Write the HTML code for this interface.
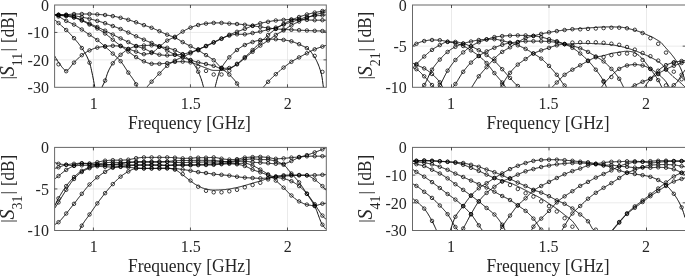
<!DOCTYPE html>
<html><head><meta charset="utf-8"><title>S-parameters</title>
<style>html,body{margin:0;padding:0;background:#fff;}body{width:685px;height:276px;overflow:hidden;}</style>
</head><body>
<svg width="685" height="276" viewBox="0 0 685 276" style="display:block">
<defs>
<clipPath id="c1"><rect x="54.6" y="5.0" width="271.7" height="82.3"/></clipPath>
<clipPath id="c2"><rect x="412.5" y="5.0" width="273.0" height="82.3"/></clipPath>
<clipPath id="c3"><rect x="54.6" y="147.4" width="271.7" height="83.1"/></clipPath>
<clipPath id="c4"><rect x="412.5" y="147.4" width="273.0" height="83.1"/></clipPath>
</defs>
<rect width="685" height="276" fill="#fff"/>
<line x1="93.41" y1="5.0" x2="93.41" y2="87.3" stroke="#dcdcdc" stroke-width="0.6"/>
<line x1="190.45" y1="5.0" x2="190.45" y2="87.3" stroke="#dcdcdc" stroke-width="0.6"/>
<line x1="287.49" y1="5.0" x2="287.49" y2="87.3" stroke="#dcdcdc" stroke-width="0.6"/>
<line x1="54.6" y1="32.43" x2="326.3" y2="32.43" stroke="#dcdcdc" stroke-width="0.6"/>
<line x1="54.6" y1="59.87" x2="326.3" y2="59.87" stroke="#dcdcdc" stroke-width="0.6"/>
<g clip-path="url(#c1)" fill="none" stroke="#000">
<path d="M54.6,14.7 L55.1,14.7 L55.6,14.7 L56.1,14.7 L56.6,14.7 L57.1,14.7 L57.6,14.7 L58.1,14.7 L58.6,14.7 L59.1,14.7 L59.6,14.7 L60.1,14.7 L60.6,14.7 L61.1,14.7 L61.6,14.7 L62.1,14.7 L62.6,14.7 L63.1,14.7 L63.6,14.7 L64.1,14.7 L64.6,14.7 L65.1,14.7 L65.6,14.7 L66.1,14.7 L66.6,14.7 L67.1,14.7 L67.6,14.6 L68.1,14.6 L68.6,14.5 L69.1,14.5 L69.6,14.4 L70.1,14.4 L70.6,14.3 L71.1,14.2 L71.6,14.2 L72.1,14.1 L72.6,14.1 L73.1,14.0 L73.6,14.0 L74.1,14.0 L74.6,14.0 L75.1,14.0 L75.6,14.0 L76.1,14.0 L76.6,14.0 L77.1,14.0 L77.6,14.0 L78.1,14.0 L78.6,14.0 L79.1,14.0 L79.6,14.0 L80.1,14.0 L80.6,14.0 L81.1,14.0 L81.6,14.0 L82.1,14.0 L82.6,14.0 L83.1,14.0 L83.6,14.0 L84.1,14.0 L84.6,14.0 L85.1,14.0 L85.6,14.0 L86.1,14.0 L86.6,14.0 L87.1,14.0 L87.6,14.0 L88.1,14.0 L88.6,14.0 L89.1,14.0 L89.6,14.0 L90.1,14.0 L90.6,14.0 L91.1,14.0 L91.6,14.0 L92.1,14.1 L92.6,14.1 L93.1,14.1 L93.6,14.2 L94.1,14.2 L94.6,14.2 L95.1,14.3 L95.6,14.3 L96.1,14.3 L96.6,14.4 L97.1,14.4 L97.6,14.4 L98.1,14.5 L98.6,14.5 L99.1,14.5 L99.6,14.6 L100.1,14.6 L100.6,14.6 L101.1,14.7 L101.6,14.7 L102.1,14.7 L102.6,14.8 L103.1,14.8 L103.6,14.9 L104.1,14.9 L104.6,15.0 L105.1,15.0 L105.6,15.1 L106.1,15.1 L106.6,15.2 L107.1,15.2 L107.6,15.3 L108.1,15.3 L108.6,15.4 L109.1,15.5 L109.6,15.6 L110.1,15.6 L110.6,15.7 L111.1,15.8 L111.6,15.9 L112.1,15.9 L112.6,16.0 L113.1,16.1 L113.6,16.2 L114.1,16.3 L114.6,16.4 L115.1,16.5 L115.6,16.6 L116.1,16.7 L116.6,16.8 L117.1,17.0 L117.6,17.1 L118.1,17.2 L118.6,17.3 L119.1,17.4 L119.6,17.6 L120.1,17.7 L120.6,17.8 L121.1,17.9 L121.6,18.0 L122.1,18.2 L122.6,18.3 L123.1,18.4 L123.6,18.5 L124.1,18.7 L124.6,18.8 L125.1,18.9 L125.6,19.0 L126.1,19.2 L126.6,19.3 L127.1,19.5 L127.6,19.6 L128.1,19.7 L128.6,19.9 L129.1,20.0 L129.6,20.2 L130.1,20.3 L130.6,20.5 L131.1,20.6 L131.6,20.8 L132.1,21.0 L132.6,21.1 L133.1,21.3 L133.6,21.5 L134.1,21.6 L134.6,21.8 L135.1,22.0 L135.6,22.1 L136.1,22.3 L136.6,22.5 L137.1,22.6 L137.6,22.8 L138.1,23.0 L138.6,23.2 L139.1,23.4 L139.6,23.5 L140.1,23.7 L140.6,23.9 L141.1,24.1 L141.6,24.3 L142.1,24.5 L142.6,24.6 L143.1,24.8 L143.6,25.0 L144.1,25.2 L144.6,25.4 L145.1,25.5 L145.6,25.7 L146.1,25.9 L146.6,26.0 L147.1,26.2 L147.6,26.4 L148.1,26.5 L148.6,26.7 L149.1,26.9 L149.6,27.1 L150.1,27.2 L150.6,27.4 L151.1,27.6 L151.6,27.8 L152.1,28.0 L152.6,28.2 L153.1,28.4 L153.6,28.6 L154.1,28.8 L154.6,29.0 L155.1,29.3 L155.6,29.5 L156.1,29.7 L156.6,29.9 L157.1,30.2 L157.6,30.4 L158.1,30.6 L158.6,30.8 L159.1,31.1 L159.6,31.3 L160.1,31.5 L160.6,31.7 L161.1,32.0 L161.6,32.2 L162.1,32.4 L162.6,32.7 L163.1,32.9 L163.6,33.1 L164.1,33.4 L164.6,33.6 L165.1,33.8 L165.6,34.0 L166.1,34.3 L166.6,34.5 L167.1,34.7 L167.6,34.9 L168.1,35.1 L168.6,35.3 L169.1,35.4 L169.6,35.6 L170.1,35.8 L170.6,36.0 L171.1,36.1 L171.6,36.3 L172.1,36.5 L172.6,36.7 L173.1,36.8 L173.6,37.0 L174.1,37.2 L174.6,37.5 L175.1,37.7 L175.6,37.9 L176.1,38.2 L176.6,38.4 L177.1,38.7 L177.6,39.0 L178.1,39.3 L178.6,39.6 L179.1,39.9 L179.6,40.2 L180.1,40.6 L180.6,40.9 L181.1,41.2 L181.6,41.5 L182.1,41.8 L182.6,42.1 L183.1,42.3 L183.6,42.6 L184.1,42.9 L184.6,43.1 L185.1,43.4 L185.6,43.7 L186.1,43.9 L186.6,44.2 L187.1,44.5 L187.6,44.7 L188.1,45.0 L188.6,45.2 L189.1,45.5 L189.6,45.8 L190.1,46.0 L190.6,46.3 L191.1,46.5 L191.6,46.8 L192.1,47.1 L192.6,47.3 L193.1,47.6 L193.6,47.8 L194.1,48.1 L194.6,48.3 L195.1,48.6 L195.6,48.9 L196.1,49.1 L196.6,49.4 L197.1,49.7 L197.6,50.0 L198.1,50.2 L198.6,50.5 L199.1,50.8 L199.6,51.1 L200.1,51.4 L200.6,51.7 L201.1,52.0 L201.6,52.3 L202.1,52.6 L202.6,53.0 L203.1,53.3 L203.6,53.6 L204.1,53.9 L204.6,54.2 L205.1,54.5 L205.6,54.9 L206.1,55.2 L206.6,55.5 L207.1,55.8 L207.6,56.1 L208.1,56.4 L208.6,56.7 L209.1,57.0 L209.6,57.3 L210.1,57.6 L210.6,58.0 L211.1,58.3 L211.6,58.6 L212.1,59.0 L212.6,59.3 L213.1,59.7 L213.6,60.1 L214.1,60.5 L214.6,60.9 L215.1,61.4 L215.6,61.9 L216.1,62.4 L216.6,63.0 L217.1,63.5 L217.6,64.1 L218.1,64.6 L218.6,65.2 L219.1,65.7 L219.6,66.3 L220.1,66.8 L220.6,67.3 L221.1,67.8 L221.6,68.3 L222.1,68.7 L222.6,69.2 L223.1,69.6 L223.6,70.0 L224.1,70.4 L224.6,70.8 L225.1,71.1 L225.6,71.5 L226.1,71.9 L226.6,72.3 L227.1,72.7 L227.6,73.1 L228.1,73.5 L228.6,74.0 L229.1,74.4 L229.6,74.9 L230.1,75.4 L230.6,75.9 L231.1,76.4 L231.6,76.9 L232.1,77.4 L232.6,78.0 L233.1,78.5 L233.6,79.1 L234.1,79.6 L234.6,80.2 L235.1,80.9 L235.6,81.5 L236.1,82.2 L236.6,82.9 L237.1,83.6 L237.6,84.4 L238.1,85.4 L238.6,86.4 L239.1,87.3 L239.6,88.2 L240.1,89.1 L240.6,90.0 L241.1,91.0 L241.6,91.9 L242.1,92.8" stroke-width="0.95"/>
<circle cx="58.5" cy="14.7" r="1.75" stroke-width="0.75"/>
<circle cx="66.2" cy="14.7" r="1.75" stroke-width="0.75"/>
<circle cx="74.0" cy="14.0" r="1.75" stroke-width="0.75"/>
<circle cx="81.8" cy="14.0" r="1.75" stroke-width="0.75"/>
<circle cx="89.5" cy="14.0" r="1.75" stroke-width="0.75"/>
<circle cx="97.3" cy="14.4" r="1.75" stroke-width="0.75"/>
<circle cx="105.1" cy="15.0" r="1.75" stroke-width="0.75"/>
<circle cx="112.8" cy="16.1" r="1.75" stroke-width="0.75"/>
<circle cx="120.6" cy="17.8" r="1.75" stroke-width="0.75"/>
<circle cx="128.3" cy="19.8" r="1.75" stroke-width="0.75"/>
<circle cx="136.1" cy="22.3" r="1.75" stroke-width="0.75"/>
<circle cx="143.9" cy="25.1" r="1.75" stroke-width="0.75"/>
<circle cx="151.6" cy="27.8" r="1.75" stroke-width="0.75"/>
<circle cx="159.4" cy="31.2" r="1.75" stroke-width="0.75"/>
<circle cx="167.2" cy="34.7" r="1.75" stroke-width="0.75"/>
<circle cx="174.9" cy="37.6" r="1.75" stroke-width="0.75"/>
<circle cx="182.7" cy="42.1" r="1.75" stroke-width="0.75"/>
<circle cx="190.5" cy="46.2" r="1.75" stroke-width="0.75"/>
<circle cx="198.2" cy="50.3" r="1.75" stroke-width="0.75"/>
<circle cx="206.0" cy="55.1" r="1.75" stroke-width="0.75"/>
<circle cx="213.7" cy="60.2" r="1.75" stroke-width="0.75"/>
<circle cx="221.5" cy="68.2" r="1.75" stroke-width="0.75"/>
<circle cx="229.3" cy="74.6" r="1.75" stroke-width="0.75"/>
<circle cx="237.0" cy="83.5" r="1.75" stroke-width="0.75"/>
<path d="M258.0,93.2 L258.5,92.6 L259.0,92.1 L259.5,91.5 L260.0,90.9 L260.5,90.4 L261.0,89.8 L261.5,89.2 L262.0,88.7 L262.5,88.1 L263.0,87.5 L263.5,87.0 L264.0,86.4 L264.5,85.8 L265.0,85.3 L265.5,84.7 L266.0,84.1 L266.5,83.5 L267.0,83.0 L267.5,82.4 L268.0,81.9 L268.5,81.4 L269.0,80.9 L269.5,80.3 L270.0,79.8 L270.5,79.3 L271.0,78.8 L271.5,78.3 L272.0,77.8 L272.5,77.3 L273.0,76.8 L273.5,76.4 L274.0,75.9 L274.5,75.4 L275.0,74.9 L275.5,74.5 L276.0,74.0 L276.5,73.6 L277.0,73.1 L277.5,72.7 L278.0,72.3 L278.5,71.8 L279.0,71.4 L279.5,71.0 L280.0,70.6 L280.5,70.2 L281.0,69.7 L281.5,69.3 L282.0,68.9 L282.5,68.5 L283.0,68.1 L283.5,67.7 L284.0,67.3 L284.5,66.9 L285.0,66.5 L285.5,66.1 L286.0,65.7 L286.5,65.3 L287.0,65.0 L287.5,64.6 L288.0,64.2 L288.5,63.8 L289.0,63.5 L289.5,63.1 L290.0,62.7 L290.5,62.4 L291.0,62.1 L291.5,61.7 L292.0,61.4 L292.5,61.1 L293.0,60.8 L293.5,60.5 L294.0,60.2 L294.5,59.9 L295.0,59.7 L295.5,59.4 L296.0,59.1 L296.5,58.8 L297.0,58.6 L297.5,58.3 L298.0,58.0 L298.5,57.7 L299.0,57.5 L299.5,57.2 L300.0,56.9 L300.5,56.6 L301.0,56.4 L301.5,56.1 L302.0,55.8 L302.5,55.6 L303.0,55.3 L303.5,55.0 L304.0,54.8 L304.5,54.5 L305.0,54.2 L305.5,54.0 L306.0,53.7 L306.5,53.5 L307.0,53.2 L307.5,52.9 L308.0,52.7 L308.5,52.4 L309.0,52.1 L309.5,51.8 L310.0,51.6 L310.5,51.3 L311.0,51.0 L311.5,50.8 L312.0,50.5 L312.5,50.3 L313.0,50.0 L313.5,49.8 L314.0,49.6 L314.5,49.3 L315.0,49.1 L315.5,48.9 L316.0,48.8 L316.5,48.6 L317.0,48.4 L317.5,48.2 L318.0,48.0 L318.5,47.9 L319.0,47.7 L319.5,47.5 L320.0,47.4 L320.5,47.2 L321.0,47.1 L321.5,46.9 L322.0,46.7 L322.5,46.5 L323.0,46.4 L323.5,46.2 L324.0,46.0 L324.5,45.8 L325.0,45.6 L325.5,45.5 L326.0,45.3" stroke-width="0.95"/>
<circle cx="268.1" cy="81.8" r="1.75" stroke-width="0.75"/>
<circle cx="275.8" cy="74.2" r="1.75" stroke-width="0.75"/>
<circle cx="283.6" cy="67.6" r="1.75" stroke-width="0.75"/>
<circle cx="291.4" cy="61.8" r="1.75" stroke-width="0.75"/>
<circle cx="299.1" cy="57.4" r="1.75" stroke-width="0.75"/>
<circle cx="306.9" cy="53.3" r="1.75" stroke-width="0.75"/>
<circle cx="314.7" cy="49.3" r="1.75" stroke-width="0.75"/>
<circle cx="322.4" cy="46.6" r="1.75" stroke-width="0.75"/>
<path d="M54.6,55.8 L55.1,56.7 L55.6,57.6 L56.1,58.4 L56.6,59.3 L57.1,60.1 L57.6,60.9 L58.1,61.7 L58.6,62.5 L59.1,63.2 L59.6,63.9 L60.1,64.6 L60.6,65.2 L61.1,65.9 L61.6,66.6 L62.1,67.2 L62.6,67.8 L63.1,68.3 L63.6,68.9 L64.1,69.4 L64.6,69.9 L65.1,70.4 L65.6,70.9 L66.1,71.3" stroke-width="0.95"/>
<path d="M66.1,71.3 L66.6,70.9 L67.1,70.6 L67.6,70.2 L68.1,69.7 L68.6,69.2 L69.1,68.7 L69.6,68.1 L70.1,67.5 L70.6,66.8 L71.1,66.2 L71.6,65.5 L72.1,64.9 L72.6,64.2 L73.1,63.6 L73.6,63.0 L74.1,62.5 L74.6,62.0 L75.1,61.4 L75.6,60.9 L76.1,60.4 L76.6,59.9 L77.1,59.4 L77.6,58.9 L78.1,58.4 L78.6,57.9 L79.1,57.5 L79.6,57.0 L80.1,56.6 L80.6,56.2 L81.1,55.8 L81.6,55.4 L82.1,55.0 L82.6,54.6 L83.1,54.3 L83.6,53.9 L84.1,53.6 L84.6,53.2 L85.1,52.9 L85.6,52.6 L86.1,52.3 L86.6,52.0 L87.1,51.7 L87.6,51.4 L88.1,51.1 L88.6,50.9 L89.1,50.6 L89.6,50.4 L90.1,50.2 L90.6,49.9 L91.1,49.7 L91.6,49.5 L92.1,49.3 L92.6,49.1 L93.1,48.9 L93.6,48.7 L94.1,48.5 L94.6,48.3 L95.1,48.2 L95.6,48.0 L96.1,47.9 L96.6,47.7 L97.1,47.6 L97.6,47.5 L98.1,47.4 L98.6,47.3 L99.1,47.2 L99.6,47.1 L100.1,47.0 L100.6,47.0 L101.1,46.9 L101.6,46.8 L102.1,46.7 L102.6,46.7 L103.1,46.6 L103.6,46.5 L104.1,46.5 L104.6,46.4 L105.1,46.4 L105.6,46.3 L106.1,46.3 L106.6,46.2 L107.1,46.2 L107.6,46.1 L108.1,46.1 L108.6,46.0 L109.1,46.0 L109.6,45.9 L110.1,45.9 L110.6,45.9 L111.1,45.8 L111.6,45.8 L112.1,45.8 L112.6,45.8 L113.1,45.8 L113.6,45.8 L114.1,45.8 L114.6,45.8 L115.1,45.8 L115.6,45.9 L116.1,45.9 L116.6,45.9 L117.1,45.9 L117.6,46.0 L118.1,46.0 L118.6,46.0 L119.1,46.1 L119.6,46.1 L120.1,46.2 L120.6,46.2 L121.1,46.3 L121.6,46.4 L122.1,46.5 L122.6,46.6 L123.1,46.8 L123.6,47.0 L124.1,47.2 L124.6,47.4 L125.1,47.6 L125.6,47.8 L126.1,48.0 L126.6,48.2 L127.1,48.4 L127.6,48.6 L128.1,48.8 L128.6,49.0 L129.1,49.2 L129.6,49.3 L130.1,49.5 L130.6,49.7 L131.1,49.9 L131.6,50.0 L132.1,50.2 L132.6,50.4 L133.1,50.6 L133.6,50.7 L134.1,50.9 L134.6,51.1 L135.1,51.3 L135.6,51.4 L136.1,51.6 L136.6,51.8 L137.1,52.0 L137.6,52.2 L138.1,52.4 L138.6,52.6 L139.1,52.8 L139.6,53.1 L140.1,53.3 L140.6,53.5 L141.1,53.7 L141.6,53.8 L142.1,54.0 L142.6,54.1 L143.1,54.2 L143.6,54.2 L144.1,54.2 L144.6,54.2 L145.1,54.2 L145.6,54.1 L146.1,54.1 L146.6,54.0 L147.1,53.9 L147.6,53.8 L148.1,53.8 L148.6,53.7 L149.1,53.5 L149.6,53.4 L150.1,53.3 L150.6,53.2 L151.1,53.0 L151.6,52.9 L152.1,52.7 L152.6,52.5 L153.1,52.2 L153.6,51.9 L154.1,51.5 L154.6,51.1 L155.1,50.7 L155.6,50.2 L156.1,49.7 L156.6,49.3 L157.1,48.8 L157.6,48.3 L158.1,47.8 L158.6,47.4 L159.1,46.9 L159.6,46.5 L160.1,46.1 L160.6,45.7 L161.1,45.3 L161.6,44.9 L162.1,44.5 L162.6,44.0 L163.1,43.6 L163.6,43.2 L164.1,42.8 L164.6,42.4 L165.1,42.0 L165.6,41.6 L166.1,41.3 L166.6,41.0 L167.1,40.6 L167.6,40.3 L168.1,40.1 L168.6,39.8 L169.1,39.6 L169.6,39.3 L170.1,39.1 L170.6,38.9 L171.1,38.6 L171.6,38.4 L172.1,38.2 L172.6,38.0 L173.1,37.7 L173.6,37.5 L174.1,37.2 L174.6,37.0 L175.1,36.7 L175.6,36.4 L176.1,36.1 L176.6,35.8 L177.1,35.4 L177.6,35.1 L178.1,34.7 L178.6,34.4 L179.1,34.0 L179.6,33.6 L180.1,33.3 L180.6,32.9 L181.1,32.6 L181.6,32.3 L182.1,32.0 L182.6,31.7 L183.1,31.4 L183.6,31.1 L184.1,30.8 L184.6,30.5 L185.1,30.2 L185.6,29.9 L186.1,29.7 L186.6,29.4 L187.1,29.2 L187.6,28.9 L188.1,28.7 L188.6,28.4 L189.1,28.2 L189.6,28.0 L190.1,27.7 L190.6,27.5 L191.1,27.3 L191.6,27.1 L192.1,26.9 L192.6,26.8 L193.1,26.6 L193.6,26.4 L194.1,26.2 L194.6,26.0 L195.1,25.9 L195.6,25.7 L196.1,25.6 L196.6,25.4 L197.1,25.3 L197.6,25.1 L198.1,25.0 L198.6,24.9 L199.1,24.8 L199.6,24.7 L200.1,24.6 L200.6,24.5 L201.1,24.4 L201.6,24.3 L202.1,24.2 L202.6,24.1 L203.1,24.0 L203.6,23.9 L204.1,23.9 L204.6,23.8 L205.1,23.7 L205.6,23.6 L206.1,23.6 L206.6,23.5 L207.1,23.5 L207.6,23.4 L208.1,23.3 L208.6,23.3 L209.1,23.2 L209.6,23.2 L210.1,23.1 L210.6,23.1 L211.1,23.0 L211.6,23.0 L212.1,22.9 L212.6,22.9 L213.1,22.9 L213.6,22.9 L214.1,22.9 L214.6,22.9 L215.1,22.9 L215.6,22.9 L216.1,22.9 L216.6,22.9 L217.1,22.9 L217.6,22.9 L218.1,22.9 L218.6,22.9 L219.1,22.9 L219.6,22.9 L220.1,22.9 L220.6,22.9 L221.1,22.9 L221.6,22.9 L222.1,22.9 L222.6,22.9 L223.1,23.0 L223.6,23.0 L224.1,23.0 L224.6,23.1 L225.1,23.2 L225.6,23.2 L226.1,23.3 L226.6,23.3 L227.1,23.4 L227.6,23.4 L228.1,23.5 L228.6,23.5 L229.1,23.6 L229.6,23.6 L230.1,23.7 L230.6,23.7 L231.1,23.7 L231.6,23.7 L232.1,23.8 L232.6,23.8 L233.1,23.8 L233.6,23.8 L234.1,23.8 L234.6,23.9 L235.1,23.9 L235.6,23.9 L236.1,23.9 L236.6,24.0 L237.1,24.0 L237.6,24.0 L238.1,24.1 L238.6,24.1 L239.1,24.2 L239.6,24.2 L240.1,24.3 L240.6,24.3 L241.1,24.4 L241.6,24.4 L242.1,24.5 L242.6,24.5 L243.1,24.6 L243.6,24.7 L244.1,24.7 L244.6,24.8 L245.1,24.8 L245.6,24.9 L246.1,25.0 L246.6,25.0 L247.1,25.1 L247.6,25.1 L248.1,25.2 L248.6,25.3 L249.1,25.3 L249.6,25.4 L250.1,25.5 L250.6,25.5 L251.1,25.6 L251.6,25.7 L252.1,25.7 L252.6,25.8 L253.1,25.9 L253.6,25.9 L254.1,26.0 L254.6,26.1 L255.1,26.2 L255.6,26.2 L256.1,26.3 L256.6,26.4 L257.1,26.4 L257.6,26.5 L258.1,26.6 L258.6,26.7 L259.1,26.7 L259.6,26.8 L260.1,26.9 L260.6,26.9 L261.1,27.0 L261.6,27.1 L262.1,27.1 L262.6,27.2 L263.1,27.3 L263.6,27.3 L264.1,27.4 L264.6,27.5 L265.1,27.5 L265.6,27.6 L266.1,27.6 L266.6,27.7 L267.1,27.8 L267.6,27.8 L268.1,27.9 L268.6,28.0 L269.1,28.0 L269.6,28.1 L270.1,28.2 L270.6,28.2 L271.1,28.3 L271.6,28.4 L272.1,28.5 L272.6,28.5 L273.1,28.6 L273.6,28.7 L274.1,28.7 L274.6,28.8 L275.1,28.8 L275.6,28.9 L276.1,28.9 L276.6,29.0 L277.1,29.0 L277.6,29.0 L278.1,29.1 L278.6,29.1 L279.1,29.1 L279.6,29.2 L280.1,29.2 L280.6,29.2 L281.1,29.3 L281.6,29.3 L282.1,29.3 L282.6,29.3 L283.1,29.4 L283.6,29.4 L284.1,29.4 L284.6,29.5 L285.1,29.5 L285.6,29.5 L286.1,29.5 L286.6,29.6 L287.1,29.6 L287.6,29.6 L288.1,29.6 L288.6,29.7 L289.1,29.7 L289.6,29.7 L290.1,29.7 L290.6,29.8 L291.1,29.8 L291.6,29.8 L292.1,29.8 L292.6,29.9 L293.1,29.9 L293.6,29.9 L294.1,29.9 L294.6,30.0 L295.1,30.0 L295.6,30.0 L296.1,30.1 L296.6,30.1 L297.1,30.1 L297.6,30.1 L298.1,30.2 L298.6,30.2 L299.1,30.2 L299.6,30.2 L300.1,30.2 L300.6,30.3 L301.1,30.3 L301.6,30.3 L302.1,30.3 L302.6,30.3 L303.1,30.4 L303.6,30.4 L304.1,30.4 L304.6,30.4 L305.1,30.4 L305.6,30.5 L306.1,30.5 L306.6,30.5 L307.1,30.5 L307.6,30.5 L308.1,30.5 L308.6,30.6 L309.1,30.6 L309.6,30.6 L310.1,30.6 L310.6,30.7 L311.1,30.7 L311.6,30.7 L312.1,30.7 L312.6,30.7 L313.1,30.7 L313.6,30.8 L314.1,30.8 L314.6,30.8 L315.1,30.8 L315.6,30.8 L316.1,30.8 L316.6,30.9 L317.1,30.9 L317.6,30.9 L318.1,30.9 L318.6,30.9 L319.1,30.9 L319.6,30.9 L320.1,30.9 L320.6,31.0 L321.1,31.0 L321.6,31.0 L322.1,31.0 L322.6,31.0 L323.1,31.0 L323.6,31.0 L324.1,31.0 L324.6,31.1 L325.1,31.1 L325.6,31.1 L326.1,31.1" stroke-width="0.95"/>
<circle cx="66.2" cy="71.2" r="1.75" stroke-width="0.75"/>
<circle cx="74.0" cy="62.6" r="1.75" stroke-width="0.75"/>
<circle cx="81.8" cy="55.2" r="1.75" stroke-width="0.75"/>
<circle cx="89.5" cy="50.4" r="1.75" stroke-width="0.75"/>
<circle cx="97.3" cy="47.6" r="1.75" stroke-width="0.75"/>
<circle cx="105.1" cy="46.4" r="1.75" stroke-width="0.75"/>
<circle cx="112.8" cy="45.8" r="1.75" stroke-width="0.75"/>
<circle cx="120.6" cy="46.2" r="1.75" stroke-width="0.75"/>
<circle cx="128.3" cy="48.9" r="1.75" stroke-width="0.75"/>
<circle cx="136.1" cy="51.6" r="1.75" stroke-width="0.75"/>
<circle cx="143.9" cy="54.2" r="1.75" stroke-width="0.75"/>
<circle cx="151.6" cy="52.9" r="1.75" stroke-width="0.75"/>
<circle cx="159.4" cy="46.7" r="1.75" stroke-width="0.75"/>
<circle cx="167.2" cy="40.6" r="1.75" stroke-width="0.75"/>
<circle cx="174.9" cy="36.8" r="1.75" stroke-width="0.75"/>
<circle cx="182.7" cy="31.6" r="1.75" stroke-width="0.75"/>
<circle cx="190.5" cy="27.6" r="1.75" stroke-width="0.75"/>
<circle cx="198.2" cy="25.0" r="1.75" stroke-width="0.75"/>
<circle cx="206.0" cy="23.6" r="1.75" stroke-width="0.75"/>
<circle cx="213.7" cy="22.9" r="1.75" stroke-width="0.75"/>
<circle cx="221.5" cy="22.9" r="1.75" stroke-width="0.75"/>
<circle cx="229.3" cy="23.6" r="1.75" stroke-width="0.75"/>
<circle cx="237.0" cy="24.0" r="1.75" stroke-width="0.75"/>
<circle cx="244.8" cy="24.8" r="1.75" stroke-width="0.75"/>
<circle cx="252.6" cy="25.8" r="1.75" stroke-width="0.75"/>
<circle cx="260.3" cy="26.9" r="1.75" stroke-width="0.75"/>
<circle cx="268.1" cy="27.9" r="1.75" stroke-width="0.75"/>
<circle cx="275.8" cy="28.9" r="1.75" stroke-width="0.75"/>
<circle cx="283.6" cy="29.4" r="1.75" stroke-width="0.75"/>
<circle cx="291.4" cy="29.8" r="1.75" stroke-width="0.75"/>
<circle cx="299.1" cy="30.2" r="1.75" stroke-width="0.75"/>
<circle cx="306.9" cy="30.5" r="1.75" stroke-width="0.75"/>
<circle cx="314.7" cy="30.8" r="1.75" stroke-width="0.75"/>
<circle cx="322.4" cy="31.0" r="1.75" stroke-width="0.75"/>
<circle cx="58.5" cy="64.3" r="1.75" stroke-width="0.75"/>
<path d="M54.6,19.6 L55.1,20.0 L55.6,20.5 L56.1,21.0 L56.6,21.4 L57.1,21.9 L57.6,22.3 L58.1,22.8 L58.6,23.2 L59.1,23.7 L59.6,24.1 L60.1,24.5 L60.6,25.0 L61.1,25.4 L61.6,25.8 L62.1,26.3 L62.6,26.7 L63.1,27.1 L63.6,27.6 L64.1,28.0 L64.6,28.5 L65.1,28.9 L65.6,29.4 L66.1,29.9 L66.6,30.3 L67.1,30.8 L67.6,31.3 L68.1,31.8 L68.6,32.3 L69.1,32.9 L69.6,33.4 L70.1,33.9 L70.6,34.4 L71.1,35.0 L71.6,35.5 L72.1,36.1 L72.6,36.6 L73.1,37.2 L73.6,37.7 L74.1,38.3 L74.6,38.9 L75.1,39.5 L75.6,40.0 L76.1,40.6 L76.6,41.2 L77.1,41.8 L77.6,42.4 L78.1,43.0 L78.6,43.6 L79.1,44.3 L79.6,44.9 L80.1,45.6 L80.6,46.3 L81.1,47.0 L81.6,47.7 L82.1,48.5 L82.6,49.3 L83.1,50.0 L83.6,50.8 L84.1,51.6 L84.6,52.4 L85.1,53.2 L85.6,54.1 L86.1,55.0 L86.6,55.9 L87.1,56.9 L87.6,58.0 L88.1,59.1 L88.6,60.3 L89.1,61.5 L89.6,62.9 L90.1,64.5 L90.6,66.4 L91.1,68.5 L91.6,70.8 L92.1,73.1 L92.6,75.5 L93.1,78.0 L93.6,80.6 L94.1,83.4 L94.6,86.1 L95.1,88.8 L95.6,91.4" stroke-width="0.95"/>
<circle cx="58.5" cy="23.1" r="1.75" stroke-width="0.75"/>
<circle cx="66.2" cy="30.0" r="1.75" stroke-width="0.75"/>
<circle cx="74.0" cy="38.2" r="1.75" stroke-width="0.75"/>
<circle cx="81.8" cy="48.0" r="1.75" stroke-width="0.75"/>
<circle cx="89.5" cy="62.7" r="1.75" stroke-width="0.75"/>
<path d="M99.0,93.2 L99.5,92.2 L100.0,91.1 L100.5,90.1 L101.0,89.1 L101.5,88.0 L102.0,87.0 L102.5,86.0 L103.0,85.0 L103.5,84.0 L104.0,83.0 L104.5,81.9 L105.0,80.8 L105.5,79.4 L106.0,77.9 L106.5,76.3 L107.0,74.7 L107.5,73.3 L108.0,72.0 L108.5,70.9 L109.0,69.8 L109.5,68.8 L110.0,67.9 L110.5,67.0 L111.0,66.1 L111.5,65.3 L112.0,64.5 L112.5,63.8 L113.0,63.1 L113.5,62.4 L114.0,61.8 L114.5,61.1 L115.0,60.5 L115.5,59.9 L116.0,59.4 L116.5,58.8 L117.0,58.3 L117.5,57.8 L118.0,57.2 L118.5,56.8 L119.0,56.3 L119.5,55.8 L120.0,55.4 L120.5,54.9 L121.0,54.5 L121.5,54.0 L122.0,53.6 L122.5,53.2 L123.0,52.8 L123.5,52.3 L124.0,51.9 L124.5,51.6 L125.0,51.2 L125.5,50.8 L126.0,50.5 L126.5,50.2 L127.0,49.9 L127.5,49.6 L128.0,49.3 L128.5,49.1 L129.0,48.8 L129.5,48.6 L130.0,48.3 L130.5,48.1 L131.0,47.9 L131.5,47.7 L132.0,47.5 L132.5,47.3 L133.0,47.1 L133.5,46.9 L134.0,46.8 L134.5,46.6 L135.0,46.5 L135.5,46.4 L136.0,46.3 L136.5,46.2 L137.0,46.1 L137.5,46.1 L138.0,46.0 L138.5,45.9 L139.0,45.9 L139.5,45.8 L140.0,45.8 L140.5,45.7 L141.0,45.7 L141.5,45.6 L142.0,45.6 L142.5,45.6 L143.0,45.5 L143.5,45.5 L144.0,45.5 L144.5,45.5 L145.0,45.4 L145.5,45.4 L146.0,45.4 L146.5,45.4 L147.0,45.4 L147.5,45.4 L148.0,45.3 L148.5,45.3 L149.0,45.3 L149.5,45.3 L150.0,45.3 L150.5,45.3 L151.0,45.3 L151.5,45.3 L152.0,45.3 L152.5,45.3 L153.0,45.4 L153.5,45.5 L154.0,45.5 L154.5,45.6 L155.0,45.7 L155.5,45.8 L156.0,45.9 L156.5,46.0 L157.0,46.1 L157.5,46.3 L158.0,46.4 L158.5,46.5 L159.0,46.5 L159.5,46.6 L160.0,46.7 L160.5,46.8 L161.0,46.9 L161.5,46.9 L162.0,47.0 L162.5,47.1 L163.0,47.1 L163.5,47.2 L164.0,47.3 L164.5,47.4 L165.0,47.4 L165.5,47.5 L166.0,47.6 L166.5,47.7 L167.0,47.8 L167.5,47.9 L168.0,48.0 L168.5,48.1 L169.0,48.3 L169.5,48.4 L170.0,48.5 L170.5,48.7 L171.0,48.8 L171.5,49.0 L172.0,49.2 L172.5,49.3 L173.0,49.5 L173.5,49.7 L174.0,49.9 L174.5,50.1 L175.0,50.3 L175.5,50.5 L176.0,50.7 L176.5,50.9 L177.0,51.2 L177.5,51.4 L178.0,51.7 L178.5,52.0 L179.0,52.2 L179.5,52.5 L180.0,52.8 L180.5,53.1 L181.0,53.4 L181.5,53.7 L182.0,54.1 L182.5,54.4 L183.0,54.7 L183.5,55.1 L184.0,55.5 L184.5,56.0 L185.0,56.4 L185.5,56.8 L186.0,57.2 L186.5,57.6 L187.0,57.9 L187.5,58.3 L188.0,58.7 L188.5,59.0 L189.0,59.4 L189.5,59.8 L190.0,60.2 L190.5,60.6 L191.0,61.0 L191.5,61.4 L192.0,61.9 L192.5,62.4 L193.0,63.0 L193.5,63.7 L194.0,64.4 L194.5,65.1 L195.0,65.9 L195.5,66.7 L196.0,67.5 L196.5,68.4 L197.0,69.3 L197.5,70.3 L198.0,71.3 L198.5,72.3 L199.0,73.4 L199.5,74.6 L200.0,75.9 L200.5,77.2 L201.0,78.5 L201.5,80.0 L202.0,81.6 L202.5,83.3 L203.0,85.2 L203.5,86.9 L204.0,88.7 L204.5,90.4 L205.0,92.1" stroke-width="0.95"/>
<circle cx="105.1" cy="80.6" r="1.75" stroke-width="0.75"/>
<circle cx="112.8" cy="63.3" r="1.75" stroke-width="0.75"/>
<circle cx="120.6" cy="54.8" r="1.75" stroke-width="0.75"/>
<circle cx="128.3" cy="49.1" r="1.75" stroke-width="0.75"/>
<circle cx="136.1" cy="46.3" r="1.75" stroke-width="0.75"/>
<circle cx="143.9" cy="45.5" r="1.75" stroke-width="0.75"/>
<circle cx="151.6" cy="45.3" r="1.75" stroke-width="0.75"/>
<circle cx="159.4" cy="46.6" r="1.75" stroke-width="0.75"/>
<circle cx="167.2" cy="47.8" r="1.75" stroke-width="0.75"/>
<circle cx="174.9" cy="50.2" r="1.75" stroke-width="0.75"/>
<circle cx="182.7" cy="54.5" r="1.75" stroke-width="0.75"/>
<circle cx="190.5" cy="60.5" r="1.75" stroke-width="0.75"/>
<circle cx="198.2" cy="71.7" r="1.75" stroke-width="0.75"/>
<path d="M214.0,91.4 L214.5,89.5 L215.0,87.5 L215.5,85.6 L216.0,83.6 L216.5,81.6 L217.0,79.7 L217.5,77.9 L218.0,76.2 L218.5,74.5 L219.0,73.0 L219.5,71.6 L220.0,70.4 L220.5,69.4 L221.0,68.6 L221.5,67.7 L222.0,66.9 L222.5,66.1 L223.0,65.4 L223.5,64.6 L224.0,63.9 L224.5,63.2 L225.0,62.5 L225.5,61.8 L226.0,61.1 L226.5,60.5 L227.0,59.9 L227.5,59.3 L228.0,58.7 L228.5,58.1 L229.0,57.5 L229.5,57.0 L230.0,56.4 L230.5,55.9 L231.0,55.4 L231.5,54.9 L232.0,54.4 L232.5,53.9 L233.0,53.4 L233.5,53.0 L234.0,52.5 L234.5,52.1 L235.0,51.7 L235.5,51.2 L236.0,50.8 L236.5,50.4 L237.0,50.0 L237.5,49.7 L238.0,49.3 L238.5,48.9 L239.0,48.5 L239.5,48.2 L240.0,47.8 L240.5,47.5 L241.0,47.2 L241.5,46.8 L242.0,46.5 L242.5,46.2 L243.0,45.9 L243.5,45.6 L244.0,45.4 L244.5,45.1 L245.0,44.9 L245.5,44.7 L246.0,44.4 L246.5,44.2 L247.0,44.0 L247.5,43.8 L248.0,43.6 L248.5,43.4 L249.0,43.2 L249.5,43.0 L250.0,42.8 L250.5,42.7 L251.0,42.5 L251.5,42.3 L252.0,42.2 L252.5,42.0 L253.0,41.8 L253.5,41.7 L254.0,41.5 L254.5,41.4 L255.0,41.2 L255.5,41.1 L256.0,41.0 L256.5,40.8 L257.0,40.7 L257.5,40.6 L258.0,40.5 L258.5,40.4 L259.0,40.3 L259.5,40.2 L260.0,40.1 L260.5,40.0 L261.0,39.9 L261.5,39.8 L262.0,39.7 L262.5,39.6 L263.0,39.6 L263.5,39.5 L264.0,39.4 L264.5,39.4 L265.0,39.3 L265.5,39.3 L266.0,39.2 L266.5,39.2 L267.0,39.2 L267.5,39.2 L268.0,39.2 L268.5,39.2 L269.0,39.2 L269.5,39.2 L270.0,39.2 L270.5,39.2 L271.0,39.2 L271.5,39.2 L272.0,39.2 L272.5,39.2 L273.0,39.2 L273.5,39.2 L274.0,39.2 L274.5,39.2 L275.0,39.2 L275.5,39.2 L276.0,39.2 L276.5,39.3 L277.0,39.3 L277.5,39.3 L278.0,39.3 L278.5,39.4 L279.0,39.4 L279.5,39.5 L280.0,39.5 L280.5,39.6 L281.0,39.6 L281.5,39.7 L282.0,39.7 L282.5,39.8 L283.0,39.8 L283.5,39.9 L284.0,39.9 L284.5,40.0 L285.0,40.1 L285.5,40.1 L286.0,40.2 L286.5,40.3 L287.0,40.4 L287.5,40.5 L288.0,40.6 L288.5,40.7 L289.0,40.8 L289.5,40.9 L290.0,41.0 L290.5,41.1 L291.0,41.3 L291.5,41.4 L292.0,41.6 L292.5,41.7 L293.0,41.9 L293.5,42.1 L294.0,42.2 L294.5,42.4 L295.0,42.6 L295.5,42.8 L296.0,43.0 L296.5,43.2 L297.0,43.4 L297.5,43.6 L298.0,43.8 L298.5,44.0 L299.0,44.2 L299.5,44.4 L300.0,44.7 L300.5,44.9 L301.0,45.1 L301.5,45.4 L302.0,45.6 L302.5,45.9 L303.0,46.1 L303.5,46.3 L304.0,46.6 L304.5,46.8 L305.0,47.1 L305.5,47.3 L306.0,47.6 L306.5,47.9 L307.0,48.2 L307.5,48.5 L308.0,48.9 L308.5,49.3 L309.0,49.7 L309.5,50.2 L310.0,50.7 L310.5,51.3 L311.0,51.9 L311.5,52.6 L312.0,53.3 L312.5,54.0 L313.0,54.7 L313.5,55.5 L314.0,56.2 L314.5,57.0 L315.0,57.9 L315.5,58.7 L316.0,59.7 L316.5,60.6 L317.0,61.7 L317.5,62.8 L318.0,63.9 L318.5,65.1 L319.0,66.4 L319.5,67.8 L320.0,69.3 L320.5,70.9 L321.0,72.7 L321.5,74.7 L322.0,77.1 L322.5,80.5 L323.0,84.4 L323.5,88.1 L324.0,91.7" stroke-width="0.95"/>
<circle cx="221.5" cy="67.8" r="1.75" stroke-width="0.75"/>
<circle cx="229.3" cy="57.3" r="1.75" stroke-width="0.75"/>
<circle cx="237.0" cy="50.0" r="1.75" stroke-width="0.75"/>
<circle cx="244.8" cy="45.0" r="1.75" stroke-width="0.75"/>
<circle cx="252.6" cy="42.0" r="1.75" stroke-width="0.75"/>
<circle cx="260.3" cy="40.0" r="1.75" stroke-width="0.75"/>
<circle cx="268.1" cy="39.2" r="1.75" stroke-width="0.75"/>
<circle cx="275.8" cy="39.2" r="1.75" stroke-width="0.75"/>
<circle cx="283.6" cy="39.9" r="1.75" stroke-width="0.75"/>
<circle cx="291.4" cy="41.3" r="1.75" stroke-width="0.75"/>
<circle cx="299.1" cy="44.2" r="1.75" stroke-width="0.75"/>
<circle cx="306.9" cy="48.1" r="1.75" stroke-width="0.75"/>
<circle cx="314.7" cy="55.9" r="1.75" stroke-width="0.75"/>
<circle cx="322.4" cy="71.9" r="1.75" stroke-width="0.75"/>
<path d="M54.6,14.8 L55.1,14.8 L55.6,14.8 L56.1,14.9 L56.6,14.9 L57.1,14.9 L57.6,14.9 L58.1,15.0 L58.6,15.0 L59.1,15.0 L59.6,15.1 L60.1,15.1 L60.6,15.1 L61.1,15.2 L61.6,15.2 L62.1,15.2 L62.6,15.3 L63.1,15.3 L63.6,15.3 L64.1,15.4 L64.6,15.4 L65.1,15.5 L65.6,15.5 L66.1,15.6 L66.6,15.6 L67.1,15.7 L67.6,15.8 L68.1,15.9 L68.6,16.0 L69.1,16.0 L69.6,16.1 L70.1,16.2 L70.6,16.4 L71.1,16.5 L71.6,16.6 L72.1,16.7 L72.6,16.8 L73.1,17.0 L73.6,17.1 L74.1,17.2 L74.6,17.4 L75.1,17.5 L75.6,17.7 L76.1,17.8 L76.6,18.0 L77.1,18.2 L77.6,18.4 L78.1,18.5 L78.6,18.7 L79.1,18.9 L79.6,19.1 L80.1,19.3 L80.6,19.5 L81.1,19.7 L81.6,19.9 L82.1,20.1 L82.6,20.3 L83.1,20.6 L83.6,20.8 L84.1,21.0 L84.6,21.3 L85.1,21.5 L85.6,21.7 L86.1,22.0 L86.6,22.2 L87.1,22.5 L87.6,22.7 L88.1,22.9 L88.6,23.2 L89.1,23.4 L89.6,23.6 L90.1,23.9 L90.6,24.1 L91.1,24.3 L91.6,24.5 L92.1,24.7 L92.6,24.9 L93.1,25.2 L93.6,25.4 L94.1,25.6 L94.6,25.8 L95.1,26.0 L95.6,26.2 L96.1,26.5 L96.6,26.7 L97.1,26.9 L97.6,27.1 L98.1,27.4 L98.6,27.6 L99.1,27.8 L99.6,28.1 L100.1,28.3 L100.6,28.5 L101.1,28.8 L101.6,29.0 L102.1,29.3 L102.6,29.5 L103.1,29.7 L103.6,30.0 L104.1,30.2 L104.6,30.5 L105.1,30.7 L105.6,31.0 L106.1,31.2 L106.6,31.5 L107.1,31.7 L107.6,32.0 L108.1,32.2 L108.6,32.5 L109.1,32.7 L109.6,33.0 L110.1,33.2 L110.6,33.5 L111.1,33.7 L111.6,34.0 L112.1,34.2 L112.6,34.5 L113.1,34.7 L113.6,35.0 L114.1,35.2 L114.6,35.5 L115.1,35.7 L115.6,36.0 L116.1,36.2 L116.6,36.5 L117.1,36.7 L117.6,37.0 L118.1,37.2 L118.6,37.4 L119.1,37.7 L119.6,37.9 L120.1,38.2 L120.6,38.4 L121.1,38.6 L121.6,38.9 L122.1,39.1 L122.6,39.4 L123.1,39.6 L123.6,39.8 L124.1,40.1 L124.6,40.3 L125.1,40.5 L125.6,40.8 L126.1,41.0 L126.6,41.3 L127.1,41.5 L127.6,41.7 L128.1,42.0 L128.6,42.2 L129.1,42.5 L129.6,42.7 L130.1,43.0 L130.6,43.3 L131.1,43.5 L131.6,43.8 L132.1,44.1 L132.6,44.3 L133.1,44.6 L133.6,44.8 L134.1,45.1 L134.6,45.3 L135.1,45.6 L135.6,45.8 L136.1,46.0 L136.6,46.2 L137.1,46.4 L137.6,46.6 L138.1,46.7 L138.6,46.9 L139.1,47.0 L139.6,47.2 L140.1,47.3 L140.6,47.5 L141.1,47.7 L141.6,47.8 L142.1,48.0 L142.6,48.1 L143.1,48.3 L143.6,48.5 L144.1,48.7 L144.6,48.9 L145.1,49.1 L145.6,49.3 L146.1,49.6 L146.6,49.8 L147.1,50.1 L147.6,50.3 L148.1,50.6 L148.6,50.8 L149.1,51.1 L149.6,51.3 L150.1,51.6 L150.6,51.8 L151.1,52.0 L151.6,52.2 L152.1,52.4 L152.6,52.6 L153.1,52.8 L153.6,53.0 L154.1,53.2 L154.6,53.3 L155.1,53.5 L155.6,53.7 L156.1,53.9 L156.6,54.0 L157.1,54.2 L157.6,54.3 L158.1,54.5 L158.6,54.6 L159.1,54.7 L159.6,54.7 L160.1,54.8 L160.6,54.9 L161.1,54.9 L161.6,55.0 L162.1,55.1 L162.6,55.1 L163.1,55.2 L163.6,55.2 L164.1,55.3 L164.6,55.3 L165.1,55.3 L165.6,55.4 L166.1,55.4 L166.6,55.4 L167.1,55.4 L167.6,55.4 L168.1,55.4 L168.6,55.4 L169.1,55.3 L169.6,55.3 L170.1,55.3 L170.6,55.3 L171.1,55.2 L171.6,55.2 L172.1,55.1 L172.6,55.1 L173.1,55.1 L173.6,55.0 L174.1,55.0 L174.6,54.9 L175.1,54.9 L175.6,54.8 L176.1,54.8 L176.6,54.8 L177.1,54.7 L177.6,54.7 L178.1,54.7 L178.6,54.6 L179.1,54.6 L179.6,54.5 L180.1,54.5 L180.6,54.4 L181.1,54.4 L181.6,54.3 L182.1,54.3 L182.6,54.2 L183.1,54.1 L183.6,54.1 L184.1,54.0 L184.6,53.9 L185.1,53.7 L185.6,53.6 L186.1,53.5 L186.6,53.3 L187.1,53.2 L187.6,53.0 L188.1,52.9 L188.6,52.7 L189.1,52.6 L189.6,52.4 L190.1,52.3 L190.6,52.2 L191.1,52.0 L191.6,51.9 L192.1,51.7 L192.6,51.6 L193.1,51.4 L193.6,51.3 L194.1,51.1 L194.6,51.0 L195.1,50.8 L195.6,50.6 L196.1,50.5 L196.6,50.3 L197.1,50.1 L197.6,49.9 L198.1,49.7 L198.6,49.5 L199.1,49.3 L199.6,49.1 L200.1,48.9 L200.6,48.6 L201.1,48.4 L201.6,48.1 L202.1,47.9 L202.6,47.6 L203.1,47.4 L203.6,47.1 L204.1,46.8 L204.6,46.6 L205.1,46.3 L205.6,46.1 L206.1,45.8 L206.6,45.6 L207.1,45.4 L207.6,45.1 L208.1,44.9 L208.6,44.6 L209.1,44.4 L209.6,44.2 L210.1,43.9 L210.6,43.7 L211.1,43.5 L211.6,43.2 L212.1,43.0 L212.6,42.7 L213.1,42.5 L213.6,42.3 L214.1,42.0 L214.6,41.8 L215.1,41.5 L215.6,41.3 L216.1,41.0 L216.6,40.8 L217.1,40.6 L217.6,40.3 L218.1,40.1 L218.6,39.8 L219.1,39.6 L219.6,39.3 L220.1,39.1 L220.6,38.9 L221.1,38.7 L221.6,38.5 L222.1,38.2 L222.6,38.0 L223.1,37.8 L223.6,37.6 L224.1,37.4 L224.6,37.2 L225.1,37.0 L225.6,36.8 L226.1,36.6 L226.6,36.4 L227.1,36.2 L227.6,36.1 L228.1,35.9 L228.6,35.8 L229.1,35.6 L229.6,35.5 L230.1,35.4 L230.6,35.3 L231.1,35.2 L231.6,35.1 L232.1,34.9 L232.6,34.8 L233.1,34.7 L233.6,34.6 L234.1,34.6 L234.6,34.5 L235.1,34.4 L235.6,34.4 L236.1,34.3 L236.6,34.3 L237.1,34.3 L237.6,34.3 L238.1,34.3 L238.6,34.3 L239.1,34.3 L239.6,34.3 L240.1,34.3 L240.6,34.3 L241.1,34.3 L241.6,34.3 L242.1,34.3 L242.6,34.3 L243.1,34.3 L243.6,34.3 L244.1,34.3 L244.6,34.3 L245.1,34.3 L245.6,34.3 L246.1,34.2 L246.6,34.2 L247.1,34.1 L247.6,34.0 L248.1,33.9 L248.6,33.8 L249.1,33.7 L249.6,33.6 L250.1,33.5 L250.6,33.4 L251.1,33.3 L251.6,33.2 L252.1,33.1 L252.6,33.0 L253.1,32.9 L253.6,32.8 L254.1,32.7 L254.6,32.6 L255.1,32.5 L255.6,32.4 L256.1,32.3 L256.6,32.3 L257.1,32.2 L257.6,32.1 L258.1,32.0 L258.6,31.9 L259.1,31.8 L259.6,31.7 L260.1,31.5 L260.6,31.4 L261.1,31.3 L261.6,31.2 L262.1,31.1 L262.6,31.0 L263.1,30.9 L263.6,30.7 L264.1,30.6 L264.6,30.5 L265.1,30.4 L265.6,30.2 L266.1,30.1 L266.6,30.0 L267.1,29.8 L267.6,29.7 L268.1,29.6 L268.6,29.5 L269.1,29.3 L269.6,29.2 L270.1,29.1 L270.6,29.0 L271.1,28.9 L271.6,28.7 L272.1,28.6 L272.6,28.5 L273.1,28.4 L273.6,28.2 L274.1,28.1 L274.6,28.0 L275.1,27.8 L275.6,27.7 L276.1,27.5 L276.6,27.4 L277.1,27.2 L277.6,27.0 L278.1,26.8 L278.6,26.6 L279.1,26.4 L279.6,26.2 L280.1,26.0 L280.6,25.8 L281.1,25.6 L281.6,25.4 L282.1,25.2 L282.6,25.0 L283.1,24.8 L283.6,24.6 L284.1,24.4 L284.6,24.2 L285.1,24.1 L285.6,23.9 L286.1,23.7 L286.6,23.6 L287.1,23.4 L287.6,23.2 L288.1,23.1 L288.6,22.9 L289.1,22.7 L289.6,22.6 L290.1,22.4 L290.6,22.3 L291.1,22.1 L291.6,21.9 L292.1,21.8 L292.6,21.6 L293.1,21.4 L293.6,21.3 L294.1,21.1 L294.6,21.0 L295.1,20.8 L295.6,20.6 L296.1,20.5 L296.6,20.3 L297.1,20.2 L297.6,20.0 L298.1,19.8 L298.6,19.7 L299.1,19.5 L299.6,19.3 L300.1,19.2 L300.6,19.0 L301.1,18.8 L301.6,18.6 L302.1,18.5 L302.6,18.3 L303.1,18.1 L303.6,17.9 L304.1,17.8 L304.6,17.6 L305.1,17.5 L305.6,17.3 L306.1,17.2 L306.6,17.1 L307.1,17.0 L307.6,16.9 L308.1,16.8 L308.6,16.7 L309.1,16.6 L309.6,16.5 L310.1,16.4 L310.6,16.3 L311.1,16.2 L311.6,16.1 L312.1,16.1 L312.6,16.0 L313.1,16.0 L313.6,15.9 L314.1,15.8 L314.6,15.8 L315.1,15.8 L315.6,15.7 L316.1,15.7 L316.6,15.7 L317.1,15.7 L317.6,15.6 L318.1,15.6 L318.6,15.6 L319.1,15.6 L319.6,15.6 L320.1,15.5 L320.6,15.5 L321.1,15.5 L321.6,15.5 L322.1,15.4 L322.6,15.4 L323.1,15.3 L323.6,15.3 L324.1,15.2 L324.6,15.1 L325.1,15.0 L325.6,14.9 L326.1,14.8" stroke-width="0.95"/>
<circle cx="58.5" cy="15.0" r="1.75" stroke-width="0.75"/>
<circle cx="66.2" cy="15.6" r="1.75" stroke-width="0.75"/>
<circle cx="74.0" cy="17.2" r="1.75" stroke-width="0.75"/>
<circle cx="81.8" cy="20.0" r="1.75" stroke-width="0.75"/>
<circle cx="89.5" cy="23.6" r="1.75" stroke-width="0.75"/>
<circle cx="97.3" cy="27.0" r="1.75" stroke-width="0.75"/>
<circle cx="105.1" cy="30.7" r="1.75" stroke-width="0.75"/>
<circle cx="112.8" cy="34.6" r="1.75" stroke-width="0.75"/>
<circle cx="120.6" cy="38.4" r="1.75" stroke-width="0.75"/>
<circle cx="128.3" cy="42.1" r="1.75" stroke-width="0.75"/>
<circle cx="136.1" cy="46.0" r="1.75" stroke-width="0.75"/>
<circle cx="143.9" cy="48.6" r="1.75" stroke-width="0.75"/>
<circle cx="151.6" cy="52.2" r="1.75" stroke-width="0.75"/>
<circle cx="159.4" cy="54.7" r="1.75" stroke-width="0.75"/>
<circle cx="167.2" cy="55.4" r="1.75" stroke-width="0.75"/>
<circle cx="174.9" cy="54.9" r="1.75" stroke-width="0.75"/>
<circle cx="182.7" cy="54.2" r="1.75" stroke-width="0.75"/>
<circle cx="190.5" cy="52.2" r="1.75" stroke-width="0.75"/>
<circle cx="198.2" cy="49.7" r="1.75" stroke-width="0.75"/>
<circle cx="206.0" cy="45.9" r="1.75" stroke-width="0.75"/>
<circle cx="213.7" cy="42.2" r="1.75" stroke-width="0.75"/>
<circle cx="221.5" cy="38.5" r="1.75" stroke-width="0.75"/>
<circle cx="229.3" cy="35.6" r="1.75" stroke-width="0.75"/>
<circle cx="237.0" cy="34.3" r="1.75" stroke-width="0.75"/>
<circle cx="244.8" cy="34.3" r="1.75" stroke-width="0.75"/>
<circle cx="252.6" cy="33.0" r="1.75" stroke-width="0.75"/>
<circle cx="260.3" cy="31.5" r="1.75" stroke-width="0.75"/>
<circle cx="268.1" cy="29.6" r="1.75" stroke-width="0.75"/>
<circle cx="275.8" cy="27.6" r="1.75" stroke-width="0.75"/>
<circle cx="283.6" cy="24.6" r="1.75" stroke-width="0.75"/>
<circle cx="291.4" cy="22.0" r="1.75" stroke-width="0.75"/>
<circle cx="299.1" cy="19.5" r="1.75" stroke-width="0.75"/>
<circle cx="306.9" cy="17.0" r="1.75" stroke-width="0.75"/>
<circle cx="314.7" cy="15.8" r="1.75" stroke-width="0.75"/>
<circle cx="322.4" cy="15.4" r="1.75" stroke-width="0.75"/>
<path d="M54.6,14.9 L55.1,15.1 L55.6,15.3 L56.1,15.5 L56.6,15.7 L57.1,15.9 L57.6,16.1 L58.1,16.3 L58.6,16.6 L59.1,16.8 L59.6,17.1 L60.1,17.3 L60.6,17.6 L61.1,17.9 L61.6,18.2 L62.1,18.5 L62.6,18.8 L63.1,19.1 L63.6,19.4 L64.1,19.7 L64.6,20.0 L65.1,20.3 L65.6,20.6 L66.1,20.8 L66.6,21.1 L67.1,21.3 L67.6,21.6 L68.1,21.8 L68.6,22.0 L69.1,22.3 L69.6,22.5 L70.1,22.7 L70.6,22.9 L71.1,23.2 L71.6,23.4 L72.1,23.6 L72.6,23.9 L73.1,24.1 L73.6,24.4 L74.1,24.7 L74.6,24.9 L75.1,25.2 L75.6,25.5 L76.1,25.8 L76.6,26.1 L77.1,26.4 L77.6,26.8 L78.1,27.1 L78.6,27.4 L79.1,27.7 L79.6,28.1 L80.1,28.4 L80.6,28.7 L81.1,29.1 L81.6,29.4 L82.1,29.7 L82.6,30.0 L83.1,30.4 L83.6,30.7 L84.1,31.1 L84.6,31.4 L85.1,31.7 L85.6,32.1 L86.1,32.4 L86.6,32.8 L87.1,33.1 L87.6,33.5 L88.1,33.8 L88.6,34.2 L89.1,34.5 L89.6,34.8 L90.1,35.2 L90.6,35.5 L91.1,35.8 L91.6,36.2 L92.1,36.5 L92.6,36.8 L93.1,37.1 L93.6,37.4 L94.1,37.8 L94.6,38.1 L95.1,38.4 L95.6,38.8 L96.1,39.1 L96.6,39.5 L97.1,39.9 L97.6,40.2 L98.1,40.6 L98.6,41.0 L99.1,41.4 L99.6,41.8 L100.1,42.3 L100.6,42.7 L101.1,43.1 L101.6,43.5 L102.1,44.0 L102.6,44.4 L103.1,44.9 L103.6,45.3 L104.1,45.8 L104.6,46.2 L105.1,46.6 L105.6,47.1 L106.1,47.5 L106.6,48.0 L107.1,48.4 L107.6,48.8 L108.1,49.3 L108.6,49.7 L109.1,50.2 L109.6,50.6 L110.1,51.1 L110.6,51.5 L111.1,52.0 L111.6,52.5 L112.1,52.9 L112.6,53.4 L113.1,53.9 L113.6,54.3 L114.1,54.8 L114.6,55.2 L115.1,55.7 L115.6,56.1 L116.1,56.6 L116.6,57.1 L117.1,57.5 L117.6,58.0 L118.1,58.5 L118.6,59.0 L119.1,59.5 L119.6,60.1 L120.1,60.6 L120.6,61.2 L121.1,61.8 L121.6,62.5 L122.1,63.1 L122.6,63.8 L123.1,64.5 L123.6,65.3 L124.1,66.0 L124.6,66.8 L125.1,67.6 L125.6,68.4 L126.1,69.1 L126.6,69.9 L127.1,70.7 L127.6,71.5 L128.1,72.2 L128.6,73.0 L129.1,73.7 L129.6,74.4 L130.1,75.1 L130.6,75.7 L131.1,76.4 L131.6,77.1 L132.1,77.8 L132.6,78.5 L133.1,79.2 L133.6,79.9 L134.1,80.7 L134.6,81.5 L135.1,82.4 L135.6,83.3 L136.1,84.3 L136.6,85.4 L137.1,86.8 L137.6,88.1 L138.1,89.3 L138.6,90.6 L139.1,91.8 L139.6,93.1" stroke-width="0.95"/>
<circle cx="58.5" cy="16.5" r="1.75" stroke-width="0.75"/>
<circle cx="66.2" cy="20.9" r="1.75" stroke-width="0.75"/>
<circle cx="74.0" cy="24.6" r="1.75" stroke-width="0.75"/>
<circle cx="81.8" cy="29.5" r="1.75" stroke-width="0.75"/>
<circle cx="89.5" cy="34.8" r="1.75" stroke-width="0.75"/>
<circle cx="97.3" cy="40.0" r="1.75" stroke-width="0.75"/>
<circle cx="105.1" cy="46.6" r="1.75" stroke-width="0.75"/>
<circle cx="112.8" cy="53.6" r="1.75" stroke-width="0.75"/>
<circle cx="120.6" cy="61.2" r="1.75" stroke-width="0.75"/>
<circle cx="128.3" cy="72.6" r="1.75" stroke-width="0.75"/>
<circle cx="136.1" cy="84.3" r="1.75" stroke-width="0.75"/>
<path d="M141.6,93.2 L142.1,92.6 L142.6,92.1 L143.1,91.5 L143.6,90.9 L144.1,90.3 L144.6,89.8 L145.1,89.2 L145.6,88.6 L146.1,88.0 L146.6,87.5 L147.1,86.9 L147.6,86.3 L148.1,85.7 L148.6,85.1 L149.1,84.6 L149.6,84.0 L150.1,83.4 L150.6,82.8 L151.1,82.3 L151.6,81.7 L152.1,81.2 L152.6,80.6 L153.1,80.1 L153.6,79.5 L154.1,79.0 L154.6,78.5 L155.1,77.9 L155.6,77.4 L156.1,76.9 L156.6,76.4 L157.1,75.8 L157.6,75.3 L158.1,74.8 L158.6,74.3 L159.1,73.8 L159.6,73.3 L160.1,72.8 L160.6,72.3 L161.1,71.8 L161.6,71.2 L162.1,70.7 L162.6,70.2 L163.1,69.6 L163.6,69.1 L164.1,68.6 L164.6,68.1 L165.1,67.6 L165.6,67.1 L166.1,66.7 L166.6,66.2 L167.1,65.8 L167.6,65.4 L168.1,65.1 L168.6,64.7 L169.1,64.3 L169.6,64.0 L170.1,63.6 L170.6,63.3 L171.1,63.0 L171.6,62.7 L172.1,62.3 L172.6,62.0 L173.1,61.7 L173.6,61.4 L174.1,61.1 L174.6,60.9 L175.1,60.6 L175.6,60.3 L176.1,60.0 L176.6,59.8 L177.1,59.5 L177.6,59.2 L178.1,59.0 L178.6,58.7 L179.1,58.5 L179.6,58.3 L180.1,58.0 L180.6,57.8 L181.1,57.5 L181.6,57.3 L182.1,57.1 L182.6,56.8 L183.1,56.6 L183.6,56.4 L184.1,56.2 L184.6,55.9 L185.1,55.7 L185.6,55.5 L186.1,55.3 L186.6,55.1 L187.1,54.8 L187.6,54.6 L188.1,54.4 L188.6,54.2 L189.1,54.0 L189.6,53.7 L190.1,53.5 L190.6,53.3 L191.1,53.0 L191.6,52.8 L192.1,52.5 L192.6,52.3 L193.1,52.0 L193.6,51.7 L194.1,51.5 L194.6,51.2 L195.1,50.9 L195.6,50.7 L196.1,50.4 L196.6,50.2 L197.1,49.9 L197.6,49.7 L198.1,49.4 L198.6,49.2 L199.1,49.0 L199.6,48.8 L200.1,48.6 L200.6,48.4 L201.1,48.2 L201.6,48.0 L202.1,47.8 L202.6,47.6 L203.1,47.4 L203.6,47.2 L204.1,47.0 L204.6,46.8 L205.1,46.6 L205.6,46.4 L206.1,46.2 L206.6,46.0 L207.1,45.8 L207.6,45.5 L208.1,45.3 L208.6,45.1 L209.1,44.8 L209.6,44.6 L210.1,44.4 L210.6,44.1 L211.1,43.9 L211.6,43.6 L212.1,43.4 L212.6,43.1 L213.1,42.9 L213.6,42.6 L214.1,42.4 L214.6,42.2 L215.1,41.9 L215.6,41.7 L216.1,41.4 L216.6,41.2 L217.1,41.0 L217.6,40.7 L218.1,40.5 L218.6,40.2 L219.1,40.0 L219.6,39.7 L220.1,39.5 L220.6,39.3 L221.1,39.0 L221.6,38.8 L222.1,38.5 L222.6,38.2 L223.1,38.0 L223.6,37.7 L224.1,37.4 L224.6,37.2 L225.1,36.9 L225.6,36.6 L226.1,36.4 L226.6,36.1 L227.1,35.8 L227.6,35.6 L228.1,35.3 L228.6,35.1 L229.1,34.9 L229.6,34.7 L230.1,34.4 L230.6,34.2 L231.1,34.0 L231.6,33.8 L232.1,33.6 L232.6,33.5 L233.1,33.3 L233.6,33.1 L234.1,32.9 L234.6,32.7 L235.1,32.5 L235.6,32.3 L236.1,32.2 L236.6,32.0 L237.1,31.8 L237.6,31.6 L238.1,31.4 L238.6,31.2 L239.1,31.0 L239.6,30.8 L240.1,30.7 L240.6,30.5 L241.1,30.3 L241.6,30.1 L242.1,29.9 L242.6,29.7 L243.1,29.6 L243.6,29.4 L244.1,29.2 L244.6,29.0 L245.1,28.8 L245.6,28.6 L246.1,28.4 L246.6,28.2 L247.1,28.0 L247.6,27.8 L248.1,27.6 L248.6,27.4 L249.1,27.2 L249.6,26.9 L250.1,26.7 L250.6,26.5 L251.1,26.4 L251.6,26.2 L252.1,26.0 L252.6,25.8 L253.1,25.6 L253.6,25.4 L254.1,25.3 L254.6,25.1 L255.1,24.9 L255.6,24.7 L256.1,24.6 L256.6,24.4 L257.1,24.2 L257.6,24.1 L258.1,23.9 L258.6,23.8 L259.1,23.6 L259.6,23.5 L260.1,23.4 L260.6,23.2 L261.1,23.1 L261.6,23.0 L262.1,22.9 L262.6,22.8 L263.1,22.7 L263.6,22.6 L264.1,22.5 L264.6,22.4 L265.1,22.3 L265.6,22.2 L266.1,22.1 L266.6,22.0 L267.1,21.9 L267.6,21.8 L268.1,21.8 L268.6,21.7 L269.1,21.6 L269.6,21.5 L270.1,21.4 L270.6,21.3 L271.1,21.2 L271.6,21.1 L272.1,21.0 L272.6,20.9 L273.1,20.9 L273.6,20.8 L274.1,20.7 L274.6,20.7 L275.1,20.6 L275.6,20.5 L276.1,20.5 L276.6,20.4 L277.1,20.4 L277.6,20.3 L278.1,20.3 L278.6,20.3 L279.1,20.2 L279.6,20.2 L280.1,20.1 L280.6,20.1 L281.1,20.1 L281.6,20.0 L282.1,20.0 L282.6,20.0 L283.1,19.9 L283.6,19.9 L284.1,19.9 L284.6,19.8 L285.1,19.8 L285.6,19.7 L286.1,19.7 L286.6,19.7 L287.1,19.6 L287.6,19.6 L288.1,19.5 L288.6,19.5 L289.1,19.5 L289.6,19.4 L290.1,19.4 L290.6,19.4 L291.1,19.4 L291.6,19.4 L292.1,19.4 L292.6,19.4 L293.1,19.4 L293.6,19.4 L294.1,19.4 L294.6,19.5 L295.1,19.5 L295.6,19.5 L296.1,19.5 L296.6,19.5 L297.1,19.5 L297.6,19.5 L298.1,19.6 L298.6,19.6 L299.1,19.6 L299.6,19.6 L300.1,19.6 L300.6,19.6 L301.1,19.7 L301.6,19.7 L302.1,19.7 L302.6,19.7 L303.1,19.7 L303.6,19.8 L304.1,19.8 L304.6,19.8 L305.1,19.8 L305.6,19.8 L306.1,19.9 L306.6,19.9 L307.1,19.9 L307.6,19.9 L308.1,20.0 L308.6,20.0 L309.1,20.0 L309.6,20.0 L310.1,20.1 L310.6,20.1 L311.1,20.1 L311.6,20.1 L312.1,20.1 L312.6,20.2 L313.1,20.2 L313.6,20.2 L314.1,20.2 L314.6,20.2 L315.1,20.2 L315.6,20.2 L316.1,20.2 L316.6,20.2 L317.1,20.2 L317.6,20.2 L318.1,20.2 L318.6,20.2 L319.1,20.2 L319.6,20.2 L320.1,20.2 L320.6,20.2 L321.1,20.2 L321.6,20.2 L322.1,20.2 L322.6,20.2 L323.1,20.2 L323.6,20.2 L324.1,20.2 L324.6,20.2 L325.1,20.2 L325.6,20.2 L326.1,20.2" stroke-width="0.95"/>
<circle cx="151.6" cy="81.7" r="1.75" stroke-width="0.75"/>
<circle cx="159.4" cy="73.5" r="1.75" stroke-width="0.75"/>
<circle cx="167.2" cy="65.8" r="1.75" stroke-width="0.75"/>
<circle cx="174.9" cy="60.7" r="1.75" stroke-width="0.75"/>
<circle cx="182.7" cy="56.8" r="1.75" stroke-width="0.75"/>
<circle cx="190.5" cy="53.3" r="1.75" stroke-width="0.75"/>
<circle cx="198.2" cy="49.4" r="1.75" stroke-width="0.75"/>
<circle cx="206.0" cy="46.2" r="1.75" stroke-width="0.75"/>
<circle cx="213.7" cy="42.6" r="1.75" stroke-width="0.75"/>
<circle cx="221.5" cy="38.8" r="1.75" stroke-width="0.75"/>
<circle cx="229.3" cy="34.8" r="1.75" stroke-width="0.75"/>
<circle cx="237.0" cy="31.8" r="1.75" stroke-width="0.75"/>
<circle cx="244.8" cy="28.9" r="1.75" stroke-width="0.75"/>
<circle cx="252.6" cy="25.8" r="1.75" stroke-width="0.75"/>
<circle cx="260.3" cy="23.3" r="1.75" stroke-width="0.75"/>
<circle cx="268.1" cy="21.8" r="1.75" stroke-width="0.75"/>
<circle cx="275.8" cy="20.5" r="1.75" stroke-width="0.75"/>
<circle cx="283.6" cy="19.9" r="1.75" stroke-width="0.75"/>
<circle cx="291.4" cy="19.4" r="1.75" stroke-width="0.75"/>
<circle cx="299.1" cy="19.6" r="1.75" stroke-width="0.75"/>
<circle cx="306.9" cy="19.9" r="1.75" stroke-width="0.75"/>
<circle cx="314.7" cy="20.2" r="1.75" stroke-width="0.75"/>
<circle cx="322.4" cy="20.2" r="1.75" stroke-width="0.75"/>
<path d="M54.6,14.8 L55.1,14.8 L55.6,14.8 L56.1,14.8 L56.6,14.9 L57.1,14.9 L57.6,14.9 L58.1,14.9 L58.6,14.9 L59.1,14.9 L59.6,14.9 L60.1,14.9 L60.6,14.9 L61.1,14.9 L61.6,14.9 L62.1,14.9 L62.6,14.9 L63.1,15.0 L63.6,15.0 L64.1,15.0 L64.6,15.0 L65.1,15.0 L65.6,15.0 L66.1,15.0 L66.6,15.0 L67.1,15.0 L67.6,15.1 L68.1,15.1 L68.6,15.1 L69.1,15.2 L69.6,15.2 L70.1,15.3 L70.6,15.4 L71.1,15.4 L71.6,15.5 L72.1,15.5 L72.6,15.6 L73.1,15.7 L73.6,15.7 L74.1,15.8 L74.6,15.9 L75.1,15.9 L75.6,16.0 L76.1,16.1 L76.6,16.2 L77.1,16.3 L77.6,16.3 L78.1,16.4 L78.6,16.5 L79.1,16.6 L79.6,16.7 L80.1,16.8 L80.6,16.9 L81.1,17.0 L81.6,17.1 L82.1,17.2 L82.6,17.3 L83.1,17.4 L83.6,17.5 L84.1,17.6 L84.6,17.7 L85.1,17.8 L85.6,17.9 L86.1,18.0 L86.6,18.1 L87.1,18.2 L87.6,18.3 L88.1,18.5 L88.6,18.6 L89.1,18.7 L89.6,18.8 L90.1,18.9 L90.6,19.1 L91.1,19.2 L91.6,19.3 L92.1,19.4 L92.6,19.6 L93.1,19.7 L93.6,19.8 L94.1,20.0 L94.6,20.1 L95.1,20.2 L95.6,20.4 L96.1,20.5 L96.6,20.7 L97.1,20.8 L97.6,20.9 L98.1,21.1 L98.6,21.2 L99.1,21.4 L99.6,21.5 L100.1,21.7 L100.6,21.8 L101.1,22.0 L101.6,22.1 L102.1,22.3 L102.6,22.4 L103.1,22.6 L103.6,22.7 L104.1,22.9 L104.6,23.1 L105.1,23.2 L105.6,23.4 L106.1,23.5 L106.6,23.7 L107.1,23.9 L107.6,24.1 L108.1,24.3 L108.6,24.4 L109.1,24.6 L109.6,24.8 L110.1,25.0 L110.6,25.2 L111.1,25.4 L111.6,25.5 L112.1,25.7 L112.6,25.9 L113.1,26.1 L113.6,26.3 L114.1,26.5 L114.6,26.7 L115.1,26.9 L115.6,27.0 L116.1,27.2 L116.6,27.4 L117.1,27.6 L117.6,27.8 L118.1,28.0 L118.6,28.2 L119.1,28.4 L119.6,28.6 L120.1,28.8 L120.6,29.0 L121.1,29.2 L121.6,29.4 L122.1,29.6 L122.6,29.9 L123.1,30.1 L123.6,30.3 L124.1,30.5 L124.6,30.8 L125.1,31.0 L125.6,31.2 L126.1,31.4 L126.6,31.7 L127.1,31.9 L127.6,32.1 L128.1,32.4 L128.6,32.6 L129.1,32.9 L129.6,33.1 L130.1,33.3 L130.6,33.6 L131.1,33.8 L131.6,34.1 L132.1,34.3 L132.6,34.6 L133.1,34.8 L133.6,35.1 L134.1,35.3 L134.6,35.6 L135.1,35.8 L135.6,36.1 L136.1,36.3 L136.6,36.5 L137.1,36.8 L137.6,37.0 L138.1,37.2 L138.6,37.4 L139.1,37.6 L139.6,37.9 L140.1,38.1 L140.6,38.3 L141.1,38.5 L141.6,38.7 L142.1,38.9 L142.6,39.2 L143.1,39.4 L143.6,39.6 L144.1,39.8 L144.6,40.0 L145.1,40.2 L145.6,40.4 L146.1,40.7 L146.6,40.9 L147.1,41.1 L147.6,41.3 L148.1,41.5 L148.6,41.7 L149.1,41.9 L149.6,42.1 L150.1,42.4 L150.6,42.6 L151.1,42.8 L151.6,43.0 L152.1,43.2 L152.6,43.4 L153.1,43.6 L153.6,43.8 L154.1,44.0 L154.6,44.2 L155.1,44.4 L155.6,44.6 L156.1,44.8 L156.6,45.0 L157.1,45.2 L157.6,45.4 L158.1,45.6 L158.6,45.8 L159.1,46.1 L159.6,46.3 L160.1,46.5 L160.6,46.8 L161.1,47.1 L161.6,47.4 L162.1,47.6 L162.6,47.9 L163.1,48.2 L163.6,48.5 L164.1,48.8 L164.6,49.1 L165.1,49.4 L165.6,49.7 L166.1,50.0 L166.6,50.3 L167.1,50.6 L167.6,50.8 L168.1,51.1 L168.6,51.4 L169.1,51.6 L169.6,51.9 L170.1,52.2 L170.6,52.4 L171.1,52.7 L171.6,52.9 L172.1,53.2 L172.6,53.4 L173.1,53.7 L173.6,53.9 L174.1,54.1 L174.6,54.4 L175.1,54.6 L175.6,54.8 L176.1,55.0 L176.6,55.2 L177.1,55.4 L177.6,55.6 L178.1,55.8 L178.6,56.0 L179.1,56.2 L179.6,56.4 L180.1,56.6 L180.6,56.8 L181.1,56.9 L181.6,57.1 L182.1,57.3 L182.6,57.5 L183.1,57.6 L183.6,57.8 L184.1,58.0 L184.6,58.2 L185.1,58.3 L185.6,58.5 L186.1,58.6 L186.6,58.8 L187.1,59.0 L187.6,59.1 L188.1,59.3 L188.6,59.4 L189.1,59.6 L189.6,59.7 L190.1,59.9 L190.6,60.0 L191.1,60.2 L191.6,60.4 L192.1,60.5 L192.6,60.7 L193.1,60.9 L193.6,61.0 L194.1,61.2 L194.6,61.4 L195.1,61.5 L195.6,61.7 L196.1,61.8 L196.6,62.0 L197.1,62.1 L197.6,62.2 L198.1,62.4 L198.6,62.5 L199.1,62.6 L199.6,62.7 L200.1,62.8 L200.6,62.9 L201.1,63.0 L201.6,63.1 L202.1,63.2 L202.6,63.3 L203.1,63.4 L203.6,63.5 L204.1,63.6 L204.6,63.7 L205.1,63.8 L205.6,63.9 L206.1,64.0 L206.6,64.1 L207.1,64.2 L207.6,64.4 L208.1,64.5 L208.6,64.6 L209.1,64.7 L209.6,64.8 L210.1,64.9 L210.6,65.0 L211.1,65.1 L211.6,65.3 L212.1,65.4 L212.6,65.5 L213.1,65.6 L213.6,65.8 L214.1,65.9 L214.6,66.1 L215.1,66.3 L215.6,66.5 L216.1,66.7 L216.6,66.9 L217.1,67.1 L217.6,67.4 L218.1,67.6 L218.6,67.8 L219.1,67.9 L219.6,68.1 L220.1,68.2 L220.6,68.3 L221.1,68.4 L221.6,68.4 L222.1,68.4 L222.6,68.4 L223.1,68.4 L223.6,68.4 L224.1,68.3 L224.6,68.3 L225.1,68.3 L225.6,68.3 L226.1,68.2 L226.6,68.2 L227.1,68.2 L227.6,68.1 L228.1,68.1 L228.6,68.1 L229.1,68.0 L229.6,68.0 L230.1,67.9 L230.6,67.7 L231.1,67.5 L231.6,67.3 L232.1,67.1 L232.6,66.8 L233.1,66.5 L233.6,66.2 L234.1,65.8 L234.6,65.5 L235.1,65.1 L235.6,64.8 L236.1,64.4 L236.6,64.1 L237.1,63.8 L237.6,63.4 L238.1,63.0 L238.6,62.7 L239.1,62.3 L239.6,61.9 L240.1,61.4 L240.6,61.0 L241.1,60.5 L241.6,60.1 L242.1,59.6 L242.6,59.2 L243.1,58.7 L243.6,58.3 L244.1,57.8 L244.6,57.4 L245.1,56.9 L245.6,56.5 L246.1,56.0 L246.6,55.6 L247.1,55.1 L247.6,54.7 L248.1,54.2 L248.6,53.7 L249.1,53.3 L249.6,52.8 L250.1,52.3 L250.6,51.9 L251.1,51.4 L251.6,50.9 L252.1,50.4 L252.6,50.0 L253.1,49.5 L253.6,49.0 L254.1,48.5 L254.6,48.0 L255.1,47.5 L255.6,47.0 L256.1,46.5 L256.6,46.0 L257.1,45.6 L257.6,45.1 L258.1,44.6 L258.6,44.1 L259.1,43.6 L259.6,43.1 L260.1,42.6 L260.6,42.1 L261.1,41.6 L261.6,41.1 L262.1,40.7 L262.6,40.2 L263.1,39.7 L263.6,39.2 L264.1,38.7 L264.6,38.2 L265.1,37.7 L265.6,37.3 L266.1,36.8 L266.6,36.3 L267.1,35.9 L267.6,35.4 L268.1,35.0 L268.6,34.6 L269.1,34.1 L269.6,33.7 L270.1,33.3 L270.6,32.9 L271.1,32.5 L271.6,32.1 L272.1,31.7 L272.6,31.3 L273.1,30.9 L273.6,30.5 L274.1,30.2 L274.6,29.8 L275.1,29.4 L275.6,29.1 L276.1,28.7 L276.6,28.4 L277.1,28.0 L277.6,27.7 L278.1,27.4 L278.6,27.0 L279.1,26.7 L279.6,26.4 L280.1,26.1 L280.6,25.8 L281.1,25.5 L281.6,25.2 L282.1,24.9 L282.6,24.6 L283.1,24.3 L283.6,24.0 L284.1,23.7 L284.6,23.4 L285.1,23.2 L285.6,22.9 L286.1,22.6 L286.6,22.3 L287.1,22.1 L287.6,21.8 L288.1,21.6 L288.6,21.3 L289.1,21.1 L289.6,20.8 L290.1,20.6 L290.6,20.3 L291.1,20.1 L291.6,19.9 L292.1,19.7 L292.6,19.5 L293.1,19.3 L293.6,19.1 L294.1,18.9 L294.6,18.7 L295.1,18.5 L295.6,18.3 L296.1,18.1 L296.6,17.9 L297.1,17.7 L297.6,17.5 L298.1,17.4 L298.6,17.2 L299.1,17.0 L299.6,16.8 L300.1,16.7 L300.6,16.5 L301.1,16.3 L301.6,16.1 L302.1,16.0 L302.6,15.8 L303.1,15.7 L303.6,15.5 L304.1,15.3 L304.6,15.2 L305.1,15.0 L305.6,14.9 L306.1,14.7 L306.6,14.6 L307.1,14.4 L307.6,14.3 L308.1,14.2 L308.6,14.0 L309.1,13.9 L309.6,13.8 L310.1,13.7 L310.6,13.5 L311.1,13.4 L311.6,13.3 L312.1,13.2 L312.6,13.1 L313.1,13.0 L313.6,12.8 L314.1,12.7 L314.6,12.6 L315.1,12.5 L315.6,12.4 L316.1,12.3 L316.6,12.2 L317.1,12.1 L317.6,12.0 L318.1,11.9 L318.6,11.8 L319.1,11.7 L319.6,11.6 L320.1,11.5 L320.6,11.4 L321.1,11.3 L321.6,11.2 L322.1,11.1 L322.6,11.0 L323.1,10.8 L323.6,10.7 L324.1,10.5 L324.6,10.4 L325.1,10.2 L325.6,10.0 L326.1,9.8" stroke-width="0.95"/>
<circle cx="58.5" cy="14.9" r="1.75" stroke-width="0.75"/>
<circle cx="66.2" cy="15.0" r="1.75" stroke-width="0.75"/>
<circle cx="74.0" cy="15.8" r="1.75" stroke-width="0.75"/>
<circle cx="81.8" cy="17.1" r="1.75" stroke-width="0.75"/>
<circle cx="89.5" cy="18.8" r="1.75" stroke-width="0.75"/>
<circle cx="97.3" cy="20.9" r="1.75" stroke-width="0.75"/>
<circle cx="105.1" cy="23.2" r="1.75" stroke-width="0.75"/>
<circle cx="112.8" cy="26.0" r="1.75" stroke-width="0.75"/>
<circle cx="120.6" cy="29.0" r="1.75" stroke-width="0.75"/>
<circle cx="128.3" cy="32.5" r="1.75" stroke-width="0.75"/>
<circle cx="136.1" cy="36.3" r="1.75" stroke-width="0.75"/>
<circle cx="143.9" cy="39.7" r="1.75" stroke-width="0.75"/>
<circle cx="151.6" cy="43.0" r="1.75" stroke-width="0.75"/>
<circle cx="159.4" cy="46.2" r="1.75" stroke-width="0.75"/>
<circle cx="167.2" cy="50.6" r="1.75" stroke-width="0.75"/>
<circle cx="174.9" cy="54.5" r="1.75" stroke-width="0.75"/>
<circle cx="182.7" cy="57.5" r="1.75" stroke-width="0.75"/>
<circle cx="190.5" cy="60.0" r="1.75" stroke-width="0.75"/>
<circle cx="198.2" cy="62.4" r="1.75" stroke-width="0.75"/>
<circle cx="206.0" cy="64.0" r="1.75" stroke-width="0.75"/>
<circle cx="213.7" cy="65.8" r="1.75" stroke-width="0.75"/>
<circle cx="221.5" cy="68.4" r="1.75" stroke-width="0.75"/>
<circle cx="229.3" cy="68.0" r="1.75" stroke-width="0.75"/>
<circle cx="237.0" cy="63.8" r="1.75" stroke-width="0.75"/>
<circle cx="244.8" cy="57.2" r="1.75" stroke-width="0.75"/>
<circle cx="252.6" cy="50.0" r="1.75" stroke-width="0.75"/>
<circle cx="260.3" cy="42.4" r="1.75" stroke-width="0.75"/>
<circle cx="268.1" cy="35.0" r="1.75" stroke-width="0.75"/>
<circle cx="275.8" cy="28.9" r="1.75" stroke-width="0.75"/>
<circle cx="283.6" cy="24.0" r="1.75" stroke-width="0.75"/>
<circle cx="291.4" cy="20.0" r="1.75" stroke-width="0.75"/>
<circle cx="299.1" cy="17.0" r="1.75" stroke-width="0.75"/>
<circle cx="306.9" cy="14.5" r="1.75" stroke-width="0.75"/>
<circle cx="314.7" cy="12.6" r="1.75" stroke-width="0.75"/>
<circle cx="322.4" cy="11.0" r="1.75" stroke-width="0.75"/>
<path d="M54.6,14.9 L55.1,15.0 L55.6,15.0 L56.1,15.1 L56.6,15.1 L57.1,15.2 L57.6,15.2 L58.1,15.3 L58.6,15.3 L59.1,15.4 L59.6,15.4 L60.1,15.5 L60.6,15.5 L61.1,15.6 L61.6,15.6 L62.1,15.7 L62.6,15.7 L63.1,15.8 L63.6,15.9 L64.1,15.9 L64.6,16.0 L65.1,16.0 L65.6,16.1 L66.1,16.2 L66.6,16.3 L67.1,16.3 L67.6,16.4 L68.1,16.5 L68.6,16.5 L69.1,16.6 L69.6,16.7 L70.1,16.8 L70.6,16.9 L71.1,17.0 L71.6,17.1 L72.1,17.2 L72.6,17.3 L73.1,17.4 L73.6,17.5 L74.1,17.6 L74.6,17.8 L75.1,17.9 L75.6,18.1 L76.1,18.2 L76.6,18.4 L77.1,18.6 L77.6,18.8 L78.1,19.0 L78.6,19.2 L79.1,19.4 L79.6,19.6 L80.1,19.9 L80.6,20.1 L81.1,20.3 L81.6,20.5 L82.1,20.7 L82.6,21.0 L83.1,21.2 L83.6,21.4 L84.1,21.7 L84.6,21.9 L85.1,22.2 L85.6,22.5 L86.1,22.7 L86.6,23.0 L87.1,23.2 L87.6,23.5 L88.1,23.8 L88.6,24.0 L89.1,24.3 L89.6,24.5 L90.1,24.8 L90.6,25.0 L91.1,25.3 L91.6,25.5 L92.1,25.8 L92.6,26.0 L93.1,26.3 L93.6,26.5 L94.1,26.8 L94.6,27.0 L95.1,27.3 L95.6,27.6 L96.1,27.8 L96.6,28.1 L97.1,28.4 L97.6,28.7 L98.1,29.0 L98.6,29.3 L99.1,29.6 L99.6,29.9 L100.1,30.2 L100.6,30.5 L101.1,30.8 L101.6,31.1 L102.1,31.5 L102.6,31.8 L103.1,32.1 L103.6,32.5 L104.1,32.8 L104.6,33.2 L105.1,33.5 L105.6,33.9 L106.1,34.3 L106.6,34.6 L107.1,35.0 L107.6,35.4 L108.1,35.8 L108.6,36.2 L109.1,36.7 L109.6,37.1 L110.1,37.5 L110.6,37.9 L111.1,38.3 L111.6,38.7 L112.1,39.1 L112.6,39.5 L113.1,39.9 L113.6,40.3 L114.1,40.7 L114.6,41.1 L115.1,41.5 L115.6,41.9 L116.1,42.3 L116.6,42.7 L117.1,43.1 L117.6,43.5 L118.1,43.9 L118.6,44.3 L119.1,44.7 L119.6,45.0 L120.1,45.4 L120.6,45.8 L121.1,46.2 L121.6,46.6 L122.1,46.9 L122.6,47.3 L123.1,47.7 L123.6,48.0 L124.1,48.4 L124.6,48.8 L125.1,49.1 L125.6,49.5 L126.1,49.9 L126.6,50.2 L127.1,50.6 L127.6,51.0 L128.1,51.3 L128.6,51.7 L129.1,52.1 L129.6,52.4 L130.1,52.8 L130.6,53.2 L131.1,53.6 L131.6,53.9 L132.1,54.3 L132.6,54.7 L133.1,55.0 L133.6,55.4 L134.1,55.8 L134.6,56.1 L135.1,56.5 L135.6,56.8 L136.1,57.1 L136.6,57.4 L137.1,57.7 L137.6,58.0 L138.1,58.3 L138.6,58.6 L139.1,58.9 L139.6,59.2 L140.1,59.5 L140.6,59.7 L141.1,60.0 L141.6,60.3 L142.1,60.5 L142.6,60.7 L143.1,61.0 L143.6,61.2 L144.1,61.4 L144.6,61.6 L145.1,61.8 L145.6,62.0 L146.1,62.3 L146.6,62.5 L147.1,62.7 L147.6,62.9 L148.1,63.1 L148.6,63.2 L149.1,63.4 L149.6,63.5 L150.1,63.6 L150.6,63.7 L151.1,63.8 L151.6,63.8 L152.1,63.8 L152.6,63.8 L153.1,63.8 L153.6,63.8 L154.1,63.8 L154.6,63.8 L155.1,63.8 L155.6,63.8 L156.1,63.8 L156.6,63.8 L157.1,63.8 L157.6,63.8 L158.1,63.8 L158.6,63.8 L159.1,63.8 L159.6,63.8 L160.1,63.8 L160.6,63.8 L161.1,63.7 L161.6,63.7 L162.1,63.7 L162.6,63.6 L163.1,63.6 L163.6,63.5 L164.1,63.5 L164.6,63.4 L165.1,63.3 L165.6,63.3 L166.1,63.2 L166.6,63.2 L167.1,63.1 L167.6,63.0 L168.1,63.0 L168.6,62.9 L169.1,62.8 L169.6,62.7 L170.1,62.6 L170.6,62.5 L171.1,62.4 L171.6,62.3 L172.1,62.3 L172.6,62.2 L173.1,62.1 L173.6,62.0 L174.1,62.0 L174.6,61.9 L175.1,61.9 L175.6,61.9 L176.1,61.8 L176.6,61.8 L177.1,61.8 L177.6,61.7 L178.1,61.7 L178.6,61.7 L179.1,61.7 L179.6,61.7 L180.1,61.6 L180.6,61.6 L181.1,61.6 L181.6,61.6 L182.1,61.6 L182.6,61.6 L183.1,61.6 L183.6,61.6 L184.1,61.6 L184.6,61.7 L185.1,61.7 L185.6,61.7 L186.1,61.8 L186.6,61.9 L187.1,61.9 L187.6,62.0 L188.1,62.0 L188.6,62.1 L189.1,62.2 L189.6,62.3 L190.1,62.3 L190.6,62.4 L191.1,62.5 L191.6,62.6 L192.1,62.8 L192.6,62.9 L193.1,63.1 L193.6,63.2 L194.1,63.4 L194.6,63.6 L195.1,63.8 L195.6,64.0 L196.1,64.2 L196.6,64.4 L197.1,64.6 L197.6,64.8 L198.1,65.0 L198.6,65.1 L199.1,65.3 L199.6,65.5 L200.1,65.7 L200.6,65.9 L201.1,66.1 L201.6,66.3 L202.1,66.5 L202.6,66.7 L203.1,66.9 L203.6,67.1 L204.1,67.3 L204.6,67.5 L205.1,67.7 L205.6,67.9 L206.1,68.0 L206.6,68.2 L207.1,68.4 L207.6,68.6 L208.1,68.8 L208.6,69.0 L209.1,69.2 L209.6,69.4 L210.1,69.6 L210.6,69.8 L211.1,70.0 L211.6,70.1 L212.1,70.2 L212.6,70.3 L213.1,70.4 L213.6,70.4 L214.1,70.4 L214.6,70.4 L215.1,70.4 L215.6,70.4 L216.1,70.4 L216.6,70.4 L217.1,70.4 L217.6,70.4 L218.1,70.4 L218.6,70.4 L219.1,70.4 L219.6,70.3 L220.1,70.3 L220.6,70.3 L221.1,70.3 L221.6,70.3 L222.1,70.3 L222.6,70.2 L223.1,70.2 L223.6,70.1 L224.1,70.0 L224.6,69.9 L225.1,69.8 L225.6,69.7 L226.1,69.5 L226.6,69.4 L227.1,69.3 L227.6,69.1 L228.1,69.0 L228.6,68.8 L229.1,68.7 L229.6,68.5 L230.1,68.3 L230.6,68.1 L231.1,67.9 L231.6,67.6 L232.1,67.4 L232.6,67.1 L233.1,66.8 L233.6,66.6 L234.1,66.3 L234.6,66.0 L235.1,65.6 L235.6,65.3 L236.1,65.0 L236.6,64.7 L237.1,64.4 L237.6,64.0 L238.1,63.7 L238.6,63.3 L239.1,62.9 L239.6,62.5 L240.1,62.1 L240.6,61.7 L241.1,61.3 L241.6,60.9 L242.1,60.5 L242.6,60.0 L243.1,59.6 L243.6,59.2 L244.1,58.8 L244.6,58.4 L245.1,57.9 L245.6,57.5 L246.1,57.1 L246.6,56.7 L247.1,56.3 L247.6,55.9 L248.1,55.5 L248.6,55.1 L249.1,54.6 L249.6,54.2 L250.1,53.8 L250.6,53.4 L251.1,53.0 L251.6,52.6 L252.1,52.2 L252.6,51.8 L253.1,51.4 L253.6,50.9 L254.1,50.5 L254.6,50.1 L255.1,49.7 L255.6,49.3 L256.1,48.9 L256.6,48.5 L257.1,48.1 L257.6,47.7 L258.1,47.3 L258.6,46.9 L259.1,46.5 L259.6,46.1 L260.1,45.8 L260.6,45.4 L261.1,45.0 L261.6,44.7 L262.1,44.4 L262.6,44.0 L263.1,43.7 L263.6,43.4 L264.1,43.1 L264.6,42.8 L265.1,42.4 L265.6,42.1 L266.1,41.8 L266.6,41.5 L267.1,41.2 L267.6,40.8 L268.1,40.5 L268.6,40.1 L269.1,39.8 L269.6,39.4 L270.1,39.1 L270.6,38.7 L271.1,38.3 L271.6,38.0 L272.1,37.6 L272.6,37.2 L273.1,36.9 L273.6,36.5 L274.1,36.2 L274.6,35.8 L275.1,35.5 L275.6,35.2 L276.1,34.8 L276.6,34.5 L277.1,34.2 L277.6,33.9 L278.1,33.6 L278.6,33.3 L279.1,33.0 L279.6,32.7 L280.1,32.5 L280.6,32.2 L281.1,31.9 L281.6,31.6 L282.1,31.3 L282.6,31.0 L283.1,30.7 L283.6,30.4 L284.1,30.1 L284.6,29.8 L285.1,29.4 L285.6,29.1 L286.1,28.7 L286.6,28.4 L287.1,28.1 L287.6,27.7 L288.1,27.4 L288.6,27.0 L289.1,26.7 L289.6,26.4 L290.1,26.1 L290.6,25.7 L291.1,25.5 L291.6,25.2 L292.1,24.9 L292.6,24.6 L293.1,24.4 L293.6,24.1 L294.1,23.9 L294.6,23.6 L295.1,23.4 L295.6,23.1 L296.1,22.9 L296.6,22.7 L297.1,22.4 L297.6,22.2 L298.1,22.0 L298.6,21.7 L299.1,21.5 L299.6,21.3 L300.1,21.0 L300.6,20.8 L301.1,20.6 L301.6,20.3 L302.1,20.1 L302.6,19.9 L303.1,19.7 L303.6,19.4 L304.1,19.2 L304.6,19.0 L305.1,18.8 L305.6,18.5 L306.1,18.3 L306.6,18.1 L307.1,17.9 L307.6,17.7 L308.1,17.5 L308.6,17.3 L309.1,17.1 L309.6,16.9 L310.1,16.7 L310.6,16.5 L311.1,16.3 L311.6,16.1 L312.1,15.9 L312.6,15.7 L313.1,15.5 L313.6,15.4 L314.1,15.2 L314.6,15.0 L315.1,14.9 L315.6,14.7 L316.1,14.5 L316.6,14.4 L317.1,14.3 L317.6,14.1 L318.1,14.0 L318.6,13.8 L319.1,13.7 L319.6,13.6 L320.1,13.4 L320.6,13.3 L321.1,13.2 L321.6,13.0 L322.1,12.9 L322.6,12.8 L323.1,12.6 L323.6,12.5 L324.1,12.3 L324.6,12.2 L325.1,12.1 L325.6,12.0 L326.1,11.8" stroke-width="0.95"/>
<circle cx="58.5" cy="15.3" r="1.75" stroke-width="0.75"/>
<circle cx="66.2" cy="16.2" r="1.75" stroke-width="0.75"/>
<circle cx="74.0" cy="17.6" r="1.75" stroke-width="0.75"/>
<circle cx="81.8" cy="20.6" r="1.75" stroke-width="0.75"/>
<circle cx="89.5" cy="24.5" r="1.75" stroke-width="0.75"/>
<circle cx="97.3" cy="28.5" r="1.75" stroke-width="0.75"/>
<circle cx="105.1" cy="33.5" r="1.75" stroke-width="0.75"/>
<circle cx="112.8" cy="39.7" r="1.75" stroke-width="0.75"/>
<circle cx="120.6" cy="45.8" r="1.75" stroke-width="0.75"/>
<circle cx="128.3" cy="51.5" r="1.75" stroke-width="0.75"/>
<circle cx="136.1" cy="57.1" r="1.75" stroke-width="0.75"/>
<circle cx="143.9" cy="61.3" r="1.75" stroke-width="0.75"/>
<circle cx="151.6" cy="63.8" r="1.75" stroke-width="0.75"/>
<circle cx="159.4" cy="63.8" r="1.75" stroke-width="0.75"/>
<circle cx="167.2" cy="63.1" r="1.75" stroke-width="0.75"/>
<circle cx="174.9" cy="61.9" r="1.75" stroke-width="0.75"/>
<circle cx="182.7" cy="61.6" r="1.75" stroke-width="0.75"/>
<circle cx="190.5" cy="62.4" r="1.75" stroke-width="0.75"/>
<circle cx="198.2" cy="66.6" r="1.75" stroke-width="0.75"/>
<circle cx="206.0" cy="70.9" r="1.75" stroke-width="0.75"/>
<circle cx="213.7" cy="74.5" r="1.75" stroke-width="0.75"/>
<circle cx="221.5" cy="74.5" r="1.75" stroke-width="0.75"/>
<circle cx="229.3" cy="70.7" r="1.75" stroke-width="0.75"/>
<circle cx="237.0" cy="64.4" r="1.75" stroke-width="0.75"/>
<circle cx="244.8" cy="58.2" r="1.75" stroke-width="0.75"/>
<circle cx="252.6" cy="51.8" r="1.75" stroke-width="0.75"/>
<circle cx="260.3" cy="45.6" r="1.75" stroke-width="0.75"/>
<circle cx="268.1" cy="40.5" r="1.75" stroke-width="0.75"/>
<circle cx="275.8" cy="35.0" r="1.75" stroke-width="0.75"/>
<circle cx="283.6" cy="30.4" r="1.75" stroke-width="0.75"/>
<circle cx="291.4" cy="25.3" r="1.75" stroke-width="0.75"/>
<circle cx="299.1" cy="21.5" r="1.75" stroke-width="0.75"/>
<circle cx="306.9" cy="18.0" r="1.75" stroke-width="0.75"/>
<circle cx="314.7" cy="15.0" r="1.75" stroke-width="0.75"/>
<circle cx="322.4" cy="12.8" r="1.75" stroke-width="0.75"/>
</g>
<rect x="54.6" y="5.0" width="271.7" height="82.3" fill="none" stroke="#686868" stroke-width="1"/>
<line x1="93.41" y1="87.3" x2="93.41" y2="84.3" stroke="#2a2a2a" stroke-width="0.8"/>
<line x1="93.41" y1="5.0" x2="93.41" y2="8.0" stroke="#2a2a2a" stroke-width="0.8"/>
<text transform="translate(93.71,108.50) scale(0.97,1.06)" font-family="Liberation Serif, Times New Roman, serif" font-size="16.5" text-anchor="middle" fill="#262626">1</text>
<line x1="190.45" y1="87.3" x2="190.45" y2="84.3" stroke="#2a2a2a" stroke-width="0.8"/>
<line x1="190.45" y1="5.0" x2="190.45" y2="8.0" stroke="#2a2a2a" stroke-width="0.8"/>
<text transform="translate(190.75,108.50) scale(0.97,1.06)" font-family="Liberation Serif, Times New Roman, serif" font-size="16.5" text-anchor="middle" fill="#262626">1.5</text>
<line x1="287.49" y1="87.3" x2="287.49" y2="84.3" stroke="#2a2a2a" stroke-width="0.8"/>
<line x1="287.49" y1="5.0" x2="287.49" y2="8.0" stroke="#2a2a2a" stroke-width="0.8"/>
<text transform="translate(287.79,108.50) scale(0.97,1.06)" font-family="Liberation Serif, Times New Roman, serif" font-size="16.5" text-anchor="middle" fill="#262626">2</text>
<text transform="translate(48.90,10.90) scale(0.97,1.06)" font-family="Liberation Serif, Times New Roman, serif" font-size="16.5" text-anchor="end" fill="#262626">0</text>
<line x1="54.6" y1="32.43" x2="57.4" y2="32.43" stroke="#2a2a2a" stroke-width="0.8"/>
<line x1="326.3" y1="32.43" x2="323.5" y2="32.43" stroke="#2a2a2a" stroke-width="0.8"/>
<text transform="translate(48.90,38.33) scale(0.97,1.06)" font-family="Liberation Serif, Times New Roman, serif" font-size="16.5" text-anchor="end" fill="#262626">-10</text>
<line x1="54.6" y1="59.87" x2="57.4" y2="59.87" stroke="#2a2a2a" stroke-width="0.8"/>
<line x1="326.3" y1="59.87" x2="323.5" y2="59.87" stroke="#2a2a2a" stroke-width="0.8"/>
<text transform="translate(48.90,65.77) scale(0.97,1.06)" font-family="Liberation Serif, Times New Roman, serif" font-size="16.5" text-anchor="end" fill="#262626">-20</text>
<text transform="translate(48.90,93.20) scale(0.97,1.06)" font-family="Liberation Serif, Times New Roman, serif" font-size="16.5" text-anchor="end" fill="#262626">-30</text>
<text transform="translate(189.45,128.90) scale(0.995,1.06)" font-family="Liberation Serif, Times New Roman, serif" font-size="17.6" text-anchor="middle" fill="#262626">Frequency [GHz]</text>
<text transform="translate(13.30,77.80) rotate(-90) scale(1.0,1)" font-family="Liberation Serif, Times New Roman, serif" font-size="17.5" fill="#262626" text-anchor="middle">|</text>
<text transform="translate(13.60,76.30) rotate(-90) scale(1.0,1)" font-family="Liberation Serif, Times New Roman, serif" font-size="20" fill="#262626" font-style="italic">S</text>
<text transform="translate(22.00,66.20) rotate(-90) scale(1.0,1)" font-family="Liberation Serif, Times New Roman, serif" font-size="14" fill="#262626" >11</text>
<text transform="translate(13.30,49.65) rotate(-90) scale(1.0,1)" font-family="Liberation Serif, Times New Roman, serif" font-size="17.5" fill="#262626" text-anchor="middle">|</text>
<text transform="translate(13.50,42.90) rotate(-90) scale(0.92,1)" font-family="Liberation Serif, Times New Roman, serif" font-size="18.5" fill="#262626" >[dB]</text>
<line x1="451.50" y1="5.0" x2="451.50" y2="87.3" stroke="#dcdcdc" stroke-width="0.6"/>
<line x1="549.00" y1="5.0" x2="549.00" y2="87.3" stroke="#dcdcdc" stroke-width="0.6"/>
<line x1="646.50" y1="5.0" x2="646.50" y2="87.3" stroke="#dcdcdc" stroke-width="0.6"/>
<line x1="412.5" y1="46.15" x2="685.5" y2="46.15" stroke="#dcdcdc" stroke-width="0.6"/>
<g clip-path="url(#c2)" fill="none" stroke="#000">
<path d="M412.6,45.8 L413.1,45.5 L413.6,45.2 L414.1,44.9 L414.6,44.6 L415.1,44.4 L415.6,44.1 L416.1,43.9 L416.6,43.7 L417.1,43.4 L417.6,43.2 L418.1,43.0 L418.6,42.8 L419.1,42.6 L419.6,42.4 L420.1,42.2 L420.6,42.0 L421.1,41.8 L421.6,41.7 L422.1,41.5 L422.6,41.4 L423.1,41.2 L423.6,41.1 L424.1,41.0 L424.6,40.9 L425.1,40.8 L425.6,40.7 L426.1,40.6 L426.6,40.6 L427.1,40.5 L427.6,40.4 L428.1,40.3 L428.6,40.2 L429.1,40.2 L429.6,40.1 L430.1,40.1 L430.6,40.0 L431.1,40.0 L431.6,40.0 L432.1,40.0 L432.6,40.0 L433.1,40.0 L433.6,40.0 L434.1,40.0 L434.6,40.0 L435.1,40.0 L435.6,40.0 L436.1,40.1 L436.6,40.1 L437.1,40.1 L437.6,40.1 L438.1,40.1 L438.6,40.1 L439.1,40.2 L439.6,40.2 L440.1,40.2 L440.6,40.3 L441.1,40.3 L441.6,40.4 L442.1,40.5 L442.6,40.6 L443.1,40.7 L443.6,40.8 L444.1,40.9 L444.6,41.0 L445.1,41.1 L445.6,41.3 L446.1,41.4 L446.6,41.5 L447.1,41.6 L447.6,41.7 L448.1,41.8 L448.6,41.9 L449.1,42.0 L449.6,42.1 L450.1,42.1 L450.6,42.2 L451.1,42.3 L451.6,42.4 L452.1,42.5 L452.6,42.6 L453.1,42.7 L453.6,42.8 L454.1,42.9 L454.6,43.0 L455.1,43.1 L455.6,43.3 L456.1,43.4 L456.6,43.5 L457.1,43.7 L457.6,43.8 L458.1,44.0 L458.6,44.2 L459.1,44.3 L459.6,44.5 L460.1,44.7 L460.6,44.9 L461.1,45.1 L461.6,45.3 L462.1,45.5 L462.6,45.7 L463.1,46.0 L463.6,46.2 L464.1,46.4 L464.6,46.7 L465.1,46.9 L465.6,47.2 L466.1,47.4 L466.6,47.7 L467.1,48.0 L467.6,48.3 L468.1,48.6 L468.6,48.9 L469.1,49.2 L469.6,49.5 L470.1,49.8 L470.6,50.1 L471.1,50.5 L471.6,50.8 L472.1,51.1 L472.6,51.4 L473.1,51.8 L473.6,52.1 L474.1,52.4 L474.6,52.8 L475.1,53.1 L475.6,53.5 L476.1,53.8 L476.6,54.2 L477.1,54.6 L477.6,55.0 L478.1,55.3 L478.6,55.7 L479.1,56.1 L479.6,56.5 L480.1,57.0 L480.6,57.4 L481.1,57.8 L481.6,58.2 L482.1,58.7 L482.6,59.1 L483.1,59.6 L483.6,60.1 L484.1,60.6 L484.6,61.0 L485.1,61.5 L485.6,62.0 L486.1,62.6 L486.6,63.1 L487.1,63.7 L487.6,64.2 L488.1,64.8 L488.6,65.4 L489.1,66.1 L489.6,66.7 L490.1,67.4 L490.6,68.1 L491.1,68.7 L491.6,69.4 L492.1,70.1 L492.6,70.8 L493.1,71.4 L493.6,72.1 L494.1,72.7 L494.6,73.3 L495.1,74.0 L495.6,74.6 L496.1,75.2 L496.6,75.8 L497.1,76.3 L497.6,76.9 L498.1,77.5 L498.6,78.1 L499.1,78.7 L499.6,79.3 L500.1,79.9 L500.6,80.5 L501.1,81.1 L501.6,81.7 L502.1,82.4 L502.6,83.0 L503.1,83.7 L503.6,84.4 L504.1,85.1 L504.6,85.8 L505.1,86.5 L505.6,87.2 L506.1,87.9 L506.6,88.6 L507.1,89.3 L507.6,90.0 L508.1,90.7 L508.6,91.3 L509.1,92.0 L509.6,92.7" stroke-width="0.95"/>
<circle cx="416.4" cy="43.8" r="1.75" stroke-width="0.75"/>
<circle cx="424.2" cy="41.0" r="1.75" stroke-width="0.75"/>
<circle cx="432.0" cy="40.0" r="1.75" stroke-width="0.75"/>
<circle cx="439.8" cy="40.2" r="1.75" stroke-width="0.75"/>
<circle cx="447.6" cy="41.7" r="1.75" stroke-width="0.75"/>
<circle cx="455.4" cy="43.2" r="1.75" stroke-width="0.75"/>
<circle cx="463.2" cy="46.0" r="1.75" stroke-width="0.75"/>
<circle cx="471.0" cy="50.4" r="1.75" stroke-width="0.75"/>
<circle cx="478.8" cy="55.9" r="1.75" stroke-width="0.75"/>
<circle cx="486.6" cy="63.1" r="1.75" stroke-width="0.75"/>
<circle cx="494.4" cy="73.1" r="1.75" stroke-width="0.75"/>
<circle cx="502.2" cy="82.5" r="1.75" stroke-width="0.75"/>
<path d="M412.6,68.2 L413.1,67.6 L413.6,67.1 L414.1,66.5 L414.6,66.0 L415.1,65.5 L415.6,64.9 L416.1,64.4 L416.6,63.9 L417.1,63.4 L417.6,62.9 L418.1,62.4 L418.6,61.9 L419.1,61.4 L419.6,60.9 L420.1,60.4 L420.6,59.9 L421.1,59.4 L421.6,58.9 L422.1,58.4 L422.6,58.0 L423.1,57.5 L423.6,57.0 L424.1,56.6 L424.6,56.1 L425.1,55.7 L425.6,55.2 L426.1,54.8 L426.6,54.3 L427.1,53.9 L427.6,53.4 L428.1,53.0 L428.6,52.6 L429.1,52.2 L429.6,51.7 L430.1,51.3 L430.6,50.9 L431.1,50.6 L431.6,50.2 L432.1,49.8 L432.6,49.5 L433.1,49.1 L433.6,48.8 L434.1,48.4 L434.6,48.1 L435.1,47.8 L435.6,47.5 L436.1,47.2 L436.6,46.9 L437.1,46.6 L437.6,46.3 L438.1,46.0 L438.6,45.7 L439.1,45.5 L439.6,45.2 L440.1,44.9 L440.6,44.7 L441.1,44.4 L441.6,44.1 L442.1,43.9 L442.6,43.6 L443.1,43.3 L443.6,43.1 L444.1,42.8 L444.6,42.6 L445.1,42.4 L445.6,42.2 L446.1,42.1 L446.6,42.0 L447.1,41.9 L447.6,41.9 L448.1,41.9 L448.6,41.9 L449.1,41.9 L449.6,41.9 L450.1,41.9 L450.6,41.9 L451.1,41.9 L451.6,41.9 L452.1,41.9 L452.6,41.9 L453.1,41.9 L453.6,41.9 L454.1,41.9 L454.6,41.9 L455.1,41.9 L455.6,41.9 L456.1,41.9 L456.6,42.0 L457.1,42.0 L457.6,42.1 L458.1,42.2 L458.6,42.3 L459.1,42.4 L459.6,42.6 L460.1,42.7 L460.6,42.9 L461.1,43.0 L461.6,43.1 L462.1,43.3 L462.6,43.4 L463.1,43.6 L463.6,43.7 L464.1,43.9 L464.6,44.0 L465.1,44.2 L465.6,44.3 L466.1,44.5 L466.6,44.6 L467.1,44.8 L467.6,45.0 L468.1,45.2 L468.6,45.4 L469.1,45.5 L469.6,45.7 L470.1,45.9 L470.6,46.1 L471.1,46.3 L471.6,46.6 L472.1,46.8 L472.6,47.0 L473.1,47.2 L473.6,47.5 L474.1,47.7 L474.6,48.0 L475.1,48.2 L475.6,48.5 L476.1,48.7 L476.6,49.0 L477.1,49.3 L477.6,49.5 L478.1,49.8 L478.6,50.1 L479.1,50.4 L479.6,50.6 L480.1,50.9 L480.6,51.2 L481.1,51.5 L481.6,51.8 L482.1,52.1 L482.6,52.4 L483.1,52.7 L483.6,53.0 L484.1,53.3 L484.6,53.7 L485.1,54.0 L485.6,54.3 L486.1,54.7 L486.6,55.0 L487.1,55.3 L487.6,55.7 L488.1,56.0 L488.6,56.4 L489.1,56.8 L489.6,57.1 L490.1,57.5 L490.6,57.9 L491.1,58.3 L491.6,58.7 L492.1,59.1 L492.6,59.5 L493.1,59.9 L493.6,60.3 L494.1,60.7 L494.6,61.2 L495.1,61.6 L495.6,62.1 L496.1,62.6 L496.6,63.1 L497.1,63.6 L497.6,64.2 L498.1,64.7 L498.6,65.2 L499.1,65.8 L499.6,66.3 L500.1,66.9 L500.6,67.4 L501.1,68.0 L501.6,68.5 L502.1,69.1 L502.6,69.6 L503.1,70.2 L503.6,70.7 L504.1,71.3 L504.6,71.9 L505.1,72.4 L505.6,73.0 L506.1,73.6 L506.6,74.1 L507.1,74.7 L507.6,75.3 L508.1,75.8 L508.6,76.4 L509.1,76.9 L509.6,77.5 L510.1,78.0 L510.6,78.6 L511.1,79.1 L511.6,79.7 L512.1,80.2 L512.6,80.8 L513.1,81.4 L513.6,81.9 L514.1,82.5 L514.6,83.0 L515.1,83.5 L515.6,84.0 L516.1,84.5 L516.6,85.0 L517.1,85.4 L517.6,85.8 L518.1,86.2 L518.6,86.6 L519.1,86.9 L519.6,87.2 L520.1,87.5 L520.6,87.9 L521.1,88.2 L521.6,88.5 L522.1,88.9 L522.6,89.2 L523.1,89.5 L523.6,89.9 L524.1,90.2 L524.6,90.5 L525.1,90.9 L525.6,91.2 L526.1,91.5 L526.6,91.9 L527.1,92.2 L527.6,92.5 L528.1,92.9 L528.6,93.2" stroke-width="0.95"/>
<circle cx="416.4" cy="64.1" r="1.75" stroke-width="0.75"/>
<circle cx="424.2" cy="56.5" r="1.75" stroke-width="0.75"/>
<circle cx="432.0" cy="49.9" r="1.75" stroke-width="0.75"/>
<circle cx="439.8" cy="45.1" r="1.75" stroke-width="0.75"/>
<circle cx="447.6" cy="41.9" r="1.75" stroke-width="0.75"/>
<circle cx="455.4" cy="41.9" r="1.75" stroke-width="0.75"/>
<circle cx="463.2" cy="43.6" r="1.75" stroke-width="0.75"/>
<circle cx="471.0" cy="46.3" r="1.75" stroke-width="0.75"/>
<circle cx="478.8" cy="50.2" r="1.75" stroke-width="0.75"/>
<circle cx="486.6" cy="55.0" r="1.75" stroke-width="0.75"/>
<circle cx="494.4" cy="61.0" r="1.75" stroke-width="0.75"/>
<circle cx="502.2" cy="69.2" r="1.75" stroke-width="0.75"/>
<circle cx="510.0" cy="77.9" r="1.75" stroke-width="0.75"/>
<circle cx="517.8" cy="86.0" r="1.75" stroke-width="0.75"/>
<path d="M416.7,93.2 L417.2,92.7 L417.7,92.1 L418.2,91.5 L418.7,91.0 L419.2,90.4 L419.7,89.9 L420.2,89.3 L420.7,88.8 L421.2,88.2 L421.7,87.7 L422.2,87.2 L422.7,86.6 L423.2,86.1 L423.7,85.6 L424.2,84.9 L424.7,84.2 L425.2,83.4 L425.7,82.5 L426.2,81.5 L426.7,80.5 L427.2,79.4 L427.7,78.4 L428.2,77.2 L428.7,76.1 L429.2,75.0 L429.7,74.0 L430.2,72.9 L430.7,71.9 L431.2,71.0 L431.7,70.1 L432.2,69.3 L432.7,68.6 L433.2,67.8 L433.7,67.1 L434.2,66.4 L434.7,65.7 L435.2,65.1 L435.7,64.4 L436.2,63.8 L436.7,63.2 L437.2,62.6 L437.7,62.0 L438.2,61.4 L438.7,60.8 L439.2,60.2 L439.7,59.7 L440.2,59.1 L440.7,58.5 L441.2,58.0 L441.7,57.5 L442.2,56.9 L442.7,56.4 L443.2,55.9 L443.7,55.4 L444.2,54.9 L444.7,54.4 L445.2,53.9 L445.7,53.5 L446.2,53.0 L446.7,52.6 L447.2,52.2 L447.7,51.8 L448.2,51.4 L448.7,51.0 L449.2,50.6 L449.7,50.3 L450.2,49.9 L450.7,49.6 L451.2,49.2 L451.7,48.9 L452.2,48.6 L452.7,48.3 L453.2,48.0 L453.7,47.7 L454.2,47.4 L454.7,47.1 L455.2,46.9 L455.7,46.6 L456.2,46.4 L456.7,46.1 L457.2,45.9 L457.7,45.7 L458.2,45.5 L458.7,45.3 L459.2,45.0 L459.7,44.8 L460.2,44.6 L460.7,44.5 L461.2,44.3 L461.7,44.1 L462.2,43.9 L462.7,43.7 L463.2,43.6 L463.7,43.4 L464.2,43.3 L464.7,43.1 L465.2,43.0 L465.7,42.8 L466.2,42.7 L466.7,42.5 L467.2,42.4 L467.7,42.3 L468.2,42.2 L468.7,42.0 L469.2,41.9 L469.7,41.8 L470.2,41.7 L470.7,41.6 L471.2,41.4 L471.7,41.3 L472.2,41.2 L472.7,41.1 L473.2,41.0 L473.7,40.9 L474.2,40.8 L474.7,40.7 L475.2,40.6 L475.7,40.5 L476.2,40.4 L476.7,40.3 L477.2,40.2 L477.7,40.1 L478.2,40.1 L478.7,40.0 L479.2,39.9 L479.7,39.9 L480.2,39.8 L480.7,39.8 L481.2,39.7 L481.7,39.7 L482.2,39.6 L482.7,39.5 L483.2,39.5 L483.7,39.5 L484.2,39.4 L484.7,39.4 L485.2,39.4 L485.7,39.3 L486.2,39.3 L486.7,39.3 L487.2,39.3 L487.7,39.3 L488.2,39.3 L488.7,39.3 L489.2,39.2 L489.7,39.2 L490.2,39.2 L490.7,39.2 L491.2,39.2 L491.7,39.2 L492.2,39.2 L492.7,39.2 L493.2,39.2 L493.7,39.2 L494.2,39.2 L494.7,39.2 L495.2,39.2 L495.7,39.3 L496.2,39.3 L496.7,39.4 L497.2,39.5 L497.7,39.6 L498.2,39.7 L498.7,39.8 L499.2,40.0 L499.7,40.1 L500.2,40.2 L500.7,40.4 L501.2,40.5 L501.7,40.6 L502.2,40.7 L502.7,40.8 L503.2,40.9 L503.7,41.1 L504.2,41.2 L504.7,41.3 L505.2,41.4 L505.7,41.5 L506.2,41.7 L506.7,41.8 L507.2,41.9 L507.7,42.1 L508.2,42.2 L508.7,42.3 L509.2,42.5 L509.7,42.6 L510.2,42.8 L510.7,42.9 L511.2,43.1 L511.7,43.2 L512.2,43.4 L512.7,43.5 L513.2,43.7 L513.7,43.9 L514.2,44.0 L514.7,44.2 L515.2,44.4 L515.7,44.5 L516.2,44.7 L516.7,44.9 L517.2,45.1 L517.7,45.3 L518.2,45.5 L518.7,45.7 L519.2,45.9 L519.7,46.1 L520.2,46.3 L520.7,46.5 L521.2,46.8 L521.7,47.0 L522.2,47.2 L522.7,47.5 L523.2,47.7 L523.7,48.0 L524.2,48.2 L524.7,48.5 L525.2,48.7 L525.7,49.0 L526.2,49.2 L526.7,49.5 L527.2,49.8 L527.7,50.1 L528.2,50.4 L528.7,50.7 L529.2,50.9 L529.7,51.2 L530.2,51.6 L530.7,51.9 L531.2,52.2 L531.7,52.5 L532.2,52.8 L532.7,53.1 L533.2,53.4 L533.7,53.7 L534.2,54.0 L534.7,54.3 L535.2,54.6 L535.7,54.9 L536.2,55.2 L536.7,55.6 L537.2,55.9 L537.7,56.2 L538.2,56.5 L538.7,56.8 L539.2,57.2 L539.7,57.5 L540.2,57.9 L540.7,58.3 L541.2,58.6 L541.7,59.0 L542.2,59.4 L542.7,59.9 L543.2,60.3 L543.7,60.7 L544.2,61.2 L544.7,61.7 L545.2,62.1 L545.7,62.6 L546.2,63.1 L546.7,63.6 L547.2,64.1 L547.7,64.6 L548.2,65.1 L548.7,65.6 L549.2,66.2 L549.7,66.7 L550.2,67.2 L550.7,67.7 L551.2,68.3 L551.7,68.8 L552.2,69.4 L552.7,70.0 L553.2,70.5 L553.7,71.1 L554.2,71.7 L554.7,72.3 L555.2,72.9 L555.7,73.5 L556.2,74.1 L556.7,74.7 L557.2,75.4 L557.7,76.0 L558.2,76.7 L558.7,77.4 L559.2,78.2 L559.7,78.9 L560.2,79.6 L560.7,80.4 L561.2,81.1 L561.7,81.8 L562.2,82.5 L562.7,83.2 L563.2,83.9 L563.7,84.5 L564.2,85.1 L564.7,85.7 L565.2,86.1 L565.7,86.6 L566.2,87.1 L566.7,87.5 L567.2,88.0 L567.7,88.5 L568.2,88.9 L568.7,89.4 L569.2,89.9 L569.7,90.4 L570.2,90.8 L570.7,91.3 L571.2,91.8 L571.7,92.2 L572.2,92.7 L572.7,93.2" stroke-width="0.95"/>
<circle cx="424.2" cy="85.0" r="1.75" stroke-width="0.75"/>
<circle cx="432.0" cy="69.7" r="1.75" stroke-width="0.75"/>
<circle cx="439.8" cy="59.6" r="1.75" stroke-width="0.75"/>
<circle cx="447.6" cy="51.9" r="1.75" stroke-width="0.75"/>
<circle cx="455.4" cy="46.8" r="1.75" stroke-width="0.75"/>
<circle cx="463.2" cy="43.6" r="1.75" stroke-width="0.75"/>
<circle cx="471.0" cy="41.5" r="1.75" stroke-width="0.75"/>
<circle cx="478.8" cy="40.0" r="1.75" stroke-width="0.75"/>
<circle cx="486.6" cy="39.3" r="1.75" stroke-width="0.75"/>
<circle cx="494.4" cy="39.2" r="1.75" stroke-width="0.75"/>
<circle cx="502.2" cy="40.7" r="1.75" stroke-width="0.75"/>
<circle cx="510.0" cy="42.7" r="1.75" stroke-width="0.75"/>
<circle cx="517.8" cy="45.3" r="1.75" stroke-width="0.75"/>
<circle cx="525.6" cy="48.9" r="1.75" stroke-width="0.75"/>
<circle cx="533.4" cy="53.5" r="1.75" stroke-width="0.75"/>
<circle cx="541.2" cy="58.6" r="1.75" stroke-width="0.75"/>
<circle cx="549.0" cy="65.9" r="1.75" stroke-width="0.75"/>
<circle cx="556.8" cy="74.8" r="1.75" stroke-width="0.75"/>
<circle cx="564.6" cy="85.5" r="1.75" stroke-width="0.75"/>
<path d="M412.6,67.7 L413.1,67.8 L413.6,68.0 L414.1,68.2 L414.6,68.3 L415.1,68.6 L415.6,68.8 L416.1,69.0 L416.6,69.3 L417.1,69.6 L417.6,70.0 L418.1,70.3 L418.6,70.7 L419.1,71.2 L419.6,71.6 L420.1,72.1 L420.6,72.6 L421.1,73.1 L421.6,73.6 L422.1,74.2 L422.6,74.7 L423.1,75.2 L423.6,75.7 L424.1,76.2 L424.6,76.8 L425.1,77.3 L425.6,77.8 L426.1,78.3 L426.6,78.9 L427.1,79.4 L427.6,80.0 L428.1,80.6 L428.6,81.1 L429.1,81.7 L429.6,82.3 L430.1,82.9 L430.6,83.4 L431.1,84.0 L431.6,84.6 L432.1,85.1 L432.6,85.7 L433.1,86.2 L433.6,86.8 L434.1,87.3 L434.6,87.9 L435.1,88.4 L435.6,89.0 L436.1,89.5 L436.6,90.1 L437.1,90.6 L437.6,91.2 L438.1,91.7 L438.6,92.3 L439.1,92.8" stroke-width="0.95"/>
<circle cx="416.4" cy="69.2" r="1.75" stroke-width="0.75"/>
<circle cx="424.2" cy="76.3" r="1.75" stroke-width="0.75"/>
<circle cx="432.0" cy="85.0" r="1.75" stroke-width="0.75"/>
<path d="M433.1,93.2 L433.6,92.6 L434.1,92.0 L434.6,91.4 L435.1,90.8 L435.6,90.1 L436.1,89.5 L436.6,88.9 L437.1,88.3 L437.6,87.7 L438.1,87.1 L438.6,86.5 L439.1,85.9 L439.6,85.3 L440.1,84.6 L440.6,83.8 L441.1,83.0 L441.6,82.1 L442.1,81.2 L442.6,80.2 L443.1,79.2 L443.6,78.2 L444.1,77.2 L444.6,76.2 L445.1,75.2 L445.6,74.3 L446.1,73.3 L446.6,72.4 L447.1,71.5 L447.6,70.7 L448.1,69.9 L448.6,69.2 L449.1,68.4 L449.6,67.7 L450.1,66.9 L450.6,66.2 L451.1,65.5 L451.6,64.8 L452.1,64.1 L452.6,63.5 L453.1,62.8 L453.6,62.2 L454.1,61.5 L454.6,60.9 L455.1,60.4 L455.6,59.8 L456.1,59.2 L456.6,58.7 L457.1,58.2 L457.6,57.6 L458.1,57.1 L458.6,56.6 L459.1,56.1 L459.6,55.7 L460.1,55.2 L460.6,54.7 L461.1,54.3 L461.6,53.8 L462.1,53.4 L462.6,52.9 L463.1,52.5 L463.6,52.1 L464.1,51.6 L464.6,51.2 L465.1,50.8 L465.6,50.4 L466.1,49.9 L466.6,49.5 L467.1,49.1 L467.6,48.7 L468.1,48.3 L468.6,48.0 L469.1,47.6 L469.6,47.2 L470.1,46.9 L470.6,46.6 L471.1,46.2 L471.6,45.9 L472.1,45.6 L472.6,45.3 L473.1,45.0 L473.6,44.8 L474.1,44.5 L474.6,44.2 L475.1,43.9 L475.6,43.7 L476.1,43.4 L476.6,43.2 L477.1,43.0 L477.6,42.7 L478.1,42.5 L478.6,42.3 L479.1,42.1 L479.6,41.9 L480.1,41.7 L480.6,41.5 L481.1,41.3 L481.6,41.1 L482.1,41.0 L482.6,40.8 L483.1,40.6 L483.6,40.5 L484.1,40.3 L484.6,40.1 L485.1,40.0 L485.6,39.8 L486.1,39.7 L486.6,39.5 L487.1,39.3 L487.6,39.2 L488.1,39.0 L488.6,38.8 L489.1,38.6 L489.6,38.5 L490.1,38.3 L490.6,38.1 L491.1,38.0 L491.6,37.8 L492.1,37.7 L492.6,37.5 L493.1,37.4 L493.6,37.3 L494.1,37.2 L494.6,37.1 L495.1,37.0 L495.6,36.9 L496.1,36.8 L496.6,36.7 L497.1,36.7 L497.6,36.6 L498.1,36.5 L498.6,36.5 L499.1,36.4 L499.6,36.4 L500.1,36.3 L500.6,36.2 L501.1,36.2 L501.6,36.2 L502.1,36.1 L502.6,36.1 L503.1,36.0 L503.6,36.0 L504.1,35.9 L504.6,35.9 L505.1,35.9 L505.6,35.8 L506.1,35.8 L506.6,35.8 L507.1,35.7 L507.6,35.7 L508.1,35.7 L508.6,35.7 L509.1,35.6 L509.6,35.6 L510.1,35.6 L510.6,35.6 L511.1,35.6 L511.6,35.5 L512.1,35.5 L512.6,35.5 L513.1,35.5 L513.6,35.5 L514.1,35.5 L514.6,35.4 L515.1,35.4 L515.6,35.4 L516.1,35.4 L516.6,35.4 L517.1,35.4 L517.6,35.4 L518.1,35.4 L518.6,35.4 L519.1,35.4 L519.6,35.4 L520.1,35.4 L520.6,35.4 L521.1,35.4 L521.6,35.4 L522.1,35.4 L522.6,35.4 L523.1,35.4 L523.6,35.4 L524.1,35.4 L524.6,35.4 L525.1,35.4 L525.6,35.4 L526.1,35.4 L526.6,35.4 L527.1,35.4 L527.6,35.4 L528.1,35.5 L528.6,35.5 L529.1,35.5 L529.6,35.6 L530.1,35.6 L530.6,35.6 L531.1,35.7 L531.6,35.7 L532.1,35.8 L532.6,35.8 L533.1,35.9 L533.6,35.9 L534.1,36.0 L534.6,36.0 L535.1,36.1 L535.6,36.1 L536.1,36.2 L536.6,36.3 L537.1,36.4 L537.6,36.4 L538.1,36.5 L538.6,36.6 L539.1,36.7 L539.6,36.8 L540.1,36.9 L540.6,37.0 L541.1,37.1 L541.6,37.2 L542.1,37.3 L542.6,37.4 L543.1,37.5 L543.6,37.7 L544.1,37.8 L544.6,37.9 L545.1,38.1 L545.6,38.2 L546.1,38.4 L546.6,38.5 L547.1,38.7 L547.6,38.8 L548.1,39.0 L548.6,39.1 L549.1,39.2 L549.6,39.4 L550.1,39.5 L550.6,39.6 L551.1,39.7 L551.6,39.8 L552.1,40.0 L552.6,40.1 L553.1,40.2 L553.6,40.3 L554.1,40.5 L554.6,40.6 L555.1,40.7 L555.6,40.9 L556.1,41.0 L556.6,41.1 L557.1,41.3 L557.6,41.4 L558.1,41.6 L558.6,41.8 L559.1,42.0 L559.6,42.1 L560.1,42.3 L560.6,42.5 L561.1,42.7 L561.6,42.9 L562.1,43.1 L562.6,43.3 L563.1,43.5 L563.6,43.7 L564.1,43.9 L564.6,44.1 L565.1,44.3 L565.6,44.5 L566.1,44.7 L566.6,44.9 L567.1,45.2 L567.6,45.4 L568.1,45.6 L568.6,45.8 L569.1,46.1 L569.6,46.3 L570.1,46.6 L570.6,46.8 L571.1,47.1 L571.6,47.3 L572.1,47.6 L572.6,47.9 L573.1,48.2 L573.6,48.5 L574.1,48.9 L574.6,49.2 L575.1,49.5 L575.6,49.9 L576.1,50.3 L576.6,50.6 L577.1,51.0 L577.6,51.4 L578.1,51.8 L578.6,52.2 L579.1,52.6 L579.6,53.0 L580.1,53.4 L580.6,53.8 L581.1,54.2 L581.6,54.6 L582.1,55.1 L582.6,55.5 L583.1,55.9 L583.6,56.4 L584.1,56.8 L584.6,57.3 L585.1,57.8 L585.6,58.2 L586.1,58.7 L586.6,59.2 L587.1,59.7 L587.6,60.2 L588.1,60.7 L588.6,61.2 L589.1,61.7 L589.6,62.3 L590.1,62.8 L590.6,63.4 L591.1,64.0 L591.6,64.5 L592.1,65.1 L592.6,65.7 L593.1,66.3 L593.6,66.9 L594.1,67.5 L594.6,68.2 L595.1,68.8 L595.6,69.4 L596.1,70.1 L596.6,70.7 L597.1,71.4 L597.6,72.0 L598.1,72.7 L598.6,73.4 L599.1,74.0 L599.6,74.7 L600.1,75.4 L600.6,76.2 L601.1,76.9 L601.6,77.7 L602.1,78.5 L602.6,79.3 L603.1,80.1 L603.6,81.0 L604.1,81.9 L604.6,83.0 L605.1,84.1 L605.6,85.2 L606.1,86.3 L606.6,87.4 L607.1,88.5 L607.6,89.5 L608.1,90.6 L608.6,91.7 L609.1,92.7" stroke-width="0.95"/>
<circle cx="439.8" cy="85.0" r="1.75" stroke-width="0.75"/>
<circle cx="447.6" cy="70.7" r="1.75" stroke-width="0.75"/>
<circle cx="455.4" cy="60.0" r="1.75" stroke-width="0.75"/>
<circle cx="463.2" cy="52.4" r="1.75" stroke-width="0.75"/>
<circle cx="471.0" cy="46.3" r="1.75" stroke-width="0.75"/>
<circle cx="478.8" cy="42.2" r="1.75" stroke-width="0.75"/>
<circle cx="486.6" cy="39.5" r="1.75" stroke-width="0.75"/>
<circle cx="494.4" cy="37.1" r="1.75" stroke-width="0.75"/>
<circle cx="502.2" cy="36.1" r="1.75" stroke-width="0.75"/>
<circle cx="510.0" cy="35.6" r="1.75" stroke-width="0.75"/>
<circle cx="517.8" cy="35.4" r="1.75" stroke-width="0.75"/>
<circle cx="525.6" cy="35.4" r="1.75" stroke-width="0.75"/>
<circle cx="533.4" cy="35.9" r="1.75" stroke-width="0.75"/>
<circle cx="541.2" cy="37.1" r="1.75" stroke-width="0.75"/>
<circle cx="549.0" cy="39.2" r="1.75" stroke-width="0.75"/>
<circle cx="556.8" cy="41.2" r="1.75" stroke-width="0.75"/>
<circle cx="564.6" cy="44.1" r="1.75" stroke-width="0.75"/>
<circle cx="572.4" cy="47.8" r="1.75" stroke-width="0.75"/>
<circle cx="580.2" cy="53.5" r="1.75" stroke-width="0.75"/>
<circle cx="588.0" cy="60.6" r="1.75" stroke-width="0.75"/>
<circle cx="595.8" cy="69.7" r="1.75" stroke-width="0.75"/>
<circle cx="603.6" cy="81.0" r="1.75" stroke-width="0.75"/>
<path d="M412.6,63.0 L413.1,63.3 L413.6,63.5 L414.1,63.8 L414.6,64.0 L415.1,64.3 L415.6,64.5 L416.1,64.8 L416.6,65.0 L417.1,65.2 L417.6,65.4 L418.1,65.7 L418.6,65.9 L419.1,66.1 L419.6,66.3 L420.1,66.5 L420.6,66.7 L421.1,66.9 L421.6,67.1 L422.1,67.4 L422.6,67.6 L423.1,67.8 L423.6,68.1 L424.1,68.3 L424.6,68.6 L425.1,68.9 L425.6,69.2 L426.1,69.5 L426.6,69.9 L427.1,70.2 L427.6,70.5 L428.1,70.9 L428.6,71.3 L429.1,71.6 L429.6,72.0 L430.1,72.4 L430.6,72.8 L431.1,73.2 L431.6,73.7 L432.1,74.1 L432.6,74.5 L433.1,75.0 L433.6,75.4 L434.1,75.9 L434.6,76.4 L435.1,76.9 L435.6,77.4 L436.1,77.9 L436.6,78.4 L437.1,79.0 L437.6,79.5 L438.1,80.1 L438.6,80.7 L439.1,81.4 L439.6,82.0 L440.1,82.7 L440.6,83.5 L441.1,84.4 L441.6,85.3 L442.1,86.2 L442.6,87.0 L443.1,87.9 L443.6,88.7 L444.1,89.6 L444.6,90.4 L445.1,91.3 L445.6,92.1 L446.1,92.9" stroke-width="0.95"/>
<circle cx="416.4" cy="64.9" r="1.75" stroke-width="0.75"/>
<circle cx="424.2" cy="68.4" r="1.75" stroke-width="0.75"/>
<circle cx="432.0" cy="74.0" r="1.75" stroke-width="0.75"/>
<circle cx="439.8" cy="82.3" r="1.75" stroke-width="0.75"/>
<path d="M448.2,93.2 L448.7,92.6 L449.2,91.9 L449.7,91.3 L450.2,90.6 L450.7,90.0 L451.2,89.4 L451.7,88.7 L452.2,88.1 L452.7,87.4 L453.2,86.8 L453.7,86.2 L454.2,85.6 L454.7,84.9 L455.2,84.3 L455.7,83.6 L456.2,82.8 L456.7,82.1 L457.2,81.3 L457.7,80.5 L458.2,79.6 L458.7,78.8 L459.2,78.0 L459.7,77.1 L460.2,76.3 L460.7,75.5 L461.2,74.7 L461.7,73.9 L462.2,73.1 L462.7,72.4 L463.2,71.7 L463.7,71.1 L464.2,70.4 L464.7,69.8 L465.2,69.1 L465.7,68.5 L466.2,67.9 L466.7,67.3 L467.2,66.7 L467.7,66.1 L468.2,65.5 L468.7,65.0 L469.2,64.4 L469.7,63.9 L470.2,63.4 L470.7,62.9 L471.2,62.4 L471.7,61.9 L472.2,61.4 L472.7,61.0 L473.2,60.5 L473.7,60.1 L474.2,59.6 L474.7,59.2 L475.2,58.8 L475.7,58.3 L476.2,57.9 L476.7,57.5 L477.2,57.2 L477.7,56.8 L478.2,56.4 L478.7,56.1 L479.2,55.7 L479.7,55.4 L480.2,55.1 L480.7,54.7 L481.2,54.4 L481.7,54.1 L482.2,53.8 L482.7,53.5 L483.2,53.2 L483.7,52.9 L484.2,52.7 L484.7,52.4 L485.2,52.1 L485.7,51.9 L486.2,51.6 L486.7,51.3 L487.2,51.1 L487.7,50.8 L488.2,50.6 L488.7,50.3 L489.2,50.1 L489.7,49.9 L490.2,49.6 L490.7,49.4 L491.2,49.2 L491.7,49.0 L492.2,48.7 L492.7,48.5 L493.2,48.3 L493.7,48.1 L494.2,47.9 L494.7,47.7 L495.2,47.5 L495.7,47.2 L496.2,47.0 L496.7,46.8 L497.2,46.6 L497.7,46.4 L498.2,46.2 L498.7,46.0 L499.2,45.8 L499.7,45.6 L500.2,45.5 L500.7,45.3 L501.2,45.1 L501.7,44.9 L502.2,44.8 L502.7,44.6 L503.2,44.5 L503.7,44.4 L504.2,44.2 L504.7,44.1 L505.2,43.9 L505.7,43.8 L506.2,43.7 L506.7,43.6 L507.2,43.4 L507.7,43.3 L508.2,43.2 L508.7,43.1 L509.2,43.0 L509.7,42.9 L510.2,42.9 L510.7,42.8 L511.2,42.7 L511.7,42.7 L512.2,42.6 L512.7,42.5 L513.2,42.5 L513.7,42.4 L514.2,42.4 L514.7,42.3 L515.2,42.3 L515.7,42.2 L516.2,42.2 L516.7,42.1 L517.2,42.1 L517.7,42.0 L518.2,42.0 L518.7,41.9 L519.2,41.8 L519.7,41.8 L520.2,41.7 L520.7,41.7 L521.2,41.6 L521.7,41.6 L522.2,41.5 L522.7,41.5 L523.2,41.4 L523.7,41.4 L524.2,41.4 L524.7,41.3 L525.2,41.3 L525.7,41.3 L526.2,41.3 L526.7,41.3 L527.2,41.3 L527.7,41.3 L528.2,41.2 L528.7,41.2 L529.2,41.2 L529.7,41.2 L530.2,41.2 L530.7,41.2 L531.2,41.2 L531.7,41.2 L532.2,41.2 L532.7,41.2 L533.2,41.2 L533.7,41.2 L534.2,41.2 L534.7,41.2 L535.2,41.2 L535.7,41.2 L536.2,41.2 L536.7,41.2 L537.2,41.2 L537.7,41.2 L538.2,41.2 L538.7,41.2 L539.2,41.2 L539.7,41.2 L540.2,41.2 L540.7,41.2 L541.2,41.2 L541.7,41.2 L542.2,41.2 L542.7,41.2 L543.2,41.2 L543.7,41.3 L544.2,41.3 L544.7,41.3 L545.2,41.3 L545.7,41.4 L546.2,41.4 L546.7,41.4 L547.2,41.5 L547.7,41.5 L548.2,41.5 L548.7,41.6 L549.2,41.6 L549.7,41.6 L550.2,41.7 L550.7,41.7 L551.2,41.8 L551.7,41.8 L552.2,41.8 L552.7,41.9 L553.2,41.9 L553.7,42.0 L554.2,42.0 L554.7,42.1 L555.2,42.1 L555.7,42.2 L556.2,42.2 L556.7,42.3 L557.2,42.4 L557.7,42.4 L558.2,42.5 L558.7,42.6 L559.2,42.7 L559.7,42.9 L560.2,43.0 L560.7,43.1 L561.2,43.2 L561.7,43.4 L562.2,43.5 L562.7,43.6 L563.2,43.8 L563.7,43.9 L564.2,44.0 L564.7,44.1 L565.2,44.2 L565.7,44.3 L566.2,44.4 L566.7,44.6 L567.2,44.7 L567.7,44.8 L568.2,44.9 L568.7,45.0 L569.2,45.1 L569.7,45.2 L570.2,45.3 L570.7,45.4 L571.2,45.5 L571.7,45.6 L572.2,45.8 L572.7,45.9 L573.2,46.0 L573.7,46.2 L574.2,46.3 L574.7,46.4 L575.2,46.6 L575.7,46.7 L576.2,46.9 L576.7,47.1 L577.2,47.2 L577.7,47.4 L578.2,47.6 L578.7,47.8 L579.2,47.9 L579.7,48.1 L580.2,48.3 L580.7,48.5 L581.2,48.7 L581.7,48.9 L582.2,49.1 L582.7,49.3 L583.2,49.6 L583.7,49.8 L584.2,50.0 L584.7,50.3 L585.2,50.5 L585.7,50.7 L586.2,51.0 L586.7,51.2 L587.2,51.5 L587.7,51.8 L588.2,52.0 L588.7,52.3 L589.2,52.5 L589.7,52.8 L590.2,53.1 L590.7,53.4 L591.2,53.7 L591.7,54.0 L592.2,54.3 L592.7,54.6 L593.2,54.9 L593.7,55.2 L594.2,55.5 L594.7,55.8 L595.2,56.1 L595.7,56.4 L596.2,56.7 L596.7,57.0 L597.2,57.3 L597.7,57.6 L598.2,57.9 L598.7,58.2 L599.2,58.5 L599.7,58.8 L600.2,59.1 L600.7,59.4 L601.2,59.7 L601.7,60.1 L602.2,60.4 L602.7,60.7 L603.2,61.1 L603.7,61.5 L604.2,61.9 L604.7,62.3 L605.2,62.7 L605.7,63.1 L606.2,63.6 L606.7,64.1 L607.2,64.5 L607.7,65.0 L608.2,65.5 L608.7,66.0 L609.2,66.6 L609.7,67.1 L610.2,67.6 L610.7,68.2 L611.2,68.7 L611.7,69.2 L612.2,69.8 L612.7,70.4 L613.2,70.9 L613.7,71.5 L614.2,72.1 L614.7,72.7 L615.2,73.3 L615.7,73.9 L616.2,74.6 L616.7,75.2 L617.2,75.9 L617.7,76.6 L618.2,77.3 L618.7,78.1 L619.2,78.8 L619.7,79.6 L620.2,80.5 L620.7,81.5 L621.2,82.4 L621.7,83.4 L622.2,84.4 L622.7,85.5 L623.2,86.4 L623.7,87.4 L624.2,88.4 L624.7,89.3 L625.2,90.3 L625.7,91.2 L626.2,92.2 L626.7,93.1" stroke-width="0.95"/>
<circle cx="455.4" cy="84.0" r="1.75" stroke-width="0.75"/>
<circle cx="463.2" cy="71.8" r="1.75" stroke-width="0.75"/>
<circle cx="471.0" cy="62.6" r="1.75" stroke-width="0.75"/>
<circle cx="478.8" cy="56.0" r="1.75" stroke-width="0.75"/>
<circle cx="486.6" cy="51.4" r="1.75" stroke-width="0.75"/>
<circle cx="494.4" cy="47.8" r="1.75" stroke-width="0.75"/>
<circle cx="502.2" cy="44.8" r="1.75" stroke-width="0.75"/>
<circle cx="510.0" cy="42.9" r="1.75" stroke-width="0.75"/>
<circle cx="517.8" cy="42.0" r="1.75" stroke-width="0.75"/>
<circle cx="525.6" cy="41.3" r="1.75" stroke-width="0.75"/>
<circle cx="533.4" cy="41.2" r="1.75" stroke-width="0.75"/>
<circle cx="541.2" cy="41.2" r="1.75" stroke-width="0.75"/>
<circle cx="549.0" cy="41.6" r="1.75" stroke-width="0.75"/>
<circle cx="556.8" cy="42.3" r="1.75" stroke-width="0.75"/>
<circle cx="564.6" cy="44.1" r="1.75" stroke-width="0.75"/>
<circle cx="572.4" cy="45.8" r="1.75" stroke-width="0.75"/>
<circle cx="580.2" cy="48.3" r="1.75" stroke-width="0.75"/>
<circle cx="588.0" cy="51.9" r="1.75" stroke-width="0.75"/>
<circle cx="595.8" cy="56.5" r="1.75" stroke-width="0.75"/>
<circle cx="603.6" cy="61.4" r="1.75" stroke-width="0.75"/>
<circle cx="611.4" cy="68.9" r="1.75" stroke-width="0.75"/>
<circle cx="619.2" cy="78.8" r="1.75" stroke-width="0.75"/>
<path d="M467.9,93.2 L468.4,92.4 L468.9,91.7 L469.4,90.9 L469.9,90.1 L470.4,89.3 L470.9,88.6 L471.4,87.8 L471.9,87.0 L472.4,86.2 L472.9,85.4 L473.4,84.6 L473.9,83.8 L474.4,83.0 L474.9,82.2 L475.4,81.4 L475.9,80.6 L476.4,79.8 L476.9,79.0 L477.4,78.3 L477.9,77.6 L478.4,76.9 L478.9,76.2 L479.4,75.5 L479.9,74.9 L480.4,74.3 L480.9,73.7 L481.4,73.1 L481.9,72.5 L482.4,71.9 L482.9,71.3 L483.4,70.8 L483.9,70.2 L484.4,69.6 L484.9,69.1 L485.4,68.5 L485.9,68.0 L486.4,67.4 L486.9,66.8 L487.4,66.3 L487.9,65.7 L488.4,65.1 L488.9,64.5 L489.4,64.0 L489.9,63.4 L490.4,62.8 L490.9,62.3 L491.4,61.7 L491.9,61.1 L492.4,60.6 L492.9,60.1 L493.4,59.6 L493.9,59.1 L494.4,58.6 L494.9,58.1 L495.4,57.6 L495.9,57.1 L496.4,56.7 L496.9,56.2 L497.4,55.8 L497.9,55.3 L498.4,54.9 L498.9,54.4 L499.4,54.0 L499.9,53.6 L500.4,53.2 L500.9,52.8 L501.4,52.5 L501.9,52.1 L502.4,51.7 L502.9,51.4 L503.4,51.1 L503.9,50.8 L504.4,50.5 L504.9,50.2 L505.4,49.9 L505.9,49.6 L506.4,49.3 L506.9,49.1 L507.4,48.8 L507.9,48.5 L508.4,48.2 L508.9,47.9 L509.4,47.6 L509.9,47.3 L510.4,47.0 L510.9,46.7 L511.4,46.4 L511.9,46.1 L512.4,45.7 L512.9,45.4 L513.4,45.0 L513.9,44.7 L514.4,44.4 L514.9,44.0 L515.4,43.7 L515.9,43.4 L516.4,43.0 L516.9,42.7 L517.4,42.4 L517.9,42.1 L518.4,41.8 L518.9,41.5 L519.4,41.2 L519.9,40.9 L520.4,40.7 L520.9,40.4 L521.4,40.1 L521.9,39.8 L522.4,39.5 L522.9,39.3 L523.4,39.0 L523.9,38.8 L524.4,38.6 L524.9,38.4 L525.4,38.2 L525.9,38.0 L526.4,37.8 L526.9,37.6 L527.4,37.5 L527.9,37.3 L528.4,37.2 L528.9,37.1 L529.4,36.9 L529.9,36.8 L530.4,36.7 L530.9,36.5 L531.4,36.4 L531.9,36.3 L532.4,36.2 L532.9,36.0 L533.4,35.9 L533.9,35.8 L534.4,35.6 L534.9,35.5 L535.4,35.4 L535.9,35.2 L536.4,35.1 L536.9,35.0 L537.4,34.8 L537.9,34.7 L538.4,34.6 L538.9,34.4 L539.4,34.3 L539.9,34.2 L540.4,34.1 L540.9,34.0 L541.4,33.8 L541.9,33.7 L542.4,33.6 L542.9,33.5 L543.4,33.4 L543.9,33.3 L544.4,33.2 L544.9,33.1 L545.4,33.0 L545.9,33.0 L546.4,32.9 L546.9,32.8 L547.4,32.7 L547.9,32.6 L548.4,32.5 L548.9,32.4 L549.4,32.3 L549.9,32.2 L550.4,32.1 L550.9,32.1 L551.4,32.0 L551.9,31.9 L552.4,31.8 L552.9,31.7 L553.4,31.6 L553.9,31.6 L554.4,31.5 L554.9,31.4 L555.4,31.3 L555.9,31.2 L556.4,31.2 L556.9,31.1 L557.4,31.0 L557.9,30.9 L558.4,30.9 L558.9,30.8 L559.4,30.7 L559.9,30.6 L560.4,30.6 L560.9,30.5 L561.4,30.4 L561.9,30.3 L562.4,30.3 L562.9,30.2 L563.4,30.1 L563.9,30.1 L564.4,30.0 L564.9,30.0 L565.4,29.9 L565.9,29.8 L566.4,29.8 L566.9,29.7 L567.4,29.7 L567.9,29.6 L568.4,29.6 L568.9,29.5 L569.4,29.5 L569.9,29.4 L570.4,29.4 L570.9,29.3 L571.4,29.3 L571.9,29.2 L572.4,29.2 L572.9,29.2 L573.4,29.1 L573.9,29.1 L574.4,29.0 L574.9,29.0 L575.4,29.0 L575.9,28.9 L576.4,28.9 L576.9,28.8 L577.4,28.8 L577.9,28.8 L578.4,28.7 L578.9,28.7 L579.4,28.7 L579.9,28.6 L580.4,28.6 L580.9,28.6 L581.4,28.5 L581.9,28.5 L582.4,28.4 L582.9,28.4 L583.4,28.4 L583.9,28.3 L584.4,28.3 L584.9,28.2 L585.4,28.2 L585.9,28.2 L586.4,28.1 L586.9,28.1 L587.4,28.1 L587.9,28.0 L588.4,28.0 L588.9,27.9 L589.4,27.9 L589.9,27.9 L590.4,27.8 L590.9,27.8 L591.4,27.7 L591.9,27.7 L592.4,27.7 L592.9,27.6 L593.4,27.6 L593.9,27.5 L594.4,27.5 L594.9,27.5 L595.4,27.4 L595.9,27.4 L596.4,27.4 L596.9,27.3 L597.4,27.3 L597.9,27.3 L598.4,27.2 L598.9,27.2 L599.4,27.2 L599.9,27.1 L600.4,27.1 L600.9,27.1 L601.4,27.1 L601.9,27.0 L602.4,27.0 L602.9,27.0 L603.4,27.0 L603.9,27.0 L604.4,27.0 L604.9,27.0 L605.4,27.0 L605.9,27.0 L606.4,26.9 L606.9,26.9 L607.4,26.9 L607.9,26.9 L608.4,26.9 L608.9,26.9 L609.4,26.9 L609.9,26.9 L610.4,26.9 L610.9,26.9 L611.4,26.9 L611.9,26.9 L612.4,26.9 L612.9,26.9 L613.4,26.9 L613.9,26.9 L614.4,26.9 L614.9,26.9 L615.4,27.0 L615.9,27.0 L616.4,27.0 L616.9,27.0 L617.4,27.0 L617.9,27.0 L618.4,27.1 L618.9,27.1 L619.4,27.1 L619.9,27.1 L620.4,27.2 L620.9,27.2 L621.4,27.2 L621.9,27.3 L622.4,27.3 L622.9,27.4 L623.4,27.5 L623.9,27.5 L624.4,27.6 L624.9,27.7 L625.4,27.8 L625.9,27.8 L626.4,27.9 L626.9,28.0 L627.4,28.2 L627.9,28.3 L628.4,28.5 L628.9,28.7 L629.4,28.8 L629.9,29.0 L630.4,29.1 L630.9,29.2 L631.4,29.3 L631.9,29.5 L632.4,29.6 L632.9,29.7 L633.4,29.8 L633.9,29.9 L634.4,30.1 L634.9,30.2 L635.4,30.3 L635.9,30.5 L636.4,30.6 L636.9,30.8 L637.4,31.0 L637.9,31.1 L638.4,31.3 L638.9,31.5 L639.4,31.7 L639.9,31.8 L640.4,32.0 L640.9,32.2 L641.4,32.4 L641.9,32.6 L642.4,32.8 L642.9,33.0 L643.4,33.2 L643.9,33.4 L644.4,33.6 L644.9,33.9 L645.4,34.1 L645.9,34.3 L646.4,34.5 L646.9,34.8 L647.4,35.0 L647.9,35.2 L648.4,35.4 L648.9,35.6 L649.4,35.8 L649.9,36.1 L650.4,36.3 L650.9,36.5 L651.4,36.7 L651.9,37.0 L652.4,37.2 L652.9,37.5 L653.4,37.7 L653.9,38.0 L654.4,38.3 L654.9,38.6 L655.4,38.9 L655.9,39.2 L656.4,39.5 L656.9,39.8 L657.4,40.1 L657.9,40.4 L658.4,40.7 L658.9,41.0 L659.4,41.3 L659.9,41.6 L660.4,42.0 L660.9,42.4 L661.4,42.9 L661.9,43.4 L662.4,44.0 L662.9,44.6 L663.4,45.2 L663.9,45.8 L664.4,46.3 L664.9,46.9 L665.4,47.4 L665.9,48.0 L666.4,48.6 L666.9,49.1 L667.4,49.7 L667.9,50.3 L668.4,50.8 L668.9,51.4 L669.4,52.0 L669.9,52.5 L670.4,53.1 L670.9,53.7 L671.4,54.3 L671.9,54.9 L672.4,55.5 L672.9,56.2 L673.4,56.8 L673.9,57.5 L674.4,58.2 L674.9,58.9 L675.4,59.6 L675.9,60.3 L676.4,61.0 L676.9,61.8 L677.4,62.5 L677.9,63.3 L678.4,64.1 L678.9,64.9 L679.4,65.8 L679.9,66.8 L680.4,67.8 L680.9,68.9 L681.4,70.1 L681.9,71.3 L682.4,72.6 L682.9,74.0 L683.4,75.5 L683.9,77.0 L684.4,78.5 L684.9,80.1 L685.4,81.6" stroke-width="0.95"/>
<circle cx="478.8" cy="76.3" r="1.75" stroke-width="0.75"/>
<circle cx="486.6" cy="67.2" r="1.75" stroke-width="0.75"/>
<circle cx="494.4" cy="58.6" r="1.75" stroke-width="0.75"/>
<circle cx="502.2" cy="51.9" r="1.75" stroke-width="0.75"/>
<circle cx="510.0" cy="47.3" r="1.75" stroke-width="0.75"/>
<circle cx="517.8" cy="42.2" r="1.75" stroke-width="0.75"/>
<circle cx="525.6" cy="38.1" r="1.75" stroke-width="0.75"/>
<circle cx="533.4" cy="35.9" r="1.75" stroke-width="0.75"/>
<circle cx="541.2" cy="33.9" r="1.75" stroke-width="0.75"/>
<circle cx="549.0" cy="32.4" r="1.75" stroke-width="0.75"/>
<circle cx="556.8" cy="31.1" r="1.75" stroke-width="0.75"/>
<circle cx="564.6" cy="30.0" r="1.75" stroke-width="0.75"/>
<circle cx="572.4" cy="29.2" r="1.75" stroke-width="0.75"/>
<circle cx="580.2" cy="29.3" r="1.75" stroke-width="0.75"/>
<circle cx="588.0" cy="28.9" r="1.75" stroke-width="0.75"/>
<circle cx="595.8" cy="28.5" r="1.75" stroke-width="0.75"/>
<circle cx="603.6" cy="28.1" r="1.75" stroke-width="0.75"/>
<circle cx="611.4" cy="27.7" r="1.75" stroke-width="0.75"/>
<circle cx="619.2" cy="27.7" r="1.75" stroke-width="0.75"/>
<circle cx="627.0" cy="28.3" r="1.75" stroke-width="0.75"/>
<circle cx="634.8" cy="29.8" r="1.75" stroke-width="0.75"/>
<circle cx="642.6" cy="33.0" r="1.75" stroke-width="0.75"/>
<circle cx="650.4" cy="38.2" r="1.75" stroke-width="0.75"/>
<circle cx="658.2" cy="43.8" r="1.75" stroke-width="0.75"/>
<circle cx="666.0" cy="52.6" r="1.75" stroke-width="0.75"/>
<circle cx="673.8" cy="62.5" r="1.75" stroke-width="0.75"/>
<circle cx="681.6" cy="79.3" r="1.75" stroke-width="0.75"/>
<path d="M496.4,93.2 L496.9,92.5 L497.4,91.7 L497.9,91.0 L498.4,90.2 L498.9,89.5 L499.4,88.7 L499.9,88.0 L500.4,87.2 L500.9,86.5 L501.4,85.7 L501.9,85.0 L502.4,84.2 L502.9,83.4 L503.4,82.7 L503.9,81.9 L504.4,81.1 L504.9,80.3 L505.4,79.5 L505.9,78.7 L506.4,77.9 L506.9,77.2 L507.4,76.4 L507.9,75.7 L508.4,74.9 L508.9,74.2 L509.4,73.6 L509.9,72.9 L510.4,72.3 L510.9,71.7 L511.4,71.1 L511.9,70.5 L512.4,70.0 L512.9,69.4 L513.4,68.9 L513.9,68.3 L514.4,67.8 L514.9,67.3 L515.4,66.8 L515.9,66.3 L516.4,65.8 L516.9,65.4 L517.4,64.9 L517.9,64.5 L518.4,64.1 L518.9,63.7 L519.4,63.3 L519.9,62.9 L520.4,62.6 L520.9,62.2 L521.4,61.9 L521.9,61.5 L522.4,61.2 L522.9,60.8 L523.4,60.5 L523.9,60.2 L524.4,59.8 L524.9,59.5 L525.4,59.1 L525.9,58.8 L526.4,58.4 L526.9,58.0 L527.4,57.7 L527.9,57.3 L528.4,56.9 L528.9,56.5 L529.4,56.1 L529.9,55.8 L530.4,55.4 L530.9,55.0 L531.4,54.7 L531.9,54.4 L532.4,54.1 L532.9,53.8 L533.4,53.5 L533.9,53.3 L534.4,53.0 L534.9,52.8 L535.4,52.6 L535.9,52.4 L536.4,52.2 L536.9,52.0 L537.4,51.8 L537.9,51.6 L538.4,51.4 L538.9,51.2 L539.4,51.0 L539.9,50.9 L540.4,50.7 L540.9,50.5 L541.4,50.3 L541.9,50.1 L542.4,50.0 L542.9,49.8 L543.4,49.6 L543.9,49.5 L544.4,49.3 L544.9,49.1 L545.4,49.0 L545.9,48.8 L546.4,48.6 L546.9,48.5 L547.4,48.3 L547.9,48.2 L548.4,48.0 L548.9,47.8 L549.4,47.7 L549.9,47.5 L550.4,47.3 L550.9,47.1 L551.4,47.0 L551.9,46.8 L552.4,46.6 L552.9,46.4 L553.4,46.3 L553.9,46.1 L554.4,45.9 L554.9,45.8 L555.4,45.6 L555.9,45.5 L556.4,45.4 L556.9,45.3 L557.4,45.2 L557.9,45.1 L558.4,45.0 L558.9,44.9 L559.4,44.8 L559.9,44.7 L560.4,44.6 L560.9,44.5 L561.4,44.4 L561.9,44.4 L562.4,44.3 L562.9,44.2 L563.4,44.2 L563.9,44.1 L564.4,44.1 L564.9,44.1 L565.4,44.1 L565.9,44.1 L566.4,44.0 L566.9,44.0 L567.4,44.0 L567.9,44.0 L568.4,44.0 L568.9,44.0 L569.4,44.0 L569.9,44.0 L570.4,44.0 L570.9,43.9 L571.4,43.9 L571.9,43.9 L572.4,43.9 L572.9,43.9 L573.4,43.9 L573.9,43.8 L574.4,43.8 L574.9,43.7 L575.4,43.7 L575.9,43.6 L576.4,43.6 L576.9,43.5 L577.4,43.5 L577.9,43.5 L578.4,43.4 L578.9,43.4 L579.4,43.4 L579.9,43.4 L580.4,43.4 L580.9,43.4 L581.4,43.4 L581.9,43.4 L582.4,43.4 L582.9,43.4 L583.4,43.4 L583.9,43.4 L584.4,43.4 L584.9,43.4 L585.4,43.4 L585.9,43.4 L586.4,43.4 L586.9,43.4 L587.4,43.4 L587.9,43.4 L588.4,43.4 L588.9,43.4 L589.4,43.4 L589.9,43.4 L590.4,43.5 L590.9,43.5 L591.4,43.5 L591.9,43.5 L592.4,43.6 L592.9,43.6 L593.4,43.6 L593.9,43.6 L594.4,43.7 L594.9,43.7 L595.4,43.7 L595.9,43.7 L596.4,43.7 L596.9,43.8 L597.4,43.8 L597.9,43.8 L598.4,43.8 L598.9,43.8 L599.4,43.9 L599.9,43.9 L600.4,43.9 L600.9,43.9 L601.4,44.0 L601.9,44.0 L602.4,44.0 L602.9,44.0 L603.4,44.1 L603.9,44.1 L604.4,44.1 L604.9,44.2 L605.4,44.2 L605.9,44.2 L606.4,44.3 L606.9,44.3 L607.4,44.4 L607.9,44.4 L608.4,44.5 L608.9,44.5 L609.4,44.6 L609.9,44.6 L610.4,44.7 L610.9,44.7 L611.4,44.8 L611.9,44.8 L612.4,44.9 L612.9,45.0 L613.4,45.1 L613.9,45.1 L614.4,45.2 L614.9,45.3 L615.4,45.4 L615.9,45.5 L616.4,45.6 L616.9,45.7 L617.4,45.8 L617.9,45.9 L618.4,46.0 L618.9,46.1 L619.4,46.2 L619.9,46.3 L620.4,46.4 L620.9,46.5 L621.4,46.6 L621.9,46.7 L622.4,46.9 L622.9,47.0 L623.4,47.1 L623.9,47.2 L624.4,47.4 L624.9,47.5 L625.4,47.6 L625.9,47.8 L626.4,47.9 L626.9,48.0 L627.4,48.2 L627.9,48.3 L628.4,48.5 L628.9,48.6 L629.4,48.8 L629.9,48.9 L630.4,49.1 L630.9,49.3 L631.4,49.4 L631.9,49.6 L632.4,49.8 L632.9,50.0 L633.4,50.1 L633.9,50.3 L634.4,50.5 L634.9,50.7 L635.4,50.9 L635.9,51.0 L636.4,51.2 L636.9,51.4 L637.4,51.6 L637.9,51.8 L638.4,52.0 L638.9,52.2 L639.4,52.4 L639.9,52.6 L640.4,52.8 L640.9,53.0 L641.4,53.2 L641.9,53.4 L642.4,53.6 L642.9,53.9 L643.4,54.1 L643.9,54.3 L644.4,54.5 L644.9,54.7 L645.4,54.9 L645.9,55.1 L646.4,55.3 L646.9,55.6 L647.4,55.8 L647.9,56.0 L648.4,56.2 L648.9,56.5 L649.4,56.7 L649.9,57.0 L650.4,57.2 L650.9,57.4 L651.4,57.7 L651.9,58.0 L652.4,58.2 L652.9,58.5 L653.4,58.7 L653.9,59.0 L654.4,59.3 L654.9,59.6 L655.4,59.8 L655.9,60.1 L656.4,60.4 L656.9,60.7 L657.4,61.0 L657.9,61.3 L658.4,61.6 L658.9,61.9 L659.4,62.3 L659.9,62.6 L660.4,63.0 L660.9,63.3 L661.4,63.8 L661.9,64.3 L662.4,64.9 L662.9,65.5 L663.4,66.1 L663.9,66.8 L664.4,67.5 L664.9,68.1 L665.4,68.8 L665.9,69.4 L666.4,69.9 L666.9,70.5 L667.4,71.0 L667.9,71.5 L668.4,72.0 L668.9,72.5 L669.4,73.0 L669.9,73.5 L670.4,74.0 L670.9,74.5 L671.4,75.0 L671.9,75.4 L672.4,75.9 L672.9,76.4 L673.4,76.8 L673.9,77.2 L674.4,77.7 L674.9,78.1 L675.4,78.5 L675.9,78.9 L676.4,79.3 L676.9,79.7 L677.4,80.1 L677.9,80.5 L678.4,80.9 L678.9,81.3 L679.4,81.7 L679.9,82.2 L680.4,82.6 L680.9,83.1 L681.4,83.6 L681.9,84.1 L682.4,84.5 L682.9,85.0 L683.4,85.5 L683.9,86.0 L684.4,86.4 L684.9,86.9 L685.4,87.4" stroke-width="0.95"/>
<circle cx="502.2" cy="84.5" r="1.75" stroke-width="0.75"/>
<circle cx="510.0" cy="72.8" r="1.75" stroke-width="0.75"/>
<circle cx="517.8" cy="64.6" r="1.75" stroke-width="0.75"/>
<circle cx="525.6" cy="59.0" r="1.75" stroke-width="0.75"/>
<circle cx="533.4" cy="53.5" r="1.75" stroke-width="0.75"/>
<circle cx="541.2" cy="50.4" r="1.75" stroke-width="0.75"/>
<circle cx="549.0" cy="47.8" r="1.75" stroke-width="0.75"/>
<circle cx="556.8" cy="45.3" r="1.75" stroke-width="0.75"/>
<circle cx="564.6" cy="44.1" r="1.75" stroke-width="0.75"/>
<circle cx="572.4" cy="42.6" r="1.75" stroke-width="0.75"/>
<circle cx="580.2" cy="42.3" r="1.75" stroke-width="0.75"/>
<circle cx="588.0" cy="42.3" r="1.75" stroke-width="0.75"/>
<circle cx="595.8" cy="42.3" r="1.75" stroke-width="0.75"/>
<circle cx="603.6" cy="42.8" r="1.75" stroke-width="0.75"/>
<circle cx="611.4" cy="43.7" r="1.75" stroke-width="0.75"/>
<circle cx="619.2" cy="44.8" r="1.75" stroke-width="0.75"/>
<circle cx="627.0" cy="47.0" r="1.75" stroke-width="0.75"/>
<circle cx="634.8" cy="49.6" r="1.75" stroke-width="0.75"/>
<circle cx="642.6" cy="53.0" r="1.75" stroke-width="0.75"/>
<circle cx="650.4" cy="56.2" r="1.75" stroke-width="0.75"/>
<circle cx="658.2" cy="60.6" r="1.75" stroke-width="0.75"/>
<circle cx="666.0" cy="69.6" r="1.75" stroke-width="0.75"/>
<circle cx="673.8" cy="71.7" r="1.75" stroke-width="0.75"/>
<path d="M546.1,93.2 L546.6,92.7 L547.1,92.2 L547.6,91.7 L548.1,91.2 L548.6,90.7 L549.1,90.2 L549.6,89.7 L550.1,89.2 L550.6,88.7 L551.1,88.2 L551.6,87.7 L552.1,87.2 L552.6,86.7 L553.1,86.2 L553.6,85.7 L554.1,85.2 L554.6,84.7 L555.1,84.2 L555.6,83.7 L556.1,83.2 L556.6,82.7 L557.1,82.2 L557.6,81.7 L558.1,81.2 L558.6,80.7 L559.1,80.1 L559.6,79.6 L560.1,79.1 L560.6,78.6 L561.1,78.0 L561.6,77.5 L562.1,77.0 L562.6,76.5 L563.1,76.1 L563.6,75.6 L564.1,75.2 L564.6,74.8 L565.1,74.4 L565.6,74.0 L566.1,73.7 L566.6,73.3 L567.1,73.0 L567.6,72.7 L568.1,72.3 L568.6,72.0 L569.1,71.7 L569.6,71.4 L570.1,71.1 L570.6,70.8 L571.1,70.5 L571.6,70.2 L572.1,69.9 L572.6,69.6 L573.1,69.3 L573.6,69.0 L574.1,68.7 L574.6,68.4 L575.1,68.1 L575.6,67.8 L576.1,67.6 L576.6,67.3 L577.1,67.0 L577.6,66.7 L578.1,66.5 L578.6,66.2 L579.1,65.9 L579.6,65.6 L580.1,65.4 L580.6,65.1 L581.1,64.8 L581.6,64.5 L582.1,64.2 L582.6,63.9 L583.1,63.7 L583.6,63.4 L584.1,63.1 L584.6,62.8 L585.1,62.5 L585.6,62.3 L586.1,62.0 L586.6,61.7 L587.1,61.5 L587.6,61.2 L588.1,60.9 L588.6,60.7 L589.1,60.4 L589.6,60.2 L590.1,59.9 L590.6,59.6 L591.1,59.4 L591.6,59.1 L592.1,58.8 L592.6,58.6 L593.1,58.4 L593.6,58.1 L594.1,57.9 L594.6,57.7 L595.1,57.5 L595.6,57.4 L596.1,57.2 L596.6,57.1 L597.1,57.0 L597.6,56.8 L598.1,56.7 L598.6,56.6 L599.1,56.5 L599.6,56.4 L600.1,56.3 L600.6,56.3 L601.1,56.2 L601.6,56.1 L602.1,56.0 L602.6,55.9 L603.1,55.7 L603.6,55.6 L604.1,55.5 L604.6,55.4 L605.1,55.2 L605.6,55.1 L606.1,54.9 L606.6,54.8 L607.1,54.6 L607.6,54.5 L608.1,54.3 L608.6,54.2 L609.1,54.0 L609.6,53.9 L610.1,53.8 L610.6,53.6 L611.1,53.5 L611.6,53.4 L612.1,53.3 L612.6,53.2 L613.1,53.1 L613.6,53.0 L614.1,53.0 L614.6,52.9 L615.1,52.8 L615.6,52.7 L616.1,52.6 L616.6,52.6 L617.1,52.5 L617.6,52.4 L618.1,52.3 L618.6,52.3 L619.1,52.2 L619.6,52.1 L620.1,52.0 L620.6,51.9 L621.1,51.9 L621.6,51.8 L622.1,51.7 L622.6,51.6 L623.1,51.5 L623.6,51.5 L624.1,51.4 L624.6,51.3 L625.1,51.3 L625.6,51.3 L626.1,51.2 L626.6,51.2 L627.1,51.2 L627.6,51.2 L628.1,51.2 L628.6,51.3 L629.1,51.3 L629.6,51.4 L630.1,51.4 L630.6,51.5 L631.1,51.6 L631.6,51.7 L632.1,51.8 L632.6,51.9 L633.1,52.0 L633.6,52.2 L634.1,52.4 L634.6,52.6 L635.1,52.9 L635.6,53.2 L636.1,53.5 L636.6,53.8 L637.1,54.1 L637.6,54.5 L638.1,54.8 L638.6,55.2 L639.1,55.6 L639.6,56.1 L640.1,56.6 L640.6,57.0 L641.1,57.6 L641.6,58.1 L642.1,58.6 L642.6,59.1 L643.1,59.7 L643.6,60.3 L644.1,60.9 L644.6,61.5 L645.1,62.1 L645.6,62.7 L646.1,63.3 L646.6,64.0 L647.1,64.6 L647.6,65.3 L648.1,65.9 L648.6,66.6 L649.1,67.2 L649.6,67.9 L650.1,68.6 L650.6,69.2 L651.1,69.9 L651.6,70.6 L652.1,71.3 L652.6,71.9 L653.1,72.6 L653.6,73.3 L654.1,74.0 L654.6,74.7 L655.1,75.4 L655.6,76.1 L656.1,76.8 L656.6,77.6 L657.1,78.3 L657.6,79.1 L658.1,80.0 L658.6,80.8 L659.1,81.7 L659.6,82.7 L660.1,83.7 L660.6,84.8 L661.1,85.8 L661.6,86.8 L662.1,87.8 L662.6,88.8 L663.1,89.8 L663.6,90.7 L664.1,91.7 L664.6,92.7" stroke-width="0.95"/>
<circle cx="556.8" cy="82.5" r="1.75" stroke-width="0.75"/>
<circle cx="564.6" cy="74.8" r="1.75" stroke-width="0.75"/>
<circle cx="572.4" cy="69.7" r="1.75" stroke-width="0.75"/>
<circle cx="580.2" cy="65.3" r="1.75" stroke-width="0.75"/>
<circle cx="588.0" cy="61.0" r="1.75" stroke-width="0.75"/>
<circle cx="595.8" cy="57.3" r="1.75" stroke-width="0.75"/>
<circle cx="603.6" cy="57.0" r="1.75" stroke-width="0.75"/>
<circle cx="611.4" cy="55.1" r="1.75" stroke-width="0.75"/>
<circle cx="619.2" cy="53.8" r="1.75" stroke-width="0.75"/>
<circle cx="627.0" cy="53.5" r="1.75" stroke-width="0.75"/>
<circle cx="634.8" cy="54.7" r="1.75" stroke-width="0.75"/>
<circle cx="642.6" cy="60.0" r="1.75" stroke-width="0.75"/>
<circle cx="650.4" cy="69.0" r="1.75" stroke-width="0.75"/>
<circle cx="658.2" cy="80.1" r="1.75" stroke-width="0.75"/>
<path d="M597.2,93.2 L597.7,92.5 L598.2,91.8 L598.7,91.1 L599.2,90.4 L599.7,89.7 L600.2,89.0 L600.7,88.3 L601.2,87.6 L601.7,86.9 L602.2,86.2 L602.7,85.5 L603.2,84.8 L603.7,84.1 L604.2,83.5 L604.7,82.9 L605.2,82.3 L605.7,81.7 L606.2,81.2 L606.7,80.6 L607.2,80.0 L607.7,79.5 L608.2,79.0 L608.7,78.4 L609.2,77.9 L609.7,77.4 L610.2,76.9 L610.7,76.4 L611.2,75.9 L611.7,75.4 L612.2,74.9 L612.7,74.4 L613.2,73.9 L613.7,73.4 L614.2,73.0 L614.7,72.5 L615.2,72.0 L615.7,71.5 L616.2,71.1 L616.7,70.7 L617.2,70.3 L617.7,69.9 L618.2,69.5 L618.7,69.2 L619.2,68.9 L619.7,68.6 L620.2,68.3 L620.7,68.0 L621.2,67.8 L621.7,67.5 L622.2,67.3 L622.7,67.0 L623.2,66.8 L623.7,66.6 L624.2,66.4 L624.7,66.2 L625.2,66.0 L625.7,65.9 L626.2,65.7 L626.7,65.6 L627.2,65.5 L627.7,65.4 L628.2,65.3 L628.7,65.2 L629.2,65.1 L629.7,65.0 L630.2,64.9 L630.7,64.8 L631.2,64.8 L631.7,64.7 L632.2,64.7 L632.7,64.6 L633.2,64.6 L633.7,64.5 L634.2,64.5 L634.7,64.5 L635.2,64.5 L635.7,64.5 L636.2,64.5 L636.7,64.6 L637.2,64.6 L637.7,64.7 L638.2,64.7 L638.7,64.8 L639.2,64.9 L639.7,65.0 L640.2,65.0 L640.7,65.1 L641.2,65.2 L641.7,65.3 L642.2,65.4 L642.7,65.5 L643.2,65.6 L643.7,65.8 L644.2,65.9 L644.7,66.1 L645.2,66.3 L645.7,66.5 L646.2,66.7 L646.7,66.9 L647.2,67.2 L647.7,67.4 L648.2,67.6 L648.7,67.9 L649.2,68.2 L649.7,68.4 L650.2,68.7 L650.7,69.0 L651.2,69.2 L651.7,69.5 L652.2,69.8 L652.7,70.1 L653.2,70.4 L653.7,70.8 L654.2,71.1 L654.7,71.5 L655.2,71.8 L655.7,72.2 L656.2,72.5 L656.7,72.9 L657.2,73.3 L657.7,73.7 L658.2,74.1 L658.7,74.5 L659.2,74.9 L659.7,75.3 L660.2,75.8 L660.7,76.2 L661.2,76.6 L661.7,77.1 L662.2,77.6 L662.7,78.1 L663.2,78.6 L663.7,79.1 L664.2,79.6 L664.7,80.2 L665.2,80.8 L665.7,81.4 L666.2,82.0 L666.7,82.8 L667.2,83.6 L667.7,84.5 L668.2,85.3 L668.7,86.2 L669.2,87.1 L669.7,87.9 L670.2,88.7 L670.7,89.6 L671.2,90.4 L671.7,91.2 L672.2,92.0 L672.7,92.9" stroke-width="0.95"/>
<circle cx="603.6" cy="81.8" r="1.75" stroke-width="0.75"/>
<circle cx="611.4" cy="77.0" r="1.75" stroke-width="0.75"/>
<circle cx="619.2" cy="68.9" r="1.75" stroke-width="0.75"/>
<circle cx="627.0" cy="65.5" r="1.75" stroke-width="0.75"/>
<circle cx="634.8" cy="64.5" r="1.75" stroke-width="0.75"/>
<circle cx="642.6" cy="65.5" r="1.75" stroke-width="0.75"/>
<circle cx="650.4" cy="68.8" r="1.75" stroke-width="0.75"/>
<circle cx="658.2" cy="74.1" r="1.75" stroke-width="0.75"/>
<circle cx="666.0" cy="85.4" r="1.75" stroke-width="0.75"/>
<path d="M619.2,93.2 L619.7,93.0 L620.2,92.7 L620.7,92.5 L621.2,92.2 L621.7,92.0 L622.2,91.7 L622.7,91.5 L623.2,91.2 L623.7,91.0 L624.2,90.7 L624.7,90.5 L625.2,90.2 L625.7,90.0 L626.2,89.7 L626.7,89.5 L627.2,89.2 L627.7,89.0 L628.2,88.7 L628.7,88.5 L629.2,88.2 L629.7,88.0 L630.2,87.7 L630.7,87.5 L631.2,87.2 L631.7,86.9 L632.2,86.7 L632.7,86.4 L633.2,86.2 L633.7,85.9 L634.2,85.7 L634.7,85.4 L635.2,85.2 L635.7,85.0 L636.2,84.7 L636.7,84.5 L637.2,84.3 L637.7,84.0 L638.2,83.8 L638.7,83.6 L639.2,83.3 L639.7,83.1 L640.2,82.9 L640.7,82.6 L641.2,82.4 L641.7,82.2 L642.2,82.0 L642.7,81.8 L643.2,81.5 L643.7,81.3 L644.2,81.1 L644.7,80.9 L645.2,80.8 L645.7,80.6 L646.2,80.4 L646.7,80.2 L647.2,80.0 L647.7,79.8 L648.2,79.6 L648.7,79.4 L649.2,79.2 L649.7,78.9 L650.2,78.7 L650.7,78.4 L651.2,78.2 L651.7,77.9 L652.2,77.6 L652.7,77.3 L653.2,77.0 L653.7,76.6 L654.2,76.3 L654.7,76.0 L655.2,75.6 L655.7,75.3 L656.2,75.0 L656.7,74.6 L657.2,74.3 L657.7,74.0 L658.2,73.7 L658.7,73.4 L659.2,73.1 L659.7,72.8 L660.2,72.5 L660.7,72.2 L661.2,71.9 L661.7,71.6 L662.2,71.4 L662.7,71.1 L663.2,70.8 L663.7,70.5 L664.2,70.2 L664.7,70.0 L665.2,69.7 L665.7,69.5 L666.2,69.2 L666.7,69.0 L667.2,68.7 L667.7,68.5 L668.2,68.2 L668.7,68.0 L669.2,67.8 L669.7,67.5 L670.2,67.3 L670.7,67.1 L671.2,66.9 L671.7,66.7 L672.2,66.5 L672.7,66.2 L673.2,66.0 L673.7,65.8 L674.2,65.6 L674.7,65.4 L675.2,65.2 L675.7,65.1 L676.2,64.9 L676.7,64.7 L677.2,64.5 L677.7,64.3 L678.2,64.1 L678.7,63.9 L679.2,63.8 L679.7,63.6 L680.2,63.4 L680.7,63.3 L681.2,63.1 L681.7,63.0 L682.2,62.8 L682.7,62.7 L683.2,62.6 L683.7,62.4 L684.2,62.3 L684.7,62.2 L685.2,62.1" stroke-width="0.95"/>
<circle cx="634.8" cy="85.4" r="1.75" stroke-width="0.75"/>
<circle cx="642.6" cy="81.8" r="1.75" stroke-width="0.75"/>
<circle cx="650.4" cy="78.6" r="1.75" stroke-width="0.75"/>
<circle cx="658.2" cy="73.7" r="1.75" stroke-width="0.75"/>
<circle cx="666.0" cy="69.3" r="1.75" stroke-width="0.75"/>
<circle cx="673.8" cy="65.8" r="1.75" stroke-width="0.75"/>
<circle cx="681.6" cy="63.0" r="1.75" stroke-width="0.75"/>
<path d="M640.0,93.2 L640.5,92.5 L641.0,91.8 L641.5,91.1 L642.0,90.5 L642.5,89.8 L643.0,89.1 L643.5,88.4 L644.0,87.7 L644.5,87.0 L645.0,86.4 L645.5,85.7 L646.0,84.9 L646.5,84.2 L647.0,83.5 L647.5,82.8 L648.0,82.1 L648.5,81.4 L649.0,80.8 L649.5,80.1 L650.0,79.5 L650.5,78.9 L651.0,78.3 L651.5,77.7 L652.0,77.1 L652.5,76.5 L653.0,75.9 L653.5,75.4 L654.0,74.8 L654.5,74.3 L655.0,73.7 L655.5,73.2 L656.0,72.7 L656.5,72.2 L657.0,71.7 L657.5,71.3 L658.0,70.8 L658.5,70.4 L659.0,70.0 L659.5,69.5 L660.0,69.1 L660.5,68.7 L661.0,68.3 L661.5,67.9 L662.0,67.6 L662.5,67.2 L663.0,66.8 L663.5,66.5 L664.0,66.2 L664.5,65.9 L665.0,65.6 L665.5,65.3 L666.0,65.1 L666.5,64.9 L667.0,64.7 L667.5,64.5 L668.0,64.3 L668.5,64.1 L669.0,63.9 L669.5,63.7 L670.0,63.6 L670.5,63.4 L671.0,63.2 L671.5,63.1 L672.0,63.0 L672.5,62.8 L673.0,62.7 L673.5,62.6 L674.0,62.4 L674.5,62.3 L675.0,62.2 L675.5,62.1 L676.0,62.0 L676.5,61.9 L677.0,61.8 L677.5,61.7 L678.0,61.6 L678.5,61.5 L679.0,61.4 L679.5,61.3 L680.0,61.2 L680.5,61.2 L681.0,61.1 L681.5,61.0 L682.0,60.9 L682.5,60.9 L683.0,60.8 L683.5,60.7 L684.0,60.7 L684.5,60.6 L685.0,60.6 L685.5,60.5" stroke-width="0.95"/>
<circle cx="650.4" cy="79.0" r="1.75" stroke-width="0.75"/>
<circle cx="658.2" cy="70.7" r="1.75" stroke-width="0.75"/>
<circle cx="666.0" cy="65.1" r="1.75" stroke-width="0.75"/>
<circle cx="673.8" cy="62.5" r="1.75" stroke-width="0.75"/>
<circle cx="681.6" cy="61.0" r="1.75" stroke-width="0.75"/>
<path d="M664.4,93.2 L664.9,92.8 L665.4,92.3 L665.9,91.9 L666.4,91.5 L666.9,91.0 L667.4,90.6 L667.9,90.1 L668.4,89.7 L668.9,89.3 L669.4,88.8 L669.9,88.4 L670.4,88.0 L670.9,87.5 L671.4,87.1 L671.9,86.7 L672.4,86.2 L672.9,85.9 L673.4,85.5 L673.9,85.1 L674.4,84.7 L674.9,84.2 L675.4,83.8 L675.9,83.3 L676.4,82.8 L676.9,82.3 L677.4,81.6 L677.9,80.9 L678.4,80.1 L678.9,79.3 L679.4,78.5 L679.9,77.6 L680.4,76.7 L680.9,75.9 L681.4,75.1 L681.9,74.3 L682.4,73.6 L682.9,72.9 L683.4,72.2 L683.9,71.6 L684.4,70.9 L684.9,70.2 L685.4,69.5" stroke-width="0.95"/>
<circle cx="673.8" cy="85.2" r="1.75" stroke-width="0.75"/>
<circle cx="681.6" cy="74.8" r="1.75" stroke-width="0.75"/>
</g>
<rect x="412.5" y="5.0" width="273.0" height="82.3" fill="none" stroke="#686868" stroke-width="1"/>
<line x1="451.50" y1="87.3" x2="451.50" y2="84.3" stroke="#2a2a2a" stroke-width="0.8"/>
<line x1="451.50" y1="5.0" x2="451.50" y2="8.0" stroke="#2a2a2a" stroke-width="0.8"/>
<text transform="translate(451.00,108.50) scale(0.97,1.06)" font-family="Liberation Serif, Times New Roman, serif" font-size="16.5" text-anchor="middle" fill="#262626">1</text>
<line x1="549.00" y1="87.3" x2="549.00" y2="84.3" stroke="#2a2a2a" stroke-width="0.8"/>
<line x1="549.00" y1="5.0" x2="549.00" y2="8.0" stroke="#2a2a2a" stroke-width="0.8"/>
<text transform="translate(548.50,108.50) scale(0.97,1.06)" font-family="Liberation Serif, Times New Roman, serif" font-size="16.5" text-anchor="middle" fill="#262626">1.5</text>
<line x1="646.50" y1="87.3" x2="646.50" y2="84.3" stroke="#2a2a2a" stroke-width="0.8"/>
<line x1="646.50" y1="5.0" x2="646.50" y2="8.0" stroke="#2a2a2a" stroke-width="0.8"/>
<text transform="translate(646.00,108.50) scale(0.97,1.06)" font-family="Liberation Serif, Times New Roman, serif" font-size="16.5" text-anchor="middle" fill="#262626">2</text>
<text transform="translate(406.80,10.90) scale(0.97,1.06)" font-family="Liberation Serif, Times New Roman, serif" font-size="16.5" text-anchor="end" fill="#262626">0</text>
<line x1="412.5" y1="46.15" x2="415.3" y2="46.15" stroke="#2a2a2a" stroke-width="0.8"/>
<line x1="685.5" y1="46.15" x2="682.7" y2="46.15" stroke="#2a2a2a" stroke-width="0.8"/>
<text transform="translate(406.80,52.05) scale(0.97,1.06)" font-family="Liberation Serif, Times New Roman, serif" font-size="16.5" text-anchor="end" fill="#262626">-5</text>
<text transform="translate(406.80,93.20) scale(0.97,1.06)" font-family="Liberation Serif, Times New Roman, serif" font-size="16.5" text-anchor="end" fill="#262626">-10</text>
<text transform="translate(548.00,128.90) scale(0.995,1.06)" font-family="Liberation Serif, Times New Roman, serif" font-size="17.6" text-anchor="middle" fill="#262626">Frequency [GHz]</text>
<text transform="translate(371.20,77.80) rotate(-90) scale(1.0,1)" font-family="Liberation Serif, Times New Roman, serif" font-size="17.5" fill="#262626" text-anchor="middle">|</text>
<text transform="translate(371.50,76.30) rotate(-90) scale(1.0,1)" font-family="Liberation Serif, Times New Roman, serif" font-size="20" fill="#262626" font-style="italic">S</text>
<text transform="translate(379.90,66.20) rotate(-90) scale(1.0,1)" font-family="Liberation Serif, Times New Roman, serif" font-size="14" fill="#262626" >21</text>
<text transform="translate(371.20,49.65) rotate(-90) scale(1.0,1)" font-family="Liberation Serif, Times New Roman, serif" font-size="17.5" fill="#262626" text-anchor="middle">|</text>
<text transform="translate(371.40,42.90) rotate(-90) scale(0.92,1)" font-family="Liberation Serif, Times New Roman, serif" font-size="18.5" fill="#262626" >[dB]</text>
<line x1="93.41" y1="147.4" x2="93.41" y2="230.5" stroke="#dcdcdc" stroke-width="0.6"/>
<line x1="190.45" y1="147.4" x2="190.45" y2="230.5" stroke="#dcdcdc" stroke-width="0.6"/>
<line x1="287.49" y1="147.4" x2="287.49" y2="230.5" stroke="#dcdcdc" stroke-width="0.6"/>
<line x1="54.6" y1="188.95" x2="326.3" y2="188.95" stroke="#dcdcdc" stroke-width="0.6"/>
<g clip-path="url(#c3)" fill="none" stroke="#000">
<path d="M54.6,168.5 L55.1,168.3 L55.6,168.2 L56.1,168.0 L56.6,167.9 L57.1,167.7 L57.6,167.6 L58.1,167.4 L58.6,167.3 L59.1,167.1 L59.6,166.9 L60.1,166.8 L60.6,166.6 L61.1,166.4 L61.6,166.2 L62.1,166.0 L62.6,165.8 L63.1,165.7 L63.6,165.5 L64.1,165.3 L64.6,165.2 L65.1,165.1 L65.6,164.9 L66.1,164.8 L66.6,164.7 L67.1,164.6 L67.6,164.6 L68.1,164.5 L68.6,164.4 L69.1,164.3 L69.6,164.3 L70.1,164.2 L70.6,164.2 L71.1,164.1 L71.6,164.0 L72.1,164.0 L72.6,163.9 L73.1,163.9 L73.6,163.8 L74.1,163.8 L74.6,163.7 L75.1,163.7 L75.6,163.6 L76.1,163.6 L76.6,163.5 L77.1,163.5 L77.6,163.4 L78.1,163.4 L78.6,163.3 L79.1,163.3 L79.6,163.3 L80.1,163.2 L80.6,163.2 L81.1,163.2 L81.6,163.2 L82.1,163.2 L82.6,163.2 L83.1,163.2 L83.6,163.2 L84.1,163.3 L84.6,163.3 L85.1,163.3 L85.6,163.3 L86.1,163.4 L86.6,163.4 L87.1,163.4 L87.6,163.5 L88.1,163.5 L88.6,163.5 L89.1,163.5 L89.6,163.5 L90.1,163.5 L90.6,163.5 L91.1,163.4 L91.6,163.3 L92.1,163.3 L92.6,163.2 L93.1,163.1 L93.6,163.0 L94.1,162.9 L94.6,162.8 L95.1,162.7 L95.6,162.5 L96.1,162.4 L96.6,162.3 L97.1,162.2 L97.6,162.1 L98.1,162.0 L98.6,161.9 L99.1,161.8 L99.6,161.7 L100.1,161.6 L100.6,161.5 L101.1,161.4 L101.6,161.3 L102.1,161.2 L102.6,161.1 L103.1,161.0 L103.6,160.9 L104.1,160.8 L104.6,160.7 L105.1,160.7 L105.6,160.6 L106.1,160.6 L106.6,160.6 L107.1,160.5 L107.6,160.5 L108.1,160.4 L108.6,160.4 L109.1,160.3 L109.6,160.3 L110.1,160.3 L110.6,160.3 L111.1,160.2 L111.6,160.2 L112.1,160.2 L112.6,160.2 L113.1,160.2 L113.6,160.2 L114.1,160.2 L114.6,160.2 L115.1,160.2 L115.6,160.2 L116.1,160.2 L116.6,160.2 L117.1,160.2 L117.6,160.2 L118.1,160.2 L118.6,160.2 L119.1,160.2 L119.6,160.2 L120.1,160.2 L120.6,160.2 L121.1,160.2 L121.6,160.2 L122.1,160.2 L122.6,160.2 L123.1,160.1 L123.6,160.1 L124.1,160.1 L124.6,160.0 L125.1,160.0 L125.6,160.0 L126.1,159.9 L126.6,159.9 L127.1,159.8 L127.6,159.8 L128.1,159.7 L128.6,159.7 L129.1,159.6 L129.6,159.5 L130.1,159.4 L130.6,159.3 L131.1,159.2 L131.6,159.1 L132.1,159.0 L132.6,158.9 L133.1,158.8 L133.6,158.7 L134.1,158.6 L134.6,158.5 L135.1,158.4 L135.6,158.3 L136.1,158.2 L136.6,158.1 L137.1,158.1 L137.6,158.0 L138.1,157.9 L138.6,157.9 L139.1,157.8 L139.6,157.7 L140.1,157.7 L140.6,157.6 L141.1,157.5 L141.6,157.5 L142.1,157.5 L142.6,157.4 L143.1,157.4 L143.6,157.4 L144.1,157.4 L144.6,157.4 L145.1,157.4 L145.6,157.4 L146.1,157.4 L146.6,157.4 L147.1,157.4 L147.6,157.4 L148.1,157.4 L148.6,157.4 L149.1,157.4 L149.6,157.4 L150.1,157.4 L150.6,157.4 L151.1,157.4 L151.6,157.4 L152.1,157.4 L152.6,157.4 L153.1,157.4 L153.6,157.4 L154.1,157.4 L154.6,157.4 L155.1,157.4 L155.6,157.4 L156.1,157.4 L156.6,157.4 L157.1,157.4 L157.6,157.4 L158.1,157.4 L158.6,157.4 L159.1,157.4 L159.6,157.4 L160.1,157.4 L160.6,157.4 L161.1,157.4 L161.6,157.4 L162.1,157.4 L162.6,157.4 L163.1,157.4 L163.6,157.4 L164.1,157.4 L164.6,157.4 L165.1,157.4 L165.6,157.4 L166.1,157.4 L166.6,157.4 L167.1,157.4 L167.6,157.4 L168.1,157.4 L168.6,157.4 L169.1,157.4 L169.6,157.4 L170.1,157.5 L170.6,157.5 L171.1,157.5 L171.6,157.5 L172.1,157.5 L172.6,157.6 L173.1,157.6 L173.6,157.6 L174.1,157.7 L174.6,157.7 L175.1,157.7 L175.6,157.7 L176.1,157.8 L176.6,157.8 L177.1,157.9 L177.6,158.0 L178.1,158.0 L178.6,158.1 L179.1,158.1 L179.6,158.2 L180.1,158.2 L180.6,158.3 L181.1,158.3 L181.6,158.4 L182.1,158.4 L182.6,158.4 L183.1,158.4 L183.6,158.4 L184.1,158.4 L184.6,158.4 L185.1,158.4 L185.6,158.4 L186.1,158.3 L186.6,158.3 L187.1,158.3 L187.6,158.3 L188.1,158.3 L188.6,158.3 L189.1,158.2 L189.6,158.2 L190.1,158.2 L190.6,158.2 L191.1,158.2 L191.6,158.1 L192.1,158.1 L192.6,158.1 L193.1,158.0 L193.6,158.0 L194.1,157.9 L194.6,157.9 L195.1,157.8 L195.6,157.8 L196.1,157.8 L196.6,157.7 L197.1,157.7 L197.6,157.7 L198.1,157.7 L198.6,157.7 L199.1,157.7 L199.6,157.7 L200.1,157.7 L200.6,157.7 L201.1,157.7 L201.6,157.7 L202.1,157.7 L202.6,157.7 L203.1,157.7 L203.6,157.7 L204.1,157.7 L204.6,157.7 L205.1,157.7 L205.6,157.7 L206.1,157.7 L206.6,157.7 L207.1,157.7 L207.6,157.7 L208.1,157.6 L208.6,157.6 L209.1,157.6 L209.6,157.6 L210.1,157.5 L210.6,157.5 L211.1,157.5 L211.6,157.5 L212.1,157.4 L212.6,157.4 L213.1,157.4 L213.6,157.4 L214.1,157.4 L214.6,157.4 L215.1,157.5 L215.6,157.5 L216.1,157.6 L216.6,157.7 L217.1,157.8 L217.6,157.9 L218.1,158.0 L218.6,158.1 L219.1,158.2 L219.6,158.4 L220.1,158.5 L220.6,158.6 L221.1,158.6 L221.6,158.7 L222.1,158.8 L222.6,158.9 L223.1,158.9 L223.6,159.0 L224.1,159.1 L224.6,159.2 L225.1,159.2 L225.6,159.3 L226.1,159.4 L226.6,159.4 L227.1,159.5 L227.6,159.5 L228.1,159.6 L228.6,159.6 L229.1,159.6 L229.6,159.6 L230.1,159.6 L230.6,159.6 L231.1,159.6 L231.6,159.6 L232.1,159.5 L232.6,159.5 L233.1,159.5 L233.6,159.5 L234.1,159.4 L234.6,159.4 L235.1,159.4 L235.6,159.3 L236.1,159.3 L236.6,159.2 L237.1,159.2 L237.6,159.1 L238.1,159.1 L238.6,159.0 L239.1,158.9 L239.6,158.8 L240.1,158.6 L240.6,158.5 L241.1,158.4 L241.6,158.2 L242.1,158.1 L242.6,158.0 L243.1,157.9 L243.6,157.8 L244.1,157.7 L244.6,157.6 L245.1,157.6 L245.6,157.5 L246.1,157.5 L246.6,157.4 L247.1,157.4 L247.6,157.4 L248.1,157.3 L248.6,157.3 L249.1,157.3 L249.6,157.2 L250.1,157.2 L250.6,157.2 L251.1,157.2 L251.6,157.1 L252.1,157.1 L252.6,157.1 L253.1,157.1 L253.6,157.1 L254.1,157.0 L254.6,157.0 L255.1,157.0 L255.6,157.0 L256.1,157.0 L256.6,157.0 L257.1,156.9 L257.6,156.9 L258.1,156.9 L258.6,156.9 L259.1,156.9 L259.6,156.9 L260.1,156.9 L260.6,156.9 L261.1,156.9 L261.6,156.9 L262.1,157.0 L262.6,157.0 L263.1,157.0 L263.6,157.1 L264.1,157.1 L264.6,157.2 L265.1,157.2 L265.6,157.3 L266.1,157.4 L266.6,157.4 L267.1,157.5 L267.6,157.5 L268.1,157.6 L268.6,157.7 L269.1,157.7 L269.6,157.8 L270.1,157.9 L270.6,158.0 L271.1,158.1 L271.6,158.2 L272.1,158.3 L272.6,158.4 L273.1,158.5 L273.6,158.6 L274.1,158.7 L274.6,158.7 L275.1,158.8 L275.6,158.8 L276.1,158.8 L276.6,158.8 L277.1,158.8 L277.6,158.8 L278.1,158.8 L278.6,158.7 L279.1,158.7 L279.6,158.7 L280.1,158.6 L280.6,158.6 L281.1,158.6 L281.6,158.5 L282.1,158.5 L282.6,158.5 L283.1,158.4 L283.6,158.4 L284.1,158.4 L284.6,158.3 L285.1,158.3 L285.6,158.2 L286.1,158.2 L286.6,158.1 L287.1,158.1 L287.6,158.0 L288.1,157.9 L288.6,157.9 L289.1,157.8 L289.6,157.8 L290.1,157.7 L290.6,157.7 L291.1,157.6 L291.6,157.6 L292.1,157.5 L292.6,157.5 L293.1,157.5 L293.6,157.4 L294.1,157.4 L294.6,157.3 L295.1,157.3 L295.6,157.3 L296.1,157.2 L296.6,157.2 L297.1,157.2 L297.6,157.1 L298.1,157.1 L298.6,157.0 L299.1,157.0 L299.6,157.0 L300.1,156.9 L300.6,156.9 L301.1,156.8 L301.6,156.8 L302.1,156.7 L302.6,156.7 L303.1,156.6 L303.6,156.6 L304.1,156.5 L304.6,156.5 L305.1,156.4 L305.6,156.4 L306.1,156.4 L306.6,156.4 L307.1,156.3 L307.6,156.3 L308.1,156.3 L308.6,156.3 L309.1,156.3 L309.6,156.3 L310.1,156.3 L310.6,156.2 L311.1,156.2 L311.6,156.2 L312.1,156.2 L312.6,156.2 L313.1,156.2 L313.6,156.2 L314.1,156.2 L314.6,156.2 L315.1,156.2 L315.6,156.2 L316.1,156.2 L316.6,156.2 L317.1,156.2 L317.6,156.2 L318.1,156.2 L318.6,156.2 L319.1,156.2 L319.6,156.2 L320.1,156.2 L320.6,156.2 L321.1,156.2 L321.6,156.2 L322.1,156.2 L322.6,156.2 L323.1,156.2 L323.6,156.2 L324.1,156.2 L324.6,156.2 L325.1,156.2 L325.6,156.2 L326.1,156.2" stroke-width="0.95"/>
<circle cx="58.5" cy="167.3" r="1.75" stroke-width="0.75"/>
<circle cx="66.2" cy="164.8" r="1.75" stroke-width="0.75"/>
<circle cx="74.0" cy="163.8" r="1.75" stroke-width="0.75"/>
<circle cx="81.8" cy="163.2" r="1.75" stroke-width="0.75"/>
<circle cx="89.5" cy="163.5" r="1.75" stroke-width="0.75"/>
<circle cx="97.3" cy="162.2" r="1.75" stroke-width="0.75"/>
<circle cx="105.1" cy="160.7" r="1.75" stroke-width="0.75"/>
<circle cx="112.8" cy="160.2" r="1.75" stroke-width="0.75"/>
<circle cx="120.6" cy="160.2" r="1.75" stroke-width="0.75"/>
<circle cx="128.3" cy="159.7" r="1.75" stroke-width="0.75"/>
<circle cx="136.1" cy="158.2" r="1.75" stroke-width="0.75"/>
<circle cx="143.9" cy="157.4" r="1.75" stroke-width="0.75"/>
<circle cx="151.6" cy="157.4" r="1.75" stroke-width="0.75"/>
<circle cx="159.4" cy="157.4" r="1.75" stroke-width="0.75"/>
<circle cx="167.2" cy="157.4" r="1.75" stroke-width="0.75"/>
<circle cx="174.9" cy="157.7" r="1.75" stroke-width="0.75"/>
<circle cx="182.7" cy="158.4" r="1.75" stroke-width="0.75"/>
<circle cx="190.5" cy="158.2" r="1.75" stroke-width="0.75"/>
<circle cx="198.2" cy="157.7" r="1.75" stroke-width="0.75"/>
<circle cx="206.0" cy="157.7" r="1.75" stroke-width="0.75"/>
<circle cx="213.7" cy="157.4" r="1.75" stroke-width="0.75"/>
<circle cx="221.5" cy="158.7" r="1.75" stroke-width="0.75"/>
<circle cx="229.3" cy="159.6" r="1.75" stroke-width="0.75"/>
<circle cx="237.0" cy="159.2" r="1.75" stroke-width="0.75"/>
<circle cx="244.8" cy="157.6" r="1.75" stroke-width="0.75"/>
<circle cx="252.6" cy="157.1" r="1.75" stroke-width="0.75"/>
<circle cx="260.3" cy="156.9" r="1.75" stroke-width="0.75"/>
<circle cx="268.1" cy="157.6" r="1.75" stroke-width="0.75"/>
<circle cx="275.8" cy="158.8" r="1.75" stroke-width="0.75"/>
<circle cx="283.6" cy="158.4" r="1.75" stroke-width="0.75"/>
<circle cx="291.4" cy="157.6" r="1.75" stroke-width="0.75"/>
<circle cx="299.1" cy="157.0" r="1.75" stroke-width="0.75"/>
<circle cx="306.9" cy="156.3" r="1.75" stroke-width="0.75"/>
<circle cx="314.7" cy="156.2" r="1.75" stroke-width="0.75"/>
<circle cx="322.4" cy="156.2" r="1.75" stroke-width="0.75"/>
<path d="M54.6,162.3 L55.1,162.6 L55.6,162.8 L56.1,163.0 L56.6,163.2 L57.1,163.4 L57.6,163.5 L58.1,163.7 L58.6,163.8 L59.1,163.9 L59.6,164.0 L60.1,164.0 L60.6,164.1 L61.1,164.2 L61.6,164.3 L62.1,164.3 L62.6,164.4 L63.1,164.4 L63.6,164.5 L64.1,164.5 L64.6,164.6 L65.1,164.7 L65.6,164.7 L66.1,164.8 L66.6,164.8 L67.1,164.9 L67.6,165.0 L68.1,165.1 L68.6,165.2 L69.1,165.3 L69.6,165.3 L70.1,165.4 L70.6,165.5 L71.1,165.6 L71.6,165.6 L72.1,165.7 L72.6,165.7 L73.1,165.8 L73.6,165.8 L74.1,165.8 L74.6,165.8 L75.1,165.8 L75.6,165.7 L76.1,165.7 L76.6,165.7 L77.1,165.6 L77.6,165.6 L78.1,165.5 L78.6,165.5 L79.1,165.4 L79.6,165.4 L80.1,165.4 L80.6,165.3 L81.1,165.3 L81.6,165.3 L82.1,165.3 L82.6,165.3 L83.1,165.3 L83.6,165.3 L84.1,165.3 L84.6,165.3 L85.1,165.3 L85.6,165.3 L86.1,165.3 L86.6,165.3 L87.1,165.3 L87.6,165.3 L88.1,165.3 L88.6,165.3 L89.1,165.3 L89.6,165.3 L90.1,165.3 L90.6,165.3 L91.1,165.2 L91.6,165.2 L92.1,165.1 L92.6,165.1 L93.1,165.0 L93.6,164.9 L94.1,164.8 L94.6,164.8 L95.1,164.7 L95.6,164.6 L96.1,164.5 L96.6,164.4 L97.1,164.3 L97.6,164.3 L98.1,164.2 L98.6,164.1 L99.1,164.0 L99.6,163.9 L100.1,163.7 L100.6,163.6 L101.1,163.5 L101.6,163.4 L102.1,163.3 L102.6,163.2 L103.1,163.1 L103.6,163.0 L104.1,162.9 L104.6,162.9 L105.1,162.8 L105.6,162.7 L106.1,162.7 L106.6,162.7 L107.1,162.6 L107.6,162.6 L108.1,162.5 L108.6,162.5 L109.1,162.4 L109.6,162.4 L110.1,162.4 L110.6,162.4 L111.1,162.3 L111.6,162.3 L112.1,162.3 L112.6,162.3 L113.1,162.3 L113.6,162.3 L114.1,162.3 L114.6,162.3 L115.1,162.4 L115.6,162.4 L116.1,162.4 L116.6,162.4 L117.1,162.5 L117.6,162.5 L118.1,162.5 L118.6,162.6 L119.1,162.6 L119.6,162.6 L120.1,162.6 L120.6,162.6 L121.1,162.6 L121.6,162.6 L122.1,162.6 L122.6,162.6 L123.1,162.6 L123.6,162.6 L124.1,162.6 L124.6,162.6 L125.1,162.6 L125.6,162.6 L126.1,162.6 L126.6,162.6 L127.1,162.6 L127.6,162.6 L128.1,162.6 L128.6,162.6 L129.1,162.6 L129.6,162.6 L130.1,162.5 L130.6,162.5 L131.1,162.5 L131.6,162.4 L132.1,162.4 L132.6,162.4 L133.1,162.3 L133.6,162.3 L134.1,162.3 L134.6,162.2 L135.1,162.2 L135.6,162.2 L136.1,162.2 L136.6,162.2 L137.1,162.2 L137.6,162.2 L138.1,162.2 L138.6,162.2 L139.1,162.2 L139.6,162.2 L140.1,162.2 L140.6,162.2 L141.1,162.2 L141.6,162.2 L142.1,162.2 L142.6,162.2 L143.1,162.2 L143.6,162.2 L144.1,162.2 L144.6,162.2 L145.1,162.2 L145.6,162.2 L146.1,162.2 L146.6,162.2 L147.1,162.2 L147.6,162.2 L148.1,162.2 L148.6,162.2 L149.1,162.2 L149.6,162.2 L150.1,162.2 L150.6,162.2 L151.1,162.2 L151.6,162.2 L152.1,162.2 L152.6,162.2 L153.1,162.2 L153.6,162.2 L154.1,162.2 L154.6,162.2 L155.1,162.2 L155.6,162.2 L156.1,162.2 L156.6,162.2 L157.1,162.2 L157.6,162.2 L158.1,162.2 L158.6,162.2 L159.1,162.2 L159.6,162.2 L160.1,162.2 L160.6,162.2 L161.1,162.2 L161.6,162.1 L162.1,162.1 L162.6,162.0 L163.1,162.0 L163.6,162.0 L164.1,161.9 L164.6,161.9 L165.1,161.8 L165.6,161.8 L166.1,161.7 L166.6,161.7 L167.1,161.6 L167.6,161.6 L168.1,161.5 L168.6,161.5 L169.1,161.4 L169.6,161.3 L170.1,161.3 L170.6,161.2 L171.1,161.2 L171.6,161.1 L172.1,161.0 L172.6,161.0 L173.1,160.9 L173.6,160.9 L174.1,160.9 L174.6,160.8 L175.1,160.8 L175.6,160.8 L176.1,160.7 L176.6,160.7 L177.1,160.7 L177.6,160.7 L178.1,160.6 L178.6,160.6 L179.1,160.6 L179.6,160.6 L180.1,160.5 L180.6,160.5 L181.1,160.5 L181.6,160.5 L182.1,160.5 L182.6,160.5 L183.1,160.5 L183.6,160.5 L184.1,160.5 L184.6,160.5 L185.1,160.5 L185.6,160.5 L186.1,160.5 L186.6,160.5 L187.1,160.5 L187.6,160.5 L188.1,160.5 L188.6,160.5 L189.1,160.5 L189.6,160.5 L190.1,160.5 L190.6,160.5 L191.1,160.5 L191.6,160.5 L192.1,160.5 L192.6,160.5 L193.1,160.4 L193.6,160.4 L194.1,160.4 L194.6,160.4 L195.1,160.4 L195.6,160.4 L196.1,160.3 L196.6,160.3 L197.1,160.3 L197.6,160.3 L198.1,160.3 L198.6,160.3 L199.1,160.3 L199.6,160.3 L200.1,160.3 L200.6,160.3 L201.1,160.3 L201.6,160.3 L202.1,160.3 L202.6,160.3 L203.1,160.3 L203.6,160.3 L204.1,160.3 L204.6,160.3 L205.1,160.3 L205.6,160.3 L206.1,160.3 L206.6,160.3 L207.1,160.3 L207.6,160.3 L208.1,160.3 L208.6,160.3 L209.1,160.3 L209.6,160.4 L210.1,160.4 L210.6,160.4 L211.1,160.4 L211.6,160.4 L212.1,160.4 L212.6,160.5 L213.1,160.5 L213.6,160.5 L214.1,160.5 L214.6,160.5 L215.1,160.6 L215.6,160.6 L216.1,160.7 L216.6,160.7 L217.1,160.7 L217.6,160.8 L218.1,160.8 L218.6,160.9 L219.1,161.0 L219.6,161.0 L220.1,161.1 L220.6,161.1 L221.1,161.2 L221.6,161.2 L222.1,161.3 L222.6,161.3 L223.1,161.4 L223.6,161.5 L224.1,161.5 L224.6,161.6 L225.1,161.7 L225.6,161.7 L226.1,161.8 L226.6,161.8 L227.1,161.9 L227.6,161.9 L228.1,162.0 L228.6,162.0 L229.1,162.0 L229.6,162.0 L230.1,162.0 L230.6,162.0 L231.1,161.9 L231.6,161.9 L232.1,161.9 L232.6,161.8 L233.1,161.8 L233.6,161.8 L234.1,161.7 L234.6,161.7 L235.1,161.6 L235.6,161.6 L236.1,161.6 L236.6,161.5 L237.1,161.5 L237.6,161.5 L238.1,161.4 L238.6,161.4 L239.1,161.4 L239.6,161.4 L240.1,161.3 L240.6,161.3 L241.1,161.3 L241.6,161.3 L242.1,161.3 L242.6,161.2 L243.1,161.2 L243.6,161.2 L244.1,161.2 L244.6,161.2 L245.1,161.2 L245.6,161.2 L246.1,161.3 L246.6,161.3 L247.1,161.4 L247.6,161.4 L248.1,161.5 L248.6,161.6 L249.1,161.7 L249.6,161.8 L250.1,161.9 L250.6,161.9 L251.1,162.0 L251.6,162.1 L252.1,162.2 L252.6,162.2 L253.1,162.2 L253.6,162.3 L254.1,162.3 L254.6,162.4 L255.1,162.4 L255.6,162.4 L256.1,162.5 L256.6,162.5 L257.1,162.5 L257.6,162.5 L258.1,162.6 L258.6,162.6 L259.1,162.6 L259.6,162.7 L260.1,162.7 L260.6,162.7 L261.1,162.8 L261.6,162.8 L262.1,162.8 L262.6,162.8 L263.1,162.9 L263.6,162.9 L264.1,162.9 L264.6,163.0 L265.1,163.0 L265.6,163.0 L266.1,163.1 L266.6,163.1 L267.1,163.1 L267.6,163.2 L268.1,163.2 L268.6,163.2 L269.1,163.3 L269.6,163.3 L270.1,163.4 L270.6,163.4 L271.1,163.5 L271.6,163.5 L272.1,163.6 L272.6,163.6 L273.1,163.6 L273.6,163.7 L274.1,163.7 L274.6,163.7 L275.1,163.7 L275.6,163.7 L276.1,163.8 L276.6,163.8 L277.1,163.8 L277.6,163.8 L278.1,163.8 L278.6,163.8 L279.1,163.8 L279.6,163.8 L280.1,163.8 L280.6,163.8 L281.1,163.8 L281.6,163.8 L282.1,163.8 L282.6,163.8 L283.1,163.8 L283.6,163.8 L284.1,163.7 L284.6,163.7 L285.1,163.6 L285.6,163.5 L286.1,163.3 L286.6,163.1 L287.1,162.9 L287.6,162.7 L288.1,162.5 L288.6,162.3 L289.1,162.0 L289.6,161.8 L290.1,161.6 L290.6,161.3 L291.1,161.1 L291.6,160.9 L292.1,160.7 L292.6,160.5 L293.1,160.2 L293.6,160.0 L294.1,159.7 L294.6,159.5 L295.1,159.2 L295.6,159.0 L296.1,158.7 L296.6,158.5 L297.1,158.3 L297.6,158.0 L298.1,157.8 L298.6,157.6 L299.1,157.4 L299.6,157.2 L300.1,157.1 L300.6,156.9 L301.1,156.8 L301.6,156.6 L302.1,156.5 L302.6,156.3 L303.1,156.2 L303.6,156.0 L304.1,155.9 L304.6,155.8 L305.1,155.6 L305.6,155.5 L306.1,155.3 L306.6,155.2 L307.1,155.0 L307.6,154.9 L308.1,154.7 L308.6,154.5 L309.1,154.4 L309.6,154.2 L310.1,154.0 L310.6,153.9 L311.1,153.7 L311.6,153.5 L312.1,153.3 L312.6,153.2 L313.1,153.0 L313.6,152.8 L314.1,152.6 L314.6,152.4 L315.1,152.2 L315.6,152.0 L316.1,151.9 L316.6,151.7 L317.1,151.5 L317.6,151.3 L318.1,151.1 L318.6,150.9 L319.1,150.7 L319.6,150.5 L320.1,150.3 L320.6,150.1 L321.1,149.9 L321.6,149.6 L322.1,149.4 L322.6,149.2 L323.1,149.0 L323.6,148.8 L324.1,148.6 L324.6,148.3 L325.1,148.1 L325.6,147.9 L326.1,147.6" stroke-width="0.95"/>
<circle cx="58.5" cy="163.8" r="1.75" stroke-width="0.75"/>
<circle cx="66.2" cy="164.8" r="1.75" stroke-width="0.75"/>
<circle cx="74.0" cy="165.8" r="1.75" stroke-width="0.75"/>
<circle cx="81.8" cy="165.3" r="1.75" stroke-width="0.75"/>
<circle cx="89.5" cy="165.3" r="1.75" stroke-width="0.75"/>
<circle cx="97.3" cy="164.3" r="1.75" stroke-width="0.75"/>
<circle cx="105.1" cy="162.8" r="1.75" stroke-width="0.75"/>
<circle cx="112.8" cy="162.3" r="1.75" stroke-width="0.75"/>
<circle cx="120.6" cy="162.6" r="1.75" stroke-width="0.75"/>
<circle cx="128.3" cy="162.6" r="1.75" stroke-width="0.75"/>
<circle cx="136.1" cy="162.2" r="1.75" stroke-width="0.75"/>
<circle cx="143.9" cy="162.2" r="1.75" stroke-width="0.75"/>
<circle cx="151.6" cy="162.2" r="1.75" stroke-width="0.75"/>
<circle cx="159.4" cy="162.2" r="1.75" stroke-width="0.75"/>
<circle cx="167.2" cy="161.6" r="1.75" stroke-width="0.75"/>
<circle cx="174.9" cy="160.8" r="1.75" stroke-width="0.75"/>
<circle cx="182.7" cy="160.5" r="1.75" stroke-width="0.75"/>
<circle cx="190.5" cy="160.5" r="1.75" stroke-width="0.75"/>
<circle cx="198.2" cy="160.3" r="1.75" stroke-width="0.75"/>
<circle cx="206.0" cy="160.3" r="1.75" stroke-width="0.75"/>
<circle cx="213.7" cy="160.5" r="1.75" stroke-width="0.75"/>
<circle cx="221.5" cy="161.2" r="1.75" stroke-width="0.75"/>
<circle cx="229.3" cy="162.0" r="1.75" stroke-width="0.75"/>
<circle cx="237.0" cy="161.5" r="1.75" stroke-width="0.75"/>
<circle cx="244.8" cy="161.2" r="1.75" stroke-width="0.75"/>
<circle cx="252.6" cy="162.2" r="1.75" stroke-width="0.75"/>
<circle cx="260.3" cy="162.7" r="1.75" stroke-width="0.75"/>
<circle cx="268.1" cy="163.2" r="1.75" stroke-width="0.75"/>
<circle cx="275.8" cy="163.8" r="1.75" stroke-width="0.75"/>
<circle cx="283.6" cy="163.8" r="1.75" stroke-width="0.75"/>
<circle cx="291.4" cy="161.0" r="1.75" stroke-width="0.75"/>
<circle cx="299.1" cy="157.4" r="1.75" stroke-width="0.75"/>
<circle cx="306.9" cy="155.1" r="1.75" stroke-width="0.75"/>
<circle cx="314.7" cy="152.4" r="1.75" stroke-width="0.75"/>
<circle cx="322.4" cy="149.3" r="1.75" stroke-width="0.75"/>
<path d="M54.6,179.1 L55.1,178.7 L55.6,178.3 L56.1,177.9 L56.6,177.5 L57.1,177.1 L57.6,176.7 L58.1,176.3 L58.6,175.9 L59.1,175.5 L59.6,175.1 L60.1,174.7 L60.6,174.3 L61.1,173.8 L61.6,173.4 L62.1,173.0 L62.6,172.6 L63.1,172.2 L63.6,171.8 L64.1,171.4 L64.6,171.0 L65.1,170.7 L65.6,170.3 L66.1,170.0 L66.6,169.7 L67.1,169.4 L67.6,169.1 L68.1,168.8 L68.6,168.5 L69.1,168.2 L69.6,167.9 L70.1,167.6 L70.6,167.4 L71.1,167.1 L71.6,166.8 L72.1,166.6 L72.6,166.4 L73.1,166.2 L73.6,166.0 L74.1,165.8 L74.6,165.6 L75.1,165.4 L75.6,165.2 L76.1,165.0 L76.6,164.8 L77.1,164.6 L77.6,164.4 L78.1,164.2 L78.6,164.0 L79.1,163.9 L79.6,163.8 L80.1,163.7 L80.6,163.6 L81.1,163.5 L81.6,163.5 L82.1,163.5 L82.6,163.5 L83.1,163.5 L83.6,163.5 L84.1,163.6 L84.6,163.6 L85.1,163.6 L85.6,163.7 L86.1,163.7 L86.6,163.8 L87.1,163.8 L87.6,163.9 L88.1,163.9 L88.6,163.9 L89.1,164.0 L89.6,164.0 L90.1,164.0 L90.6,164.1 L91.1,164.1 L91.6,164.1 L92.1,164.2 L92.6,164.2 L93.1,164.2 L93.6,164.3 L94.1,164.3 L94.6,164.3 L95.1,164.4 L95.6,164.4 L96.1,164.4 L96.6,164.5 L97.1,164.5 L97.6,164.5 L98.1,164.5 L98.6,164.6 L99.1,164.6 L99.6,164.6 L100.1,164.6 L100.6,164.7 L101.1,164.7 L101.6,164.7 L102.1,164.7 L102.6,164.8 L103.1,164.8 L103.6,164.8 L104.1,164.8 L104.6,164.8 L105.1,164.8 L105.6,164.8 L106.1,164.8 L106.6,164.8 L107.1,164.8 L107.6,164.7 L108.1,164.7 L108.6,164.7 L109.1,164.7 L109.6,164.6 L110.1,164.6 L110.6,164.5 L111.1,164.5 L111.6,164.5 L112.1,164.4 L112.6,164.4 L113.1,164.4 L113.6,164.4 L114.1,164.3 L114.6,164.3 L115.1,164.3 L115.6,164.2 L116.1,164.2 L116.6,164.2 L117.1,164.1 L117.6,164.1 L118.1,164.0 L118.6,164.0 L119.1,164.0 L119.6,163.9 L120.1,163.9 L120.6,163.8 L121.1,163.7 L121.6,163.7 L122.1,163.6 L122.6,163.4 L123.1,163.3 L123.6,163.2 L124.1,163.1 L124.6,163.0 L125.1,162.8 L125.6,162.7 L126.1,162.6 L126.6,162.5 L127.1,162.4 L127.6,162.3 L128.1,162.2 L128.6,162.2 L129.1,162.1 L129.6,162.1 L130.1,162.0 L130.6,162.0 L131.1,162.0 L131.6,161.9 L132.1,161.9 L132.6,161.9 L133.1,161.8 L133.6,161.8 L134.1,161.8 L134.6,161.7 L135.1,161.7 L135.6,161.7 L136.1,161.7 L136.6,161.7 L137.1,161.7 L137.6,161.7 L138.1,161.7 L138.6,161.7 L139.1,161.6 L139.6,161.6 L140.1,161.6 L140.6,161.6 L141.1,161.6 L141.6,161.6 L142.1,161.6 L142.6,161.6 L143.1,161.6 L143.6,161.6 L144.1,161.6 L144.6,161.6 L145.1,161.6 L145.6,161.6 L146.1,161.6 L146.6,161.6 L147.1,161.6 L147.6,161.6 L148.1,161.6 L148.6,161.6 L149.1,161.6 L149.6,161.6 L150.1,161.6 L150.6,161.6 L151.1,161.6 L151.6,161.6 L152.1,161.6 L152.6,161.6 L153.1,161.6 L153.6,161.6 L154.1,161.6 L154.6,161.6 L155.1,161.6 L155.6,161.6 L156.1,161.6 L156.6,161.6 L157.1,161.6 L157.6,161.6 L158.1,161.6 L158.6,161.6 L159.1,161.6 L159.6,161.6 L160.1,161.6 L160.6,161.6 L161.1,161.6 L161.6,161.6 L162.1,161.6 L162.6,161.6 L163.1,161.7 L163.6,161.7 L164.1,161.7 L164.6,161.7 L165.1,161.7 L165.6,161.7 L166.1,161.8 L166.6,161.8 L167.1,161.8 L167.6,161.8 L168.1,161.8 L168.6,161.9 L169.1,161.9 L169.6,162.0 L170.1,162.0 L170.6,162.1 L171.1,162.1 L171.6,162.2 L172.1,162.2 L172.6,162.2 L173.1,162.3 L173.6,162.3 L174.1,162.4 L174.6,162.4 L175.1,162.4 L175.6,162.4 L176.1,162.4 L176.6,162.5 L177.1,162.5 L177.6,162.5 L178.1,162.5 L178.6,162.5 L179.1,162.5 L179.6,162.6 L180.1,162.6 L180.6,162.6 L181.1,162.6 L181.6,162.6 L182.1,162.6 L182.6,162.6 L183.1,162.6 L183.6,162.6 L184.1,162.6 L184.6,162.6 L185.1,162.5 L185.6,162.5 L186.1,162.5 L186.6,162.5 L187.1,162.4 L187.6,162.4 L188.1,162.4 L188.6,162.4 L189.1,162.3 L189.6,162.3 L190.1,162.3 L190.6,162.3 L191.1,162.3 L191.6,162.3 L192.1,162.3 L192.6,162.3 L193.1,162.3 L193.6,162.3 L194.1,162.3 L194.6,162.2 L195.1,162.2 L195.6,162.2 L196.1,162.2 L196.6,162.2 L197.1,162.2 L197.6,162.2 L198.1,162.2 L198.6,162.2 L199.1,162.2 L199.6,162.2 L200.1,162.2 L200.6,162.1 L201.1,162.1 L201.6,162.1 L202.1,162.1 L202.6,162.1 L203.1,162.1 L203.6,162.0 L204.1,162.0 L204.6,162.0 L205.1,162.0 L205.6,162.0 L206.1,162.0 L206.6,162.0 L207.1,162.0 L207.6,162.0 L208.1,162.0 L208.6,162.0 L209.1,162.0 L209.6,162.0 L210.1,162.0 L210.6,162.0 L211.1,162.0 L211.6,162.0 L212.1,162.0 L212.6,162.0 L213.1,162.0 L213.6,162.0 L214.1,162.0 L214.6,162.0 L215.1,162.0 L215.6,162.0 L216.1,162.0 L216.6,162.0 L217.1,161.9 L217.6,161.9 L218.1,161.9 L218.6,161.9 L219.1,161.9 L219.6,161.9 L220.1,161.8 L220.6,161.8 L221.1,161.8 L221.6,161.8 L222.1,161.8 L222.6,161.8 L223.1,161.8 L223.6,161.7 L224.1,161.7 L224.6,161.7 L225.1,161.7 L225.6,161.7 L226.1,161.7 L226.6,161.6 L227.1,161.6 L227.6,161.6 L228.1,161.6 L228.6,161.5 L229.1,161.5 L229.6,161.5 L230.1,161.4 L230.6,161.4 L231.1,161.3 L231.6,161.3 L232.1,161.2 L232.6,161.1 L233.1,161.1 L233.6,161.0 L234.1,160.9 L234.6,160.8 L235.1,160.8 L235.6,160.7 L236.1,160.6 L236.6,160.6 L237.1,160.5 L237.6,160.4 L238.1,160.4 L238.6,160.3 L239.1,160.2 L239.6,160.1 L240.1,160.1 L240.6,160.0 L241.1,159.9 L241.6,159.9 L242.1,159.8 L242.6,159.7 L243.1,159.7 L243.6,159.6 L244.1,159.6 L244.6,159.5 L245.1,159.5 L245.6,159.4 L246.1,159.4 L246.6,159.3 L247.1,159.3 L247.6,159.3 L248.1,159.2 L248.6,159.2 L249.1,159.1 L249.6,159.1 L250.1,159.1 L250.6,159.0 L251.1,159.0 L251.6,159.0 L252.1,159.0 L252.6,159.0 L253.1,159.0 L253.6,159.0 L254.1,159.0 L254.6,159.1 L255.1,159.1 L255.6,159.1 L256.1,159.2 L256.6,159.2 L257.1,159.3 L257.6,159.3 L258.1,159.4 L258.6,159.4 L259.1,159.4 L259.6,159.5 L260.1,159.5 L260.6,159.5 L261.1,159.5 L261.6,159.5 L262.1,159.6 L262.6,159.6 L263.1,159.6 L263.6,159.6 L264.1,159.6 L264.6,159.6 L265.1,159.6 L265.6,159.6 L266.1,159.6 L266.6,159.6 L267.1,159.7 L267.6,159.7 L268.1,159.7 L268.6,159.7 L269.1,159.8 L269.6,159.8 L270.1,159.9 L270.6,160.0 L271.1,160.1 L271.6,160.2 L272.1,160.3 L272.6,160.4 L273.1,160.5 L273.6,160.6 L274.1,160.7 L274.6,160.9 L275.1,161.0 L275.6,161.1 L276.1,161.3 L276.6,161.4 L277.1,161.6 L277.6,161.8 L278.1,161.9 L278.6,162.1 L279.1,162.3 L279.6,162.6 L280.1,162.8 L280.6,163.1 L281.1,163.3 L281.6,163.6 L282.1,163.9 L282.6,164.2 L283.1,164.5 L283.6,164.8 L284.1,165.2 L284.6,165.6 L285.1,166.0 L285.6,166.5 L286.1,167.1 L286.6,167.6 L287.1,168.2 L287.6,168.8 L288.1,169.5 L288.6,170.1 L289.1,170.7 L289.6,171.4 L290.1,172.0 L290.6,172.6 L291.1,173.2 L291.6,173.8 L292.1,174.3 L292.6,174.9 L293.1,175.4 L293.6,176.0 L294.1,176.5 L294.6,177.1 L295.1,177.6 L295.6,178.2 L296.1,178.8 L296.6,179.3 L297.1,179.9 L297.6,180.5 L298.1,181.1 L298.6,181.7 L299.1,182.4 L299.6,183.0 L300.1,183.7 L300.6,184.4 L301.1,185.1 L301.6,185.8 L302.1,186.6 L302.6,187.3 L303.1,188.1 L303.6,188.8 L304.1,189.6 L304.6,190.4 L305.1,191.1 L305.6,191.9 L306.1,192.7 L306.6,193.5 L307.1,194.2 L307.6,195.0 L308.1,195.7 L308.6,196.4 L309.1,197.1 L309.6,197.9 L310.1,198.6 L310.6,199.3 L311.1,200.1 L311.6,200.8 L312.1,201.6 L312.6,202.4 L313.1,203.2 L313.6,204.1 L314.1,205.0 L314.6,205.9 L315.1,206.9 L315.6,208.0 L316.1,209.2 L316.6,210.4 L317.1,211.7 L317.6,213.1 L318.1,214.5 L318.6,215.9 L319.1,217.2 L319.6,218.6 L320.1,219.8 L320.6,221.1 L321.1,222.2 L321.6,223.3 L322.1,224.2 L322.6,225.0 L323.1,225.7 L323.6,226.4 L324.1,227.1 L324.6,227.7 L325.1,228.3 L325.6,228.8 L326.1,229.3" stroke-width="0.95"/>
<circle cx="58.5" cy="176.0" r="1.75" stroke-width="0.75"/>
<circle cx="66.2" cy="169.9" r="1.75" stroke-width="0.75"/>
<circle cx="74.0" cy="165.8" r="1.75" stroke-width="0.75"/>
<circle cx="81.8" cy="163.5" r="1.75" stroke-width="0.75"/>
<circle cx="89.5" cy="164.0" r="1.75" stroke-width="0.75"/>
<circle cx="97.3" cy="164.5" r="1.75" stroke-width="0.75"/>
<circle cx="105.1" cy="164.8" r="1.75" stroke-width="0.75"/>
<circle cx="112.8" cy="164.4" r="1.75" stroke-width="0.75"/>
<circle cx="120.6" cy="163.8" r="1.75" stroke-width="0.75"/>
<circle cx="128.3" cy="162.2" r="1.75" stroke-width="0.75"/>
<circle cx="136.1" cy="161.7" r="1.75" stroke-width="0.75"/>
<circle cx="143.9" cy="161.6" r="1.75" stroke-width="0.75"/>
<circle cx="151.6" cy="161.6" r="1.75" stroke-width="0.75"/>
<circle cx="159.4" cy="161.6" r="1.75" stroke-width="0.75"/>
<circle cx="167.2" cy="161.8" r="1.75" stroke-width="0.75"/>
<circle cx="174.9" cy="162.4" r="1.75" stroke-width="0.75"/>
<circle cx="182.7" cy="162.6" r="1.75" stroke-width="0.75"/>
<circle cx="190.5" cy="162.3" r="1.75" stroke-width="0.75"/>
<circle cx="198.2" cy="162.2" r="1.75" stroke-width="0.75"/>
<circle cx="206.0" cy="162.0" r="1.75" stroke-width="0.75"/>
<circle cx="213.7" cy="162.0" r="1.75" stroke-width="0.75"/>
<circle cx="221.5" cy="161.8" r="1.75" stroke-width="0.75"/>
<circle cx="229.3" cy="161.5" r="1.75" stroke-width="0.75"/>
<circle cx="237.0" cy="160.5" r="1.75" stroke-width="0.75"/>
<circle cx="244.8" cy="159.5" r="1.75" stroke-width="0.75"/>
<circle cx="252.6" cy="159.0" r="1.75" stroke-width="0.75"/>
<circle cx="260.3" cy="159.5" r="1.75" stroke-width="0.75"/>
<circle cx="268.1" cy="159.7" r="1.75" stroke-width="0.75"/>
<circle cx="275.8" cy="161.2" r="1.75" stroke-width="0.75"/>
<circle cx="283.6" cy="164.8" r="1.75" stroke-width="0.75"/>
<circle cx="291.4" cy="173.5" r="1.75" stroke-width="0.75"/>
<circle cx="299.1" cy="182.4" r="1.75" stroke-width="0.75"/>
<circle cx="306.9" cy="193.9" r="1.75" stroke-width="0.75"/>
<circle cx="314.7" cy="206.0" r="1.75" stroke-width="0.75"/>
<circle cx="322.4" cy="224.7" r="1.75" stroke-width="0.75"/>
<path d="M54.6,206.2 L55.1,205.1 L55.6,204.0 L56.1,203.0 L56.6,201.9 L57.1,200.9 L57.6,199.9 L58.1,199.0 L58.6,198.1 L59.1,197.2 L59.6,196.3 L60.1,195.5 L60.6,194.6 L61.1,193.8 L61.6,193.0 L62.1,192.2 L62.6,191.4 L63.1,190.6 L63.6,189.9 L64.1,189.1 L64.6,188.4 L65.1,187.7 L65.6,187.0 L66.1,186.3 L66.6,185.6 L67.1,185.0 L67.6,184.3 L68.1,183.7 L68.6,183.0 L69.1,182.4 L69.6,181.8 L70.1,181.2 L70.6,180.6 L71.1,180.0 L71.6,179.5 L72.1,178.9 L72.6,178.4 L73.1,177.9 L73.6,177.4 L74.1,176.9 L74.6,176.4 L75.1,176.0 L75.6,175.5 L76.1,175.1 L76.6,174.7 L77.1,174.2 L77.6,173.8 L78.1,173.4 L78.6,173.0 L79.1,172.7 L79.6,172.3 L80.1,172.0 L80.6,171.6 L81.1,171.3 L81.6,171.0 L82.1,170.7 L82.6,170.4 L83.1,170.1 L83.6,169.9 L84.1,169.6 L84.6,169.4 L85.1,169.1 L85.6,168.9 L86.1,168.6 L86.6,168.4 L87.1,168.2 L87.6,168.0 L88.1,167.8 L88.6,167.6 L89.1,167.4 L89.6,167.3 L90.1,167.1 L90.6,166.9 L91.1,166.8 L91.6,166.6 L92.1,166.4 L92.6,166.3 L93.1,166.1 L93.6,166.0 L94.1,165.9 L94.6,165.7 L95.1,165.6 L95.6,165.5 L96.1,165.4 L96.6,165.4 L97.1,165.3 L97.6,165.3 L98.1,165.2 L98.6,165.2 L99.1,165.2 L99.6,165.2 L100.1,165.2 L100.6,165.1 L101.1,165.1 L101.6,165.1 L102.1,165.1 L102.6,165.1 L103.1,165.1 L103.6,165.0 L104.1,165.0 L104.6,165.0 L105.1,165.0 L105.6,165.0 L106.1,165.0 L106.6,164.9 L107.1,164.9 L107.6,164.9 L108.1,164.9 L108.6,164.9 L109.1,164.9 L109.6,164.9 L110.1,164.8 L110.6,164.8 L111.1,164.8 L111.6,164.8 L112.1,164.8 L112.6,164.8 L113.1,164.8 L113.6,164.8 L114.1,164.8 L114.6,164.8 L115.1,164.8 L115.6,164.8 L116.1,164.8 L116.6,164.8 L117.1,164.8 L117.6,164.8 L118.1,164.8 L118.6,164.8 L119.1,164.8 L119.6,164.8 L120.1,164.8 L120.6,164.8 L121.1,164.8 L121.6,164.8 L122.1,164.8 L122.6,164.8 L123.1,164.8 L123.6,164.9 L124.1,164.9 L124.6,164.9 L125.1,164.9 L125.6,164.9 L126.1,165.0 L126.6,165.0 L127.1,165.0 L127.6,165.0 L128.1,165.0 L128.6,165.0 L129.1,165.0 L129.6,165.0 L130.1,165.0 L130.6,165.0 L131.1,164.9 L131.6,164.9 L132.1,164.9 L132.6,164.9 L133.1,164.9 L133.6,164.8 L134.1,164.8 L134.6,164.8 L135.1,164.8 L135.6,164.8 L136.1,164.8 L136.6,164.8 L137.1,164.8 L137.6,164.8 L138.1,164.8 L138.6,164.8 L139.1,164.8 L139.6,164.8 L140.1,164.8 L140.6,164.8 L141.1,164.8 L141.6,164.8 L142.1,164.8 L142.6,164.8 L143.1,164.8 L143.6,164.8 L144.1,164.8 L144.6,164.8 L145.1,164.8 L145.6,164.8 L146.1,164.8 L146.6,164.8 L147.1,164.8 L147.6,164.8 L148.1,164.8 L148.6,164.8 L149.1,164.8 L149.6,164.8 L150.1,164.8 L150.6,164.8 L151.1,164.8 L151.6,164.8 L152.1,164.8 L152.6,164.8 L153.1,164.8 L153.6,164.8 L154.1,164.8 L154.6,164.8 L155.1,164.9 L155.6,164.9 L156.1,164.9 L156.6,164.9 L157.1,164.9 L157.6,164.9 L158.1,165.0 L158.6,165.0 L159.1,165.0 L159.6,165.0 L160.1,165.0 L160.6,165.0 L161.1,165.1 L161.6,165.1 L162.1,165.1 L162.6,165.1 L163.1,165.2 L163.6,165.2 L164.1,165.2 L164.6,165.2 L165.1,165.3 L165.6,165.3 L166.1,165.3 L166.6,165.3 L167.1,165.3 L167.6,165.3 L168.1,165.3 L168.6,165.3 L169.1,165.2 L169.6,165.2 L170.1,165.1 L170.6,165.1 L171.1,165.0 L171.6,165.0 L172.1,165.0 L172.6,164.9 L173.1,164.9 L173.6,164.8 L174.1,164.8 L174.6,164.8 L175.1,164.8 L175.6,164.8 L176.1,164.8 L176.6,164.8 L177.1,164.8 L177.6,164.8 L178.1,164.8 L178.6,164.8 L179.1,164.8 L179.6,164.8 L180.1,164.8 L180.6,164.8 L181.1,164.8 L181.6,164.8 L182.1,164.8 L182.6,164.8 L183.1,164.8 L183.6,164.8 L184.1,164.8 L184.6,164.8 L185.1,164.8 L185.6,164.8 L186.1,164.8 L186.6,164.8 L187.1,164.8 L187.6,164.8 L188.1,164.8 L188.6,164.8 L189.1,164.8 L189.6,164.8 L190.1,164.8 L190.6,164.8 L191.1,164.8 L191.6,164.8 L192.1,164.8 L192.6,164.8 L193.1,164.7 L193.6,164.7 L194.1,164.7 L194.6,164.7 L195.1,164.6 L195.6,164.6 L196.1,164.6 L196.6,164.6 L197.1,164.5 L197.6,164.5 L198.1,164.5 L198.6,164.5 L199.1,164.5 L199.6,164.5 L200.1,164.4 L200.6,164.4 L201.1,164.4 L201.6,164.4 L202.1,164.4 L202.6,164.4 L203.1,164.4 L203.6,164.4 L204.1,164.4 L204.6,164.3 L205.1,164.3 L205.6,164.3 L206.1,164.3 L206.6,164.3 L207.1,164.3 L207.6,164.2 L208.1,164.2 L208.6,164.2 L209.1,164.2 L209.6,164.2 L210.1,164.2 L210.6,164.1 L211.1,164.1 L211.6,164.1 L212.1,164.1 L212.6,164.1 L213.1,164.0 L213.6,164.0 L214.1,164.0 L214.6,164.0 L215.1,163.9 L215.6,163.9 L216.1,163.9 L216.6,163.8 L217.1,163.8 L217.6,163.8 L218.1,163.7 L218.6,163.7 L219.1,163.7 L219.6,163.6 L220.1,163.6 L220.6,163.6 L221.1,163.5 L221.6,163.5 L222.1,163.5 L222.6,163.4 L223.1,163.4 L223.6,163.3 L224.1,163.3 L224.6,163.3 L225.1,163.2 L225.6,163.2 L226.1,163.1 L226.6,163.1 L227.1,163.1 L227.6,163.0 L228.1,163.0 L228.6,163.0 L229.1,163.0 L229.6,163.0 L230.1,163.0 L230.6,163.0 L231.1,163.1 L231.6,163.1 L232.1,163.2 L232.6,163.2 L233.1,163.2 L233.6,163.3 L234.1,163.3 L234.6,163.4 L235.1,163.4 L235.6,163.5 L236.1,163.5 L236.6,163.5 L237.1,163.5 L237.6,163.5 L238.1,163.5 L238.6,163.5 L239.1,163.4 L239.6,163.4 L240.1,163.4 L240.6,163.4 L241.1,163.3 L241.6,163.3 L242.1,163.3 L242.6,163.3 L243.1,163.2 L243.6,163.2 L244.1,163.2 L244.6,163.2 L245.1,163.2 L245.6,163.2 L246.1,163.3 L246.6,163.4 L247.1,163.5 L247.6,163.7 L248.1,163.8 L248.6,164.0 L249.1,164.2 L249.6,164.4 L250.1,164.6 L250.6,164.8 L251.1,165.0 L251.6,165.2 L252.1,165.4 L252.6,165.6 L253.1,165.8 L253.6,166.0 L254.1,166.3 L254.6,166.5 L255.1,166.7 L255.6,167.0 L256.1,167.3 L256.6,167.5 L257.1,167.8 L257.6,168.1 L258.1,168.3 L258.6,168.6 L259.1,168.9 L259.6,169.2 L260.1,169.5 L260.6,169.8 L261.1,170.0 L261.6,170.3 L262.1,170.6 L262.6,170.9 L263.1,171.2 L263.6,171.5 L264.1,171.8 L264.6,172.1 L265.1,172.4 L265.6,172.7 L266.1,173.1 L266.6,173.4 L267.1,173.7 L267.6,174.1 L268.1,174.4 L268.6,174.8 L269.1,175.1 L269.6,175.5 L270.1,175.9 L270.6,176.3 L271.1,176.7 L271.6,177.1 L272.1,177.5 L272.6,177.9 L273.1,178.3 L273.6,178.7 L274.1,179.1 L274.6,179.5 L275.1,180.0 L275.6,180.4 L276.1,180.8 L276.6,181.3 L277.1,181.7 L277.6,182.1 L278.1,182.6 L278.6,183.0 L279.1,183.5 L279.6,183.9 L280.1,184.4 L280.6,184.9 L281.1,185.3 L281.6,185.8 L282.1,186.3 L282.6,186.7 L283.1,187.2 L283.6,187.7 L284.1,188.2 L284.6,188.7 L285.1,189.2 L285.6,189.7 L286.1,190.2 L286.6,190.8 L287.1,191.3 L287.6,191.8 L288.1,192.3 L288.6,192.8 L289.1,193.4 L289.6,193.9 L290.1,194.3 L290.6,194.8 L291.1,195.3 L291.6,195.7 L292.1,196.1 L292.6,196.6 L293.1,197.0 L293.6,197.4 L294.1,197.8 L294.6,198.3 L295.1,198.7 L295.6,199.0 L296.1,199.4 L296.6,199.8 L297.1,200.1 L297.6,200.5 L298.1,200.8 L298.6,201.1 L299.1,201.4 L299.6,201.6 L300.1,201.9 L300.6,202.2 L301.1,202.4 L301.6,202.7 L302.1,202.9 L302.6,203.1 L303.1,203.4 L303.6,203.6 L304.1,203.8 L304.6,203.9 L305.1,204.1 L305.6,204.3 L306.1,204.4 L306.6,204.5 L307.1,204.6 L307.6,204.7 L308.1,204.9 L308.6,205.0 L309.1,205.1 L309.6,205.2 L310.1,205.2 L310.6,205.3 L311.1,205.4 L311.6,205.5 L312.1,205.5 L312.6,205.6 L313.1,205.6 L313.6,205.7 L314.1,205.7 L314.6,205.7 L315.1,205.7 L315.6,205.6 L316.1,205.5 L316.6,205.4 L317.1,205.3 L317.6,205.2 L318.1,205.0 L318.6,204.8 L319.1,204.6 L319.6,204.5 L320.1,204.3 L320.6,204.1 L321.1,204.0 L321.6,203.9 L322.1,203.8 L322.6,203.7 L323.1,203.6 L323.6,203.5 L324.1,203.5 L324.6,203.4 L325.1,203.4 L325.6,203.3 L326.1,203.3" stroke-width="0.95"/>
<circle cx="58.5" cy="198.3" r="1.75" stroke-width="0.75"/>
<circle cx="66.2" cy="186.1" r="1.75" stroke-width="0.75"/>
<circle cx="74.0" cy="177.0" r="1.75" stroke-width="0.75"/>
<circle cx="81.8" cy="170.9" r="1.75" stroke-width="0.75"/>
<circle cx="89.5" cy="167.3" r="1.75" stroke-width="0.75"/>
<circle cx="97.3" cy="165.3" r="1.75" stroke-width="0.75"/>
<circle cx="105.1" cy="165.0" r="1.75" stroke-width="0.75"/>
<circle cx="112.8" cy="164.8" r="1.75" stroke-width="0.75"/>
<circle cx="120.6" cy="164.8" r="1.75" stroke-width="0.75"/>
<circle cx="128.3" cy="165.0" r="1.75" stroke-width="0.75"/>
<circle cx="136.1" cy="164.8" r="1.75" stroke-width="0.75"/>
<circle cx="143.9" cy="164.8" r="1.75" stroke-width="0.75"/>
<circle cx="151.6" cy="164.8" r="1.75" stroke-width="0.75"/>
<circle cx="159.4" cy="165.0" r="1.75" stroke-width="0.75"/>
<circle cx="167.2" cy="165.3" r="1.75" stroke-width="0.75"/>
<circle cx="174.9" cy="164.8" r="1.75" stroke-width="0.75"/>
<circle cx="182.7" cy="164.8" r="1.75" stroke-width="0.75"/>
<circle cx="190.5" cy="164.8" r="1.75" stroke-width="0.75"/>
<circle cx="198.2" cy="164.5" r="1.75" stroke-width="0.75"/>
<circle cx="206.0" cy="164.3" r="1.75" stroke-width="0.75"/>
<circle cx="213.7" cy="164.0" r="1.75" stroke-width="0.75"/>
<circle cx="221.5" cy="163.5" r="1.75" stroke-width="0.75"/>
<circle cx="229.3" cy="163.0" r="1.75" stroke-width="0.75"/>
<circle cx="237.0" cy="163.5" r="1.75" stroke-width="0.75"/>
<circle cx="244.8" cy="163.2" r="1.75" stroke-width="0.75"/>
<circle cx="252.6" cy="165.6" r="1.75" stroke-width="0.75"/>
<circle cx="260.3" cy="169.6" r="1.75" stroke-width="0.75"/>
<circle cx="268.1" cy="174.4" r="1.75" stroke-width="0.75"/>
<circle cx="275.8" cy="180.6" r="1.75" stroke-width="0.75"/>
<circle cx="283.6" cy="187.7" r="1.75" stroke-width="0.75"/>
<circle cx="291.4" cy="195.5" r="1.75" stroke-width="0.75"/>
<circle cx="299.1" cy="201.4" r="1.75" stroke-width="0.75"/>
<circle cx="306.9" cy="204.6" r="1.75" stroke-width="0.75"/>
<circle cx="314.7" cy="205.7" r="1.75" stroke-width="0.75"/>
<circle cx="322.4" cy="203.7" r="1.75" stroke-width="0.75"/>
<path d="M54.6,208.4 L55.1,207.7 L55.6,206.9 L56.1,206.1 L56.6,205.4 L57.1,204.6 L57.6,203.8 L58.1,203.0 L58.6,202.2 L59.1,201.4 L59.6,200.6 L60.1,199.8 L60.6,199.0 L61.1,198.1 L61.6,197.3 L62.1,196.5 L62.6,195.6 L63.1,194.8 L63.6,194.0 L64.1,193.2 L64.6,192.4 L65.1,191.6 L65.6,190.8 L66.1,190.0 L66.6,189.3 L67.1,188.5 L67.6,187.8 L68.1,187.0 L68.6,186.3 L69.1,185.5 L69.6,184.8 L70.1,184.0 L70.6,183.3 L71.1,182.6 L71.6,182.0 L72.1,181.3 L72.6,180.7 L73.1,180.0 L73.6,179.5 L74.1,178.9 L74.6,178.4 L75.1,177.8 L75.6,177.3 L76.1,176.8 L76.6,176.3 L77.1,175.8 L77.6,175.3 L78.1,174.9 L78.6,174.4 L79.1,174.0 L79.6,173.6 L80.1,173.2 L80.6,172.8 L81.1,172.4 L81.6,172.1 L82.1,171.8 L82.6,171.5 L83.1,171.2 L83.6,170.9 L84.1,170.6 L84.6,170.3 L85.1,170.1 L85.6,169.8 L86.1,169.6 L86.6,169.4 L87.1,169.1 L87.6,168.9 L88.1,168.7 L88.6,168.5 L89.1,168.3 L89.6,168.2 L90.1,168.0 L90.6,167.8 L91.1,167.7 L91.6,167.5 L92.1,167.3 L92.6,167.2 L93.1,167.0 L93.6,166.9 L94.1,166.7 L94.6,166.6 L95.1,166.5 L95.6,166.4 L96.1,166.4 L96.6,166.3 L97.1,166.3 L97.6,166.3 L98.1,166.3 L98.6,166.3 L99.1,166.4 L99.6,166.4 L100.1,166.4 L100.6,166.5 L101.1,166.5 L101.6,166.6 L102.1,166.6 L102.6,166.6 L103.1,166.7 L103.6,166.7 L104.1,166.8 L104.6,166.8 L105.1,166.8 L105.6,166.8 L106.1,166.8 L106.6,166.9 L107.1,166.9 L107.6,166.9 L108.1,166.9 L108.6,166.9 L109.1,166.9 L109.6,167.0 L110.1,167.0 L110.6,167.0 L111.1,167.0 L111.6,167.0 L112.1,167.0 L112.6,167.0 L113.1,167.0 L113.6,167.0 L114.1,167.0 L114.6,167.0 L115.1,166.9 L115.6,166.9 L116.1,166.9 L116.6,166.9 L117.1,166.8 L117.6,166.8 L118.1,166.8 L118.6,166.7 L119.1,166.7 L119.6,166.7 L120.1,166.6 L120.6,166.6 L121.1,166.6 L121.6,166.5 L122.1,166.5 L122.6,166.4 L123.1,166.4 L123.6,166.3 L124.1,166.2 L124.6,166.2 L125.1,166.1 L125.6,166.1 L126.1,166.0 L126.6,166.0 L127.1,165.9 L127.6,165.9 L128.1,165.8 L128.6,165.8 L129.1,165.7 L129.6,165.7 L130.1,165.7 L130.6,165.7 L131.1,165.6 L131.6,165.6 L132.1,165.6 L132.6,165.5 L133.1,165.5 L133.6,165.5 L134.1,165.5 L134.6,165.4 L135.1,165.4 L135.6,165.4 L136.1,165.4 L136.6,165.4 L137.1,165.4 L137.6,165.4 L138.1,165.4 L138.6,165.4 L139.1,165.3 L139.6,165.3 L140.1,165.3 L140.6,165.3 L141.1,165.3 L141.6,165.3 L142.1,165.3 L142.6,165.3 L143.1,165.3 L143.6,165.3 L144.1,165.3 L144.6,165.3 L145.1,165.3 L145.6,165.3 L146.1,165.3 L146.6,165.3 L147.1,165.3 L147.6,165.3 L148.1,165.3 L148.6,165.3 L149.1,165.3 L149.6,165.3 L150.1,165.3 L150.6,165.3 L151.1,165.3 L151.6,165.3 L152.1,165.3 L152.6,165.3 L153.1,165.3 L153.6,165.3 L154.1,165.3 L154.6,165.3 L155.1,165.3 L155.6,165.3 L156.1,165.3 L156.6,165.3 L157.1,165.3 L157.6,165.3 L158.1,165.3 L158.6,165.3 L159.1,165.3 L159.6,165.3 L160.1,165.3 L160.6,165.3 L161.1,165.3 L161.6,165.3 L162.1,165.3 L162.6,165.3 L163.1,165.3 L163.6,165.4 L164.1,165.4 L164.6,165.4 L165.1,165.4 L165.6,165.4 L166.1,165.4 L166.6,165.4 L167.1,165.4 L167.6,165.4 L168.1,165.4 L168.6,165.4 L169.1,165.4 L169.6,165.4 L170.1,165.4 L170.6,165.4 L171.1,165.4 L171.6,165.4 L172.1,165.4 L172.6,165.4 L173.1,165.4 L173.6,165.4 L174.1,165.4 L174.6,165.4 L175.1,165.4 L175.6,165.4 L176.1,165.4 L176.6,165.4 L177.1,165.4 L177.6,165.4 L178.1,165.4 L178.6,165.4 L179.1,165.4 L179.6,165.4 L180.1,165.4 L180.6,165.4 L181.1,165.4 L181.6,165.4 L182.1,165.4 L182.6,165.4 L183.1,165.4 L183.6,165.4 L184.1,165.4 L184.6,165.4 L185.1,165.4 L185.6,165.4 L186.1,165.4 L186.6,165.4 L187.1,165.4 L187.6,165.3 L188.1,165.3 L188.6,165.3 L189.1,165.3 L189.6,165.3 L190.1,165.3 L190.6,165.3 L191.1,165.3 L191.6,165.3 L192.1,165.3 L192.6,165.3 L193.1,165.3 L193.6,165.3 L194.1,165.3 L194.6,165.3 L195.1,165.2 L195.6,165.2 L196.1,165.2 L196.6,165.2 L197.1,165.2 L197.6,165.2 L198.1,165.2 L198.6,165.2 L199.1,165.2 L199.6,165.2 L200.1,165.2 L200.6,165.1 L201.1,165.1 L201.6,165.1 L202.1,165.1 L202.6,165.1 L203.1,165.1 L203.6,165.1 L204.1,165.1 L204.6,165.0 L205.1,165.0 L205.6,165.0 L206.1,165.0 L206.6,165.0 L207.1,165.0 L207.6,165.0 L208.1,165.0 L208.6,164.9 L209.1,164.9 L209.6,164.9 L210.1,164.9 L210.6,164.9 L211.1,164.9 L211.6,164.9 L212.1,164.9 L212.6,164.8 L213.1,164.8 L213.6,164.8 L214.1,164.8 L214.6,164.8 L215.1,164.7 L215.6,164.7 L216.1,164.7 L216.6,164.6 L217.1,164.6 L217.6,164.5 L218.1,164.5 L218.6,164.4 L219.1,164.4 L219.6,164.3 L220.1,164.3 L220.6,164.3 L221.1,164.2 L221.6,164.2 L222.1,164.2 L222.6,164.1 L223.1,164.1 L223.6,164.0 L224.1,164.0 L224.6,164.0 L225.1,163.9 L225.6,163.9 L226.1,163.9 L226.6,163.8 L227.1,163.8 L227.6,163.8 L228.1,163.8 L228.6,163.8 L229.1,163.8 L229.6,163.8 L230.1,163.8 L230.6,163.8 L231.1,163.8 L231.6,163.8 L232.1,163.8 L232.6,163.9 L233.1,163.9 L233.6,164.0 L234.1,164.0 L234.6,164.0 L235.1,164.1 L235.6,164.1 L236.1,164.2 L236.6,164.3 L237.1,164.3 L237.6,164.4 L238.1,164.4 L238.6,164.5 L239.1,164.6 L239.6,164.7 L240.1,164.8 L240.6,164.9 L241.1,165.0 L241.6,165.1 L242.1,165.3 L242.6,165.4 L243.1,165.5 L243.6,165.7 L244.1,165.8 L244.6,165.9 L245.1,166.1 L245.6,166.3 L246.1,166.5 L246.6,166.7 L247.1,166.9 L247.6,167.2 L248.1,167.4 L248.6,167.7 L249.1,167.9 L249.6,168.2 L250.1,168.5 L250.6,168.7 L251.1,169.0 L251.6,169.2 L252.1,169.4 L252.6,169.6 L253.1,169.8 L253.6,170.0 L254.1,170.2 L254.6,170.4 L255.1,170.5 L255.6,170.7 L256.1,170.9 L256.6,171.1 L257.1,171.2 L257.6,171.4 L258.1,171.6 L258.6,171.7 L259.1,171.9 L259.6,172.1 L260.1,172.2 L260.6,172.4 L261.1,172.6 L261.6,172.8 L262.1,172.9 L262.6,173.1 L263.1,173.3 L263.6,173.5 L264.1,173.6 L264.6,173.8 L265.1,174.0 L265.6,174.2 L266.1,174.4 L266.6,174.5 L267.1,174.7 L267.6,174.8 L268.1,175.0 L268.6,175.2 L269.1,175.3 L269.6,175.5 L270.1,175.6 L270.6,175.8 L271.1,175.9 L271.6,176.1 L272.1,176.2 L272.6,176.4 L273.1,176.5 L273.6,176.6 L274.1,176.8 L274.6,176.9 L275.1,177.0 L275.6,177.1 L276.1,177.3 L276.6,177.4 L277.1,177.5 L277.6,177.5 L278.1,177.6 L278.6,177.7 L279.1,177.8 L279.6,177.9 L280.1,177.9 L280.6,178.0 L281.1,178.1 L281.6,178.2 L282.1,178.3 L282.6,178.4 L283.1,178.5 L283.6,178.6 L284.1,178.7 L284.6,178.8 L285.1,179.0 L285.6,179.1 L286.1,179.3 L286.6,179.4 L287.1,179.6 L287.6,179.7 L288.1,179.9 L288.6,180.1 L289.1,180.3 L289.6,180.5 L290.1,180.7 L290.6,180.9 L291.1,181.1 L291.6,181.3 L292.1,181.5 L292.6,181.8 L293.1,182.1 L293.6,182.3 L294.1,182.6 L294.6,182.9 L295.1,183.2 L295.6,183.6 L296.1,183.9 L296.6,184.2 L297.1,184.6 L297.6,185.0 L298.1,185.3 L298.6,185.7 L299.1,186.1 L299.6,186.5 L300.1,186.9 L300.6,187.3 L301.1,187.7 L301.6,188.2 L302.1,188.6 L302.6,189.1 L303.1,189.6 L303.6,190.1 L304.1,190.6 L304.6,191.1 L305.1,191.6 L305.6,192.2 L306.1,192.7 L306.6,193.3 L307.1,193.8 L307.6,194.4 L308.1,195.0 L308.6,195.7 L309.1,196.3 L309.6,197.0 L310.1,197.7 L310.6,198.4 L311.1,199.1 L311.6,199.8 L312.1,200.5 L312.6,201.2 L313.1,202.0 L313.6,202.7 L314.1,203.4 L314.6,204.1 L315.1,204.8 L315.6,205.6 L316.1,206.3 L316.6,207.1 L317.1,207.9 L317.6,208.7 L318.1,209.4 L318.6,210.2 L319.1,211.0 L319.6,211.7 L320.1,212.5 L320.6,213.2 L321.1,213.9 L321.6,214.6 L322.1,215.2 L322.6,215.8 L323.1,216.4 L323.6,216.9 L324.1,217.5 L324.6,218.0 L325.1,218.5 L325.6,219.0 L326.1,219.4" stroke-width="0.95"/>
<circle cx="58.5" cy="202.4" r="1.75" stroke-width="0.75"/>
<circle cx="66.2" cy="189.8" r="1.75" stroke-width="0.75"/>
<circle cx="74.0" cy="179.0" r="1.75" stroke-width="0.75"/>
<circle cx="81.8" cy="172.0" r="1.75" stroke-width="0.75"/>
<circle cx="89.5" cy="168.2" r="1.75" stroke-width="0.75"/>
<circle cx="97.3" cy="166.3" r="1.75" stroke-width="0.75"/>
<circle cx="105.1" cy="166.8" r="1.75" stroke-width="0.75"/>
<circle cx="112.8" cy="167.0" r="1.75" stroke-width="0.75"/>
<circle cx="120.6" cy="166.6" r="1.75" stroke-width="0.75"/>
<circle cx="128.3" cy="165.8" r="1.75" stroke-width="0.75"/>
<circle cx="136.1" cy="165.4" r="1.75" stroke-width="0.75"/>
<circle cx="143.9" cy="165.3" r="1.75" stroke-width="0.75"/>
<circle cx="151.6" cy="165.3" r="1.75" stroke-width="0.75"/>
<circle cx="159.4" cy="165.3" r="1.75" stroke-width="0.75"/>
<circle cx="167.2" cy="165.4" r="1.75" stroke-width="0.75"/>
<circle cx="174.9" cy="165.4" r="1.75" stroke-width="0.75"/>
<circle cx="182.7" cy="165.4" r="1.75" stroke-width="0.75"/>
<circle cx="190.5" cy="165.3" r="1.75" stroke-width="0.75"/>
<circle cx="198.2" cy="165.2" r="1.75" stroke-width="0.75"/>
<circle cx="206.0" cy="165.0" r="1.75" stroke-width="0.75"/>
<circle cx="213.7" cy="164.8" r="1.75" stroke-width="0.75"/>
<circle cx="221.5" cy="164.2" r="1.75" stroke-width="0.75"/>
<circle cx="229.3" cy="163.8" r="1.75" stroke-width="0.75"/>
<circle cx="237.0" cy="164.3" r="1.75" stroke-width="0.75"/>
<circle cx="244.8" cy="166.0" r="1.75" stroke-width="0.75"/>
<circle cx="252.6" cy="169.6" r="1.75" stroke-width="0.75"/>
<circle cx="260.3" cy="172.3" r="1.75" stroke-width="0.75"/>
<circle cx="268.1" cy="175.0" r="1.75" stroke-width="0.75"/>
<circle cx="275.8" cy="177.2" r="1.75" stroke-width="0.75"/>
<circle cx="283.6" cy="178.6" r="1.75" stroke-width="0.75"/>
<circle cx="291.4" cy="181.2" r="1.75" stroke-width="0.75"/>
<circle cx="299.1" cy="186.1" r="1.75" stroke-width="0.75"/>
<circle cx="306.9" cy="193.6" r="1.75" stroke-width="0.75"/>
<circle cx="314.7" cy="204.2" r="1.75" stroke-width="0.75"/>
<circle cx="322.4" cy="215.6" r="1.75" stroke-width="0.75"/>
<path d="M54.6,224.7 L55.1,224.4 L55.6,224.1 L56.1,223.8 L56.6,223.5 L57.1,223.2 L57.6,222.9 L58.1,222.5 L58.6,222.1 L59.1,221.7 L59.6,221.2 L60.1,220.7 L60.6,220.2 L61.1,219.7 L61.6,219.1 L62.1,218.5 L62.6,218.0 L63.1,217.3 L63.6,216.7 L64.1,216.1 L64.6,215.5 L65.1,214.9 L65.6,214.3 L66.1,213.7 L66.6,213.1 L67.1,212.5 L67.6,211.9 L68.1,211.3 L68.6,210.6 L69.1,210.0 L69.6,209.4 L70.1,208.8 L70.6,208.1 L71.1,207.5 L71.6,206.9 L72.1,206.2 L72.6,205.6 L73.1,205.0 L73.6,204.3 L74.1,203.7 L74.6,203.0 L75.1,202.4 L75.6,201.8 L76.1,201.1 L76.6,200.5 L77.1,199.8 L77.6,199.2 L78.1,198.5 L78.6,197.9 L79.1,197.2 L79.6,196.6 L80.1,196.0 L80.6,195.3 L81.1,194.7 L81.6,194.1 L82.1,193.4 L82.6,192.8 L83.1,192.2 L83.6,191.6 L84.1,190.9 L84.6,190.3 L85.1,189.7 L85.6,189.1 L86.1,188.4 L86.6,187.8 L87.1,187.2 L87.6,186.6 L88.1,186.1 L88.6,185.5 L89.1,185.0 L89.6,184.4 L90.1,183.9 L90.6,183.4 L91.1,182.9 L91.6,182.4 L92.1,181.9 L92.6,181.4 L93.1,180.9 L93.6,180.5 L94.1,180.0 L94.6,179.6 L95.1,179.1 L95.6,178.7 L96.1,178.3 L96.6,177.9 L97.1,177.5 L97.6,177.1 L98.1,176.7 L98.6,176.3 L99.1,175.9 L99.6,175.5 L100.1,175.2 L100.6,174.8 L101.1,174.5 L101.6,174.1 L102.1,173.8 L102.6,173.4 L103.1,173.1 L103.6,172.8 L104.1,172.5 L104.6,172.2 L105.1,171.9 L105.6,171.6 L106.1,171.3 L106.6,170.9 L107.1,170.6 L107.6,170.3 L108.1,170.0 L108.6,169.7 L109.1,169.4 L109.6,169.1 L110.1,168.8 L110.6,168.6 L111.1,168.4 L111.6,168.2 L112.1,168.0 L112.6,167.8 L113.1,167.7 L113.6,167.6 L114.1,167.5 L114.6,167.4 L115.1,167.4 L115.6,167.3 L116.1,167.2 L116.6,167.1 L117.1,167.0 L117.6,167.0 L118.1,166.9 L118.6,166.9 L119.1,166.8 L119.6,166.8 L120.1,166.8 L120.6,166.8 L121.1,166.8 L121.6,166.8 L122.1,166.8 L122.6,166.9 L123.1,166.9 L123.6,166.9 L124.1,166.9 L124.6,167.0 L125.1,167.0 L125.6,167.1 L126.1,167.1 L126.6,167.2 L127.1,167.2 L127.6,167.2 L128.1,167.3 L128.6,167.3 L129.1,167.4 L129.6,167.4 L130.1,167.4 L130.6,167.5 L131.1,167.5 L131.6,167.6 L132.1,167.6 L132.6,167.7 L133.1,167.7 L133.6,167.8 L134.1,167.8 L134.6,167.9 L135.1,167.9 L135.6,168.0 L136.1,168.0 L136.6,168.0 L137.1,168.1 L137.6,168.1 L138.1,168.1 L138.6,168.2 L139.1,168.2 L139.6,168.2 L140.1,168.3 L140.6,168.3 L141.1,168.3 L141.6,168.3 L142.1,168.4 L142.6,168.4 L143.1,168.4 L143.6,168.4 L144.1,168.4 L144.6,168.4 L145.1,168.4 L145.6,168.4 L146.1,168.4 L146.6,168.4 L147.1,168.4 L147.6,168.4 L148.1,168.4 L148.6,168.4 L149.1,168.4 L149.6,168.4 L150.1,168.4 L150.6,168.4 L151.1,168.4 L151.6,168.4 L152.1,168.4 L152.6,168.4 L153.1,168.4 L153.6,168.4 L154.1,168.4 L154.6,168.4 L155.1,168.4 L155.6,168.4 L156.1,168.4 L156.6,168.4 L157.1,168.4 L157.6,168.4 L158.1,168.4 L158.6,168.4 L159.1,168.4 L159.6,168.4 L160.1,168.4 L160.6,168.4 L161.1,168.4 L161.6,168.4 L162.1,168.4 L162.6,168.4 L163.1,168.4 L163.6,168.4 L164.1,168.4 L164.6,168.4 L165.1,168.4 L165.6,168.4 L166.1,168.4 L166.6,168.4 L167.1,168.4 L167.6,168.4 L168.1,168.4 L168.6,168.4 L169.1,168.4 L169.6,168.4 L170.1,168.4 L170.6,168.4 L171.1,168.5 L171.6,168.5 L172.1,168.5 L172.6,168.5 L173.1,168.5 L173.6,168.5 L174.1,168.6 L174.6,168.6 L175.1,168.6 L175.6,168.6 L176.1,168.7 L176.6,168.7 L177.1,168.8 L177.6,168.8 L178.1,168.9 L178.6,168.9 L179.1,169.0 L179.6,169.1 L180.1,169.1 L180.6,169.2 L181.1,169.3 L181.6,169.4 L182.1,169.4 L182.6,169.5 L183.1,169.6 L183.6,169.6 L184.1,169.7 L184.6,169.8 L185.1,169.8 L185.6,169.9 L186.1,170.0 L186.6,170.1 L187.1,170.2 L187.6,170.2 L188.1,170.3 L188.6,170.4 L189.1,170.5 L189.6,170.6 L190.1,170.6 L190.6,170.7 L191.1,170.8 L191.6,170.9 L192.1,171.0 L192.6,171.1 L193.1,171.2 L193.6,171.3 L194.1,171.4 L194.6,171.5 L195.1,171.6 L195.6,171.7 L196.1,171.8 L196.6,171.8 L197.1,171.9 L197.6,172.0 L198.1,172.1 L198.6,172.2 L199.1,172.2 L199.6,172.3 L200.1,172.3 L200.6,172.4 L201.1,172.5 L201.6,172.5 L202.1,172.6 L202.6,172.6 L203.1,172.7 L203.6,172.7 L204.1,172.8 L204.6,172.8 L205.1,172.9 L205.6,173.0 L206.1,173.0 L206.6,173.1 L207.1,173.2 L207.6,173.2 L208.1,173.3 L208.6,173.4 L209.1,173.4 L209.6,173.5 L210.1,173.6 L210.6,173.7 L211.1,173.7 L211.6,173.8 L212.1,173.9 L212.6,174.0 L213.1,174.0 L213.6,174.1 L214.1,174.1 L214.6,174.2 L215.1,174.2 L215.6,174.3 L216.1,174.3 L216.6,174.4 L217.1,174.4 L217.6,174.5 L218.1,174.5 L218.6,174.6 L219.1,174.6 L219.6,174.7 L220.1,174.7 L220.6,174.8 L221.1,174.8 L221.6,174.9 L222.1,174.9 L222.6,175.0 L223.1,175.0 L223.6,175.0 L224.1,175.1 L224.6,175.1 L225.1,175.2 L225.6,175.2 L226.1,175.3 L226.6,175.3 L227.1,175.4 L227.6,175.4 L228.1,175.5 L228.6,175.5 L229.1,175.6 L229.6,175.6 L230.1,175.7 L230.6,175.8 L231.1,175.8 L231.6,175.9 L232.1,176.0 L232.6,176.1 L233.1,176.1 L233.6,176.2 L234.1,176.3 L234.6,176.4 L235.1,176.4 L235.6,176.5 L236.1,176.6 L236.6,176.6 L237.1,176.7 L237.6,176.8 L238.1,176.8 L238.6,176.9 L239.1,177.0 L239.6,177.0 L240.1,177.1 L240.6,177.2 L241.1,177.2 L241.6,177.3 L242.1,177.3 L242.6,177.4 L243.1,177.5 L243.6,177.5 L244.1,177.5 L244.6,177.6 L245.1,177.6 L245.6,177.7 L246.1,177.7 L246.6,177.7 L247.1,177.7 L247.6,177.8 L248.1,177.8 L248.6,177.8 L249.1,177.8 L249.6,177.9 L250.1,177.9 L250.6,177.9 L251.1,177.9 L251.6,178.0 L252.1,178.0 L252.6,178.0 L253.1,178.0 L253.6,178.1 L254.1,178.1 L254.6,178.1 L255.1,178.1 L255.6,178.2 L256.1,178.2 L256.6,178.2 L257.1,178.3 L257.6,178.3 L258.1,178.3 L258.6,178.3 L259.1,178.3 L259.6,178.3 L260.1,178.3 L260.6,178.3 L261.1,178.3 L261.6,178.3 L262.1,178.3 L262.6,178.3 L263.1,178.3 L263.6,178.3 L264.1,178.2 L264.6,178.2 L265.1,178.2 L265.6,178.2 L266.1,178.1 L266.6,178.1 L267.1,178.1 L267.6,178.0 L268.1,178.0 L268.6,178.0 L269.1,177.9 L269.6,177.9 L270.1,177.8 L270.6,177.7 L271.1,177.7 L271.6,177.6 L272.1,177.5 L272.6,177.5 L273.1,177.4 L273.6,177.3 L274.1,177.2 L274.6,177.2 L275.1,177.1 L275.6,177.0 L276.1,177.0 L276.6,176.9 L277.1,176.9 L277.6,176.8 L278.1,176.7 L278.6,176.7 L279.1,176.6 L279.6,176.6 L280.1,176.5 L280.6,176.5 L281.1,176.4 L281.6,176.4 L282.1,176.3 L282.6,176.3 L283.1,176.2 L283.6,176.2 L284.1,176.2 L284.6,176.1 L285.1,176.1 L285.6,176.0 L286.1,176.0 L286.6,175.9 L287.1,175.9 L287.6,175.8 L288.1,175.8 L288.6,175.8 L289.1,175.7 L289.6,175.7 L290.1,175.7 L290.6,175.6 L291.1,175.6 L291.6,175.6 L292.1,175.6 L292.6,175.6 L293.1,175.5 L293.6,175.5 L294.1,175.5 L294.6,175.5 L295.1,175.5 L295.6,175.5 L296.1,175.5 L296.6,175.4 L297.1,175.4 L297.6,175.4 L298.1,175.4 L298.6,175.4 L299.1,175.4 L299.6,175.4 L300.1,175.4 L300.6,175.4 L301.1,175.4 L301.6,175.4 L302.1,175.4 L302.6,175.4 L303.1,175.3 L303.6,175.3 L304.1,175.3 L304.6,175.3 L305.1,175.3 L305.6,175.3 L306.1,175.3 L306.6,175.3 L307.1,175.3 L307.6,175.3 L308.1,175.3 L308.6,175.3 L309.1,175.3 L309.6,175.3 L310.1,175.3 L310.6,175.3 L311.1,175.3 L311.6,175.2 L312.1,175.2 L312.6,175.2 L313.1,175.2 L313.6,175.2 L314.1,175.2 L314.6,175.2 L315.1,175.2 L315.6,175.2 L316.1,175.2 L316.6,175.1 L317.1,175.1 L317.6,175.1 L318.1,175.1 L318.6,175.0 L319.1,175.0 L319.6,175.0 L320.1,174.9 L320.6,174.9 L321.1,174.9 L321.6,174.8 L322.1,174.8 L322.6,174.8 L323.1,174.8 L323.6,174.7 L324.1,174.7 L324.6,174.7 L325.1,174.7 L325.6,174.6 L326.1,174.6" stroke-width="0.95"/>
<circle cx="58.5" cy="222.2" r="1.75" stroke-width="0.75"/>
<circle cx="66.2" cy="213.5" r="1.75" stroke-width="0.75"/>
<circle cx="74.0" cy="203.8" r="1.75" stroke-width="0.75"/>
<circle cx="81.8" cy="193.8" r="1.75" stroke-width="0.75"/>
<circle cx="89.5" cy="184.5" r="1.75" stroke-width="0.75"/>
<circle cx="97.3" cy="177.3" r="1.75" stroke-width="0.75"/>
<circle cx="105.1" cy="171.9" r="1.75" stroke-width="0.75"/>
<circle cx="112.8" cy="167.8" r="1.75" stroke-width="0.75"/>
<circle cx="120.6" cy="166.8" r="1.75" stroke-width="0.75"/>
<circle cx="128.3" cy="167.3" r="1.75" stroke-width="0.75"/>
<circle cx="136.1" cy="168.0" r="1.75" stroke-width="0.75"/>
<circle cx="143.9" cy="168.4" r="1.75" stroke-width="0.75"/>
<circle cx="151.6" cy="168.4" r="1.75" stroke-width="0.75"/>
<circle cx="159.4" cy="168.4" r="1.75" stroke-width="0.75"/>
<circle cx="167.2" cy="168.4" r="1.75" stroke-width="0.75"/>
<circle cx="174.9" cy="168.6" r="1.75" stroke-width="0.75"/>
<circle cx="182.7" cy="169.5" r="1.75" stroke-width="0.75"/>
<circle cx="190.5" cy="170.7" r="1.75" stroke-width="0.75"/>
<circle cx="198.2" cy="172.1" r="1.75" stroke-width="0.75"/>
<circle cx="206.0" cy="173.0" r="1.75" stroke-width="0.75"/>
<circle cx="213.7" cy="174.1" r="1.75" stroke-width="0.75"/>
<circle cx="221.5" cy="174.8" r="1.75" stroke-width="0.75"/>
<circle cx="229.3" cy="175.6" r="1.75" stroke-width="0.75"/>
<circle cx="237.0" cy="176.7" r="1.75" stroke-width="0.75"/>
<circle cx="244.8" cy="177.6" r="1.75" stroke-width="0.75"/>
<circle cx="252.6" cy="178.0" r="1.75" stroke-width="0.75"/>
<circle cx="260.3" cy="178.3" r="1.75" stroke-width="0.75"/>
<circle cx="268.1" cy="178.0" r="1.75" stroke-width="0.75"/>
<circle cx="275.8" cy="177.0" r="1.75" stroke-width="0.75"/>
<circle cx="283.6" cy="176.2" r="1.75" stroke-width="0.75"/>
<circle cx="291.4" cy="175.6" r="1.75" stroke-width="0.75"/>
<circle cx="299.1" cy="175.4" r="1.75" stroke-width="0.75"/>
<circle cx="306.9" cy="175.3" r="1.75" stroke-width="0.75"/>
<circle cx="314.7" cy="175.2" r="1.75" stroke-width="0.75"/>
<circle cx="322.4" cy="174.8" r="1.75" stroke-width="0.75"/>
<path d="M75.6,236.1 L76.1,235.4 L76.6,234.6 L77.1,233.8 L77.6,233.1 L78.1,232.3 L78.6,231.6 L79.1,230.8 L79.6,229.9 L80.1,229.0 L80.6,227.9 L81.1,226.9 L81.6,226.0 L82.1,225.1 L82.6,224.3 L83.1,223.5 L83.6,222.8 L84.1,222.0 L84.6,221.3 L85.1,220.6 L85.6,219.9 L86.1,219.2 L86.6,218.5 L87.1,217.9 L87.6,217.2 L88.1,216.5 L88.6,215.8 L89.1,215.1 L89.6,214.4 L90.1,213.7 L90.6,212.9 L91.1,212.2 L91.6,211.5 L92.1,210.8 L92.6,210.1 L93.1,209.3 L93.6,208.6 L94.1,207.9 L94.6,207.2 L95.1,206.5 L95.6,205.7 L96.1,205.0 L96.6,204.3 L97.1,203.7 L97.6,203.0 L98.1,202.3 L98.6,201.6 L99.1,200.9 L99.6,200.3 L100.1,199.6 L100.6,198.9 L101.1,198.3 L101.6,197.6 L102.1,197.0 L102.6,196.3 L103.1,195.7 L103.6,195.0 L104.1,194.4 L104.6,193.8 L105.1,193.1 L105.6,192.5 L106.1,191.9 L106.6,191.3 L107.1,190.7 L107.6,190.1 L108.1,189.5 L108.6,188.9 L109.1,188.3 L109.6,187.7 L110.1,187.1 L110.6,186.5 L111.1,186.0 L111.6,185.4 L112.1,184.9 L112.6,184.3 L113.1,183.8 L113.6,183.3 L114.1,182.8 L114.6,182.2 L115.1,181.7 L115.6,181.2 L116.1,180.7 L116.6,180.2 L117.1,179.8 L117.6,179.3 L118.1,178.8 L118.6,178.4 L119.1,177.9 L119.6,177.5 L120.1,177.1 L120.6,176.7 L121.1,176.3 L121.6,175.9 L122.1,175.5 L122.6,175.1 L123.1,174.8 L123.6,174.4 L124.1,174.1 L124.6,173.7 L125.1,173.4 L125.6,173.1 L126.1,172.7 L126.6,172.4 L127.1,172.2 L127.6,171.9 L128.1,171.6 L128.6,171.4 L129.1,171.1 L129.6,170.9 L130.1,170.6 L130.6,170.3 L131.1,170.1 L131.6,169.8 L132.1,169.6 L132.6,169.4 L133.1,169.2 L133.6,169.0 L134.1,168.8 L134.6,168.7 L135.1,168.6 L135.6,168.5 L136.1,168.5 L136.6,168.5 L137.1,168.5 L137.6,168.5 L138.1,168.5 L138.6,168.4 L139.1,168.4 L139.6,168.4 L140.1,168.4 L140.6,168.4 L141.1,168.4 L141.6,168.4 L142.1,168.4 L142.6,168.4 L143.1,168.4 L143.6,168.4 L144.1,168.4 L144.6,168.4 L145.1,168.4 L145.6,168.4 L146.1,168.4 L146.6,168.4 L147.1,168.4 L147.6,168.4 L148.1,168.4 L148.6,168.4 L149.1,168.4 L149.6,168.4 L150.1,168.4 L150.6,168.4 L151.1,168.4 L151.6,168.4 L152.1,168.4 L152.6,168.4 L153.1,168.4 L153.6,168.4 L154.1,168.4 L154.6,168.4 L155.1,168.4 L155.6,168.4 L156.1,168.4 L156.6,168.3 L157.1,168.3 L157.6,168.3 L158.1,168.3 L158.6,168.3 L159.1,168.3 L159.6,168.3 L160.1,168.3 L160.6,168.3 L161.1,168.3 L161.6,168.3 L162.1,168.3 L162.6,168.2 L163.1,168.2 L163.6,168.2 L164.1,168.2 L164.6,168.2 L165.1,168.2 L165.6,168.2 L166.1,168.2 L166.6,168.2 L167.1,168.2 L167.6,168.2 L168.1,168.2 L168.6,168.3 L169.1,168.3 L169.6,168.4 L170.1,168.5 L170.6,168.6 L171.1,168.7 L171.6,168.8 L172.1,168.9 L172.6,169.0 L173.1,169.2 L173.6,169.3 L174.1,169.5 L174.6,169.6 L175.1,169.8 L175.6,169.9 L176.1,170.2 L176.6,170.4 L177.1,170.7 L177.6,171.0 L178.1,171.4 L178.6,171.7 L179.1,172.1 L179.6,172.5 L180.1,172.9 L180.6,173.3 L181.1,173.7 L181.6,174.0 L182.1,174.4 L182.6,174.8 L183.1,175.2 L183.6,175.5 L184.1,175.9 L184.6,176.3 L185.1,176.7 L185.6,177.1 L186.1,177.5 L186.6,177.9 L187.1,178.3 L187.6,178.7 L188.1,179.1 L188.6,179.5 L189.1,179.9 L189.6,180.3 L190.1,180.7 L190.6,181.0 L191.1,181.4 L191.6,181.7 L192.1,182.1 L192.6,182.5 L193.1,182.8 L193.6,183.2 L194.1,183.5 L194.6,183.9 L195.1,184.2 L195.6,184.5 L196.1,184.8 L196.6,185.1 L197.1,185.4 L197.6,185.7 L198.1,185.9 L198.6,186.2 L199.1,186.4 L199.6,186.7 L200.1,186.9 L200.6,187.1 L201.1,187.4 L201.6,187.6 L202.1,187.8 L202.6,188.0 L203.1,188.2 L203.6,188.3 L204.1,188.5 L204.6,188.7 L205.1,188.8 L205.6,188.9 L206.1,189.0 L206.6,189.1 L207.1,189.2 L207.6,189.3 L208.1,189.4 L208.6,189.5 L209.1,189.6 L209.6,189.7 L210.1,189.8 L210.6,189.9 L211.1,189.9 L211.6,190.0 L212.1,190.0 L212.6,190.1 L213.1,190.1 L213.6,190.1 L214.1,190.1 L214.6,190.1 L215.1,190.1 L215.6,190.1 L216.1,190.1 L216.6,190.0 L217.1,190.0 L217.6,190.0 L218.1,190.0 L218.6,190.0 L219.1,189.9 L219.6,189.9 L220.1,189.9 L220.6,189.9 L221.1,189.8 L221.6,189.8 L222.1,189.8 L222.6,189.7 L223.1,189.7 L223.6,189.6 L224.1,189.6 L224.6,189.6 L225.1,189.5 L225.6,189.5 L226.1,189.4 L226.6,189.3 L227.1,189.3 L227.6,189.2 L228.1,189.2 L228.6,189.1 L229.1,189.0 L229.6,189.0 L230.1,188.9 L230.6,188.8 L231.1,188.7 L231.6,188.6 L232.1,188.5 L232.6,188.4 L233.1,188.3 L233.6,188.2 L234.1,188.1 L234.6,188.0 L235.1,187.9 L235.6,187.8 L236.1,187.7 L236.6,187.6 L237.1,187.5 L237.6,187.4 L238.1,187.3 L238.6,187.1 L239.1,187.0 L239.6,186.9 L240.1,186.8 L240.6,186.6 L241.1,186.5 L241.6,186.4 L242.1,186.2 L242.6,186.1 L243.1,186.0 L243.6,185.8 L244.1,185.7 L244.6,185.6 L245.1,185.4 L245.6,185.3 L246.1,185.1 L246.6,185.0 L247.1,184.8 L247.6,184.7 L248.1,184.5 L248.6,184.4 L249.1,184.2 L249.6,184.1 L250.1,183.9 L250.6,183.8 L251.1,183.6 L251.6,183.5 L252.1,183.3 L252.6,183.2 L253.1,183.0 L253.6,182.9 L254.1,182.8 L254.6,182.6 L255.1,182.5 L255.6,182.3 L256.1,182.2 L256.6,182.1 L257.1,181.9 L257.6,181.8 L258.1,181.6 L258.6,181.5 L259.1,181.4 L259.6,181.2 L260.1,181.1 L260.6,180.9 L261.1,180.7 L261.6,180.6 L262.1,180.4 L262.6,180.2 L263.1,180.1 L263.6,179.9 L264.1,179.7 L264.6,179.5 L265.1,179.4 L265.6,179.2 L266.1,179.0 L266.6,178.9 L267.1,178.7 L267.6,178.5 L268.1,178.4 L268.6,178.2 L269.1,178.1 L269.6,177.9 L270.1,177.8 L270.6,177.6 L271.1,177.5 L271.6,177.3 L272.1,177.2 L272.6,177.0 L273.1,176.9 L273.6,176.8 L274.1,176.7 L274.6,176.5 L275.1,176.4 L275.6,176.3 L276.1,176.3 L276.6,176.2 L277.1,176.1 L277.6,176.0 L278.1,175.9 L278.6,175.8 L279.1,175.8 L279.6,175.7 L280.1,175.6 L280.6,175.6 L281.1,175.5 L281.6,175.5 L282.1,175.4 L282.6,175.4 L283.1,175.3 L283.6,175.3 L284.1,175.3 L284.6,175.2 L285.1,175.2 L285.6,175.2 L286.1,175.2 L286.6,175.1 L287.1,175.1 L287.6,175.1 L288.1,175.1 L288.6,175.0 L289.1,175.0 L289.6,175.0 L290.1,175.0 L290.6,175.0 L291.1,175.0 L291.6,175.0 L292.1,175.0 L292.6,175.0 L293.1,175.0 L293.6,175.0 L294.1,175.0 L294.6,175.0 L295.1,175.0 L295.6,175.0 L296.1,175.0 L296.6,175.0 L297.1,175.0 L297.6,175.0 L298.1,175.0 L298.6,175.0 L299.1,175.0 L299.6,175.0 L300.1,175.0 L300.6,175.0 L301.1,175.0 L301.6,175.0 L302.1,175.1 L302.6,175.1 L303.1,175.1 L303.6,175.1 L304.1,175.2 L304.6,175.2 L305.1,175.2 L305.6,175.3 L306.1,175.3 L306.6,175.4 L307.1,175.4 L307.6,175.5 L308.1,175.7 L308.6,175.8 L309.1,176.0 L309.6,176.3 L310.1,176.6 L310.6,176.9 L311.1,177.2 L311.6,177.5 L312.1,177.8 L312.6,178.2 L313.1,178.5 L313.6,178.9 L314.1,179.2 L314.6,179.6 L315.1,179.9 L315.6,180.2 L316.1,180.6 L316.6,181.0 L317.1,181.4 L317.6,181.8 L318.1,182.2 L318.6,182.6 L319.1,183.0 L319.6,183.5 L320.1,183.9 L320.6,184.4 L321.1,184.8 L321.6,185.3 L322.1,185.8 L322.6,186.3 L323.1,186.8 L323.6,187.4 L324.1,187.9 L324.6,188.5 L325.1,189.1 L325.6,189.8 L326.1,190.4" stroke-width="0.95"/>
<circle cx="81.8" cy="225.7" r="1.75" stroke-width="0.75"/>
<circle cx="89.5" cy="214.5" r="1.75" stroke-width="0.75"/>
<circle cx="97.3" cy="203.4" r="1.75" stroke-width="0.75"/>
<circle cx="105.1" cy="193.2" r="1.75" stroke-width="0.75"/>
<circle cx="112.8" cy="184.1" r="1.75" stroke-width="0.75"/>
<circle cx="120.6" cy="176.7" r="1.75" stroke-width="0.75"/>
<circle cx="128.3" cy="171.5" r="1.75" stroke-width="0.75"/>
<circle cx="136.1" cy="168.5" r="1.75" stroke-width="0.75"/>
<circle cx="143.9" cy="168.4" r="1.75" stroke-width="0.75"/>
<circle cx="151.6" cy="168.4" r="1.75" stroke-width="0.75"/>
<circle cx="159.4" cy="168.3" r="1.75" stroke-width="0.75"/>
<circle cx="167.2" cy="168.2" r="1.75" stroke-width="0.75"/>
<circle cx="174.9" cy="169.7" r="1.75" stroke-width="0.75"/>
<circle cx="182.7" cy="174.1" r="1.75" stroke-width="0.75"/>
<circle cx="190.5" cy="180.6" r="1.75" stroke-width="0.75"/>
<circle cx="198.2" cy="186.7" r="1.75" stroke-width="0.75"/>
<circle cx="206.0" cy="190.8" r="1.75" stroke-width="0.75"/>
<circle cx="213.7" cy="192.3" r="1.75" stroke-width="0.75"/>
<circle cx="221.5" cy="192.3" r="1.75" stroke-width="0.75"/>
<circle cx="229.3" cy="191.3" r="1.75" stroke-width="0.75"/>
<circle cx="237.0" cy="189.8" r="1.75" stroke-width="0.75"/>
<circle cx="244.8" cy="187.3" r="1.75" stroke-width="0.75"/>
<circle cx="252.6" cy="185.0" r="1.75" stroke-width="0.75"/>
<circle cx="260.3" cy="182.8" r="1.75" stroke-width="0.75"/>
<circle cx="268.1" cy="179.4" r="1.75" stroke-width="0.75"/>
<circle cx="275.8" cy="176.3" r="1.75" stroke-width="0.75"/>
<circle cx="283.6" cy="175.3" r="1.75" stroke-width="0.75"/>
<circle cx="291.4" cy="175.0" r="1.75" stroke-width="0.75"/>
<circle cx="299.1" cy="175.0" r="1.75" stroke-width="0.75"/>
<circle cx="306.9" cy="175.4" r="1.75" stroke-width="0.75"/>
<circle cx="314.7" cy="179.6" r="1.75" stroke-width="0.75"/>
<circle cx="322.4" cy="186.1" r="1.75" stroke-width="0.75"/>
</g>
<rect x="54.6" y="147.4" width="271.7" height="83.1" fill="none" stroke="#686868" stroke-width="1"/>
<line x1="93.41" y1="230.5" x2="93.41" y2="227.5" stroke="#2a2a2a" stroke-width="0.8"/>
<line x1="93.41" y1="147.4" x2="93.41" y2="150.4" stroke="#2a2a2a" stroke-width="0.8"/>
<text transform="translate(93.71,251.70) scale(0.97,1.06)" font-family="Liberation Serif, Times New Roman, serif" font-size="16.5" text-anchor="middle" fill="#262626">1</text>
<line x1="190.45" y1="230.5" x2="190.45" y2="227.5" stroke="#2a2a2a" stroke-width="0.8"/>
<line x1="190.45" y1="147.4" x2="190.45" y2="150.4" stroke="#2a2a2a" stroke-width="0.8"/>
<text transform="translate(190.75,251.70) scale(0.97,1.06)" font-family="Liberation Serif, Times New Roman, serif" font-size="16.5" text-anchor="middle" fill="#262626">1.5</text>
<line x1="287.49" y1="230.5" x2="287.49" y2="227.5" stroke="#2a2a2a" stroke-width="0.8"/>
<line x1="287.49" y1="147.4" x2="287.49" y2="150.4" stroke="#2a2a2a" stroke-width="0.8"/>
<text transform="translate(287.79,251.70) scale(0.97,1.06)" font-family="Liberation Serif, Times New Roman, serif" font-size="16.5" text-anchor="middle" fill="#262626">2</text>
<text transform="translate(48.90,153.30) scale(0.97,1.06)" font-family="Liberation Serif, Times New Roman, serif" font-size="16.5" text-anchor="end" fill="#262626">0</text>
<line x1="54.6" y1="188.95" x2="57.4" y2="188.95" stroke="#2a2a2a" stroke-width="0.8"/>
<line x1="326.3" y1="188.95" x2="323.5" y2="188.95" stroke="#2a2a2a" stroke-width="0.8"/>
<text transform="translate(48.90,194.85) scale(0.97,1.06)" font-family="Liberation Serif, Times New Roman, serif" font-size="16.5" text-anchor="end" fill="#262626">-5</text>
<text transform="translate(48.90,236.40) scale(0.97,1.06)" font-family="Liberation Serif, Times New Roman, serif" font-size="16.5" text-anchor="end" fill="#262626">-10</text>
<text transform="translate(189.45,272.10) scale(0.995,1.06)" font-family="Liberation Serif, Times New Roman, serif" font-size="17.6" text-anchor="middle" fill="#262626">Frequency [GHz]</text>
<text transform="translate(13.30,221.00) rotate(-90) scale(1.0,1)" font-family="Liberation Serif, Times New Roman, serif" font-size="17.5" fill="#262626" text-anchor="middle">|</text>
<text transform="translate(13.60,219.50) rotate(-90) scale(1.0,1)" font-family="Liberation Serif, Times New Roman, serif" font-size="20" fill="#262626" font-style="italic">S</text>
<text transform="translate(22.00,209.40) rotate(-90) scale(1.0,1)" font-family="Liberation Serif, Times New Roman, serif" font-size="14" fill="#262626" >31</text>
<text transform="translate(13.30,192.85) rotate(-90) scale(1.0,1)" font-family="Liberation Serif, Times New Roman, serif" font-size="17.5" fill="#262626" text-anchor="middle">|</text>
<text transform="translate(13.50,186.10) rotate(-90) scale(0.92,1)" font-family="Liberation Serif, Times New Roman, serif" font-size="18.5" fill="#262626" >[dB]</text>
<line x1="451.50" y1="147.4" x2="451.50" y2="230.5" stroke="#dcdcdc" stroke-width="0.6"/>
<line x1="549.00" y1="147.4" x2="549.00" y2="230.5" stroke="#dcdcdc" stroke-width="0.6"/>
<line x1="646.50" y1="147.4" x2="646.50" y2="230.5" stroke="#dcdcdc" stroke-width="0.6"/>
<line x1="412.5" y1="175.10" x2="685.5" y2="175.10" stroke="#dcdcdc" stroke-width="0.6"/>
<line x1="412.5" y1="202.80" x2="685.5" y2="202.80" stroke="#dcdcdc" stroke-width="0.6"/>
<g clip-path="url(#c4)" fill="none" stroke="#000">
<path d="M412.6,198.5 L413.1,198.9 L413.6,199.2 L414.1,199.6 L414.6,200.0 L415.1,200.4 L415.6,200.8 L416.1,201.2 L416.6,201.6 L417.1,202.0 L417.6,202.4 L418.1,202.8 L418.6,203.2 L419.1,203.6 L419.6,204.1 L420.1,204.5 L420.6,204.9 L421.1,205.4 L421.6,205.9 L422.1,206.4 L422.6,206.9 L423.1,207.4 L423.6,207.9 L424.1,208.5 L424.6,209.1 L425.1,209.7 L425.6,210.4 L426.1,211.1 L426.6,211.8 L427.1,212.5 L427.6,213.3 L428.1,214.1 L428.6,214.9 L429.1,215.8 L429.6,216.6 L430.1,217.5 L430.6,218.4 L431.1,219.3 L431.6,220.2 L432.1,221.1 L432.6,222.0 L433.1,223.0 L433.6,224.1 L434.1,225.1 L434.6,226.2 L435.1,227.3 L435.6,228.4 L436.1,229.5 L436.6,230.5 L437.1,231.6 L437.6,232.6 L438.1,233.6 L438.6,234.7 L439.1,235.7" stroke-width="0.95"/>
<circle cx="416.4" cy="201.4" r="1.75" stroke-width="0.75"/>
<circle cx="424.2" cy="208.6" r="1.75" stroke-width="0.75"/>
<circle cx="432.0" cy="220.9" r="1.75" stroke-width="0.75"/>
<path d="M448.0,236.3 L448.5,235.0 L449.0,233.7 L449.5,232.3 L450.0,231.0 L450.5,229.7 L451.0,228.3 L451.5,226.9 L452.0,225.4 L452.5,224.0 L453.0,222.5 L453.5,221.1 L454.0,219.8 L454.5,218.6 L455.0,217.5 L455.5,216.6 L456.0,215.7 L456.5,214.8 L457.0,214.0 L457.5,213.3 L458.0,212.6 L458.5,211.9 L459.0,211.3 L459.5,210.6 L460.0,210.0 L460.5,209.4 L461.0,208.8 L461.5,208.1 L462.0,207.5 L462.5,206.9 L463.0,206.2 L463.5,205.5 L464.0,204.9 L464.5,204.2 L465.0,203.5 L465.5,202.7 L466.0,202.0 L466.5,201.3 L467.0,200.6 L467.5,200.0 L468.0,199.3 L468.5,198.6 L469.0,198.0 L469.5,197.3 L470.0,196.7 L470.5,196.1 L471.0,195.6 L471.5,195.0 L472.0,194.5 L472.5,194.0 L473.0,193.4 L473.5,192.9 L474.0,192.5 L474.5,192.0 L475.0,191.5 L475.5,191.0 L476.0,190.6 L476.5,190.2 L477.0,189.7 L477.5,189.3 L478.0,188.9 L478.5,188.5 L479.0,188.1 L479.5,187.8 L480.0,187.4 L480.5,187.0 L481.0,186.7 L481.5,186.4 L482.0,186.1 L482.5,185.7 L483.0,185.4 L483.5,185.1 L484.0,184.8 L484.5,184.5 L485.0,184.2 L485.5,183.9 L486.0,183.6 L486.5,183.2 L487.0,182.9 L487.5,182.6 L488.0,182.3 L488.5,181.9 L489.0,181.6 L489.5,181.3 L490.0,180.9 L490.5,180.6 L491.0,180.3 L491.5,179.9 L492.0,179.6 L492.5,179.3 L493.0,179.0 L493.5,178.6 L494.0,178.3 L494.5,178.0 L495.0,177.7 L495.5,177.4 L496.0,177.1 L496.5,176.8 L497.0,176.5 L497.5,176.2 L498.0,175.9 L498.5,175.6 L499.0,175.3 L499.5,175.0 L500.0,174.7 L500.5,174.4 L501.0,174.1 L501.5,173.8 L502.0,173.5 L502.5,173.2 L503.0,172.9 L503.5,172.6 L504.0,172.3 L504.5,172.1 L505.0,171.8 L505.5,171.5 L506.0,171.2 L506.5,170.9 L507.0,170.6 L507.5,170.4 L508.0,170.1 L508.5,169.8 L509.0,169.6 L509.5,169.3 L510.0,169.1 L510.5,168.8 L511.0,168.6 L511.5,168.4 L512.0,168.2 L512.5,167.9 L513.0,167.7 L513.5,167.5 L514.0,167.3 L514.5,167.1 L515.0,166.9 L515.5,166.7 L516.0,166.5 L516.5,166.3 L517.0,166.1 L517.5,165.9 L518.0,165.7 L518.5,165.5 L519.0,165.3 L519.5,165.1 L520.0,164.9 L520.5,164.8 L521.0,164.6 L521.5,164.4 L522.0,164.2 L522.5,164.0 L523.0,163.8 L523.5,163.7 L524.0,163.5 L524.5,163.3 L525.0,163.2 L525.5,163.0 L526.0,162.9 L526.5,162.7 L527.0,162.6 L527.5,162.4 L528.0,162.2 L528.5,162.1 L529.0,161.9 L529.5,161.8 L530.0,161.7 L530.5,161.5 L531.0,161.4 L531.5,161.3 L532.0,161.2 L532.5,161.1 L533.0,161.0 L533.5,160.9 L534.0,160.8 L534.5,160.7 L535.0,160.6 L535.5,160.6 L536.0,160.5 L536.5,160.4 L537.0,160.4 L537.5,160.3 L538.0,160.3 L538.5,160.2 L539.0,160.2 L539.5,160.1 L540.0,160.1 L540.5,160.0 L541.0,160.0 L541.5,160.0 L542.0,160.0 L542.5,159.9 L543.0,159.9 L543.5,159.9 L544.0,159.8 L544.5,159.8 L545.0,159.8 L545.5,159.8 L546.0,159.8 L546.5,159.7 L547.0,159.7 L547.5,159.7 L548.0,159.7 L548.5,159.7 L549.0,159.7 L549.5,159.7 L550.0,159.7 L550.5,159.7 L551.0,159.7 L551.5,159.7 L552.0,159.7 L552.5,159.7 L553.0,159.7 L553.5,159.7 L554.0,159.7 L554.5,159.7 L555.0,159.7 L555.5,159.7 L556.0,159.7 L556.5,159.7 L557.0,159.7 L557.5,159.7 L558.0,159.7 L558.5,159.7 L559.0,159.8 L559.5,159.8 L560.0,159.8 L560.5,159.9 L561.0,159.9 L561.5,159.9 L562.0,160.0 L562.5,160.0 L563.0,160.1 L563.5,160.1 L564.0,160.2 L564.5,160.2 L565.0,160.2 L565.5,160.3 L566.0,160.3 L566.5,160.3 L567.0,160.4 L567.5,160.4 L568.0,160.4 L568.5,160.5 L569.0,160.5 L569.5,160.6 L570.0,160.6 L570.5,160.6 L571.0,160.7 L571.5,160.7 L572.0,160.8 L572.5,160.8 L573.0,160.9 L573.5,160.9 L574.0,161.0 L574.5,161.0 L575.0,161.1 L575.5,161.2 L576.0,161.2 L576.5,161.3 L577.0,161.3 L577.5,161.4 L578.0,161.5 L578.5,161.5 L579.0,161.6 L579.5,161.6 L580.0,161.7 L580.5,161.7 L581.0,161.8 L581.5,161.8 L582.0,161.8 L582.5,161.9 L583.0,161.9 L583.5,161.9 L584.0,162.0 L584.5,162.0 L585.0,162.0 L585.5,162.1 L586.0,162.1 L586.5,162.2 L587.0,162.2 L587.5,162.3 L588.0,162.3 L588.5,162.4 L589.0,162.4 L589.5,162.5 L590.0,162.6 L590.5,162.7 L591.0,162.8 L591.5,162.9 L592.0,163.0 L592.5,163.1 L593.0,163.2 L593.5,163.3 L594.0,163.4 L594.5,163.5 L595.0,163.6 L595.5,163.7 L596.0,163.8 L596.5,163.9 L597.0,164.0 L597.5,164.1 L598.0,164.2 L598.5,164.3 L599.0,164.4 L599.5,164.5 L600.0,164.6 L600.5,164.7 L601.0,164.8 L601.5,164.9 L602.0,165.0 L602.5,165.1 L603.0,165.2 L603.5,165.3 L604.0,165.4 L604.5,165.5 L605.0,165.6 L605.5,165.7 L606.0,165.9 L606.5,166.0 L607.0,166.1 L607.5,166.2 L608.0,166.3 L608.5,166.5 L609.0,166.6 L609.5,166.8 L610.0,166.9 L610.5,167.0 L611.0,167.2 L611.5,167.3 L612.0,167.5 L612.5,167.7 L613.0,167.9 L613.5,168.1 L614.0,168.3 L614.5,168.5 L615.0,168.7 L615.5,168.9 L616.0,169.2 L616.5,169.4 L617.0,169.6 L617.5,169.8 L618.0,170.0 L618.5,170.2 L619.0,170.3 L619.5,170.5 L620.0,170.7 L620.5,170.8 L621.0,171.0 L621.5,171.1 L622.0,171.3 L622.5,171.4 L623.0,171.6 L623.5,171.7 L624.0,171.9 L624.5,172.0 L625.0,172.1 L625.5,172.3 L626.0,172.4 L626.5,172.5 L627.0,172.6 L627.5,172.7 L628.0,172.8 L628.5,172.9 L629.0,173.0 L629.5,173.1 L630.0,173.2 L630.5,173.3 L631.0,173.4 L631.5,173.5 L632.0,173.5 L632.5,173.6 L633.0,173.7 L633.5,173.8 L634.0,173.9 L634.5,174.0 L635.0,174.0 L635.5,174.1 L636.0,174.2 L636.5,174.3 L637.0,174.3 L637.5,174.4 L638.0,174.5 L638.5,174.6 L639.0,174.6 L639.5,174.7 L640.0,174.8 L640.5,174.9 L641.0,174.9 L641.5,175.0 L642.0,175.1 L642.5,175.2 L643.0,175.3 L643.5,175.4 L644.0,175.5 L644.5,175.5 L645.0,175.6 L645.5,175.7 L646.0,175.8 L646.5,175.9 L647.0,176.0 L647.5,176.1 L648.0,176.2 L648.5,176.3 L649.0,176.5 L649.5,176.6 L650.0,176.7 L650.5,176.8 L651.0,177.0 L651.5,177.1 L652.0,177.3 L652.5,177.5 L653.0,177.7 L653.5,177.9 L654.0,178.1 L654.5,178.3 L655.0,178.5 L655.5,178.7 L656.0,178.9 L656.5,179.2 L657.0,179.4 L657.5,179.7 L658.0,179.9 L658.5,180.2 L659.0,180.4 L659.5,180.7 L660.0,181.0 L660.5,181.3 L661.0,181.6 L661.5,181.9 L662.0,182.2 L662.5,182.5 L663.0,182.9 L663.5,183.2 L664.0,183.6 L664.5,183.9 L665.0,184.3 L665.5,184.7 L666.0,185.1 L666.5,185.6 L667.0,186.0 L667.5,186.5 L668.0,187.0 L668.5,187.5 L669.0,188.0 L669.5,188.5 L670.0,189.1 L670.5,189.7 L671.0,190.3 L671.5,190.9 L672.0,191.5 L672.5,192.2 L673.0,192.8 L673.5,193.5 L674.0,194.2 L674.5,194.9 L675.0,195.6 L675.5,196.3 L676.0,197.1 L676.5,197.8 L677.0,198.6 L677.5,199.5 L678.0,200.3 L678.5,201.2 L679.0,202.1 L679.5,203.1 L680.0,204.0 L680.5,205.1 L681.0,206.1 L681.5,207.2 L682.0,208.4 L682.5,209.7 L683.0,211.1 L683.5,212.6 L684.0,214.2 L684.5,215.9 L685.0,217.6" stroke-width="0.95"/>
<circle cx="455.4" cy="216.8" r="1.75" stroke-width="0.75"/>
<circle cx="463.2" cy="206.0" r="1.75" stroke-width="0.75"/>
<circle cx="471.0" cy="195.6" r="1.75" stroke-width="0.75"/>
<circle cx="478.8" cy="188.3" r="1.75" stroke-width="0.75"/>
<circle cx="486.6" cy="183.2" r="1.75" stroke-width="0.75"/>
<circle cx="494.4" cy="178.1" r="1.75" stroke-width="0.75"/>
<circle cx="502.2" cy="173.4" r="1.75" stroke-width="0.75"/>
<circle cx="510.0" cy="169.1" r="1.75" stroke-width="0.75"/>
<circle cx="517.8" cy="165.8" r="1.75" stroke-width="0.75"/>
<circle cx="525.6" cy="163.0" r="1.75" stroke-width="0.75"/>
<circle cx="533.4" cy="160.9" r="1.75" stroke-width="0.75"/>
<circle cx="541.2" cy="160.0" r="1.75" stroke-width="0.75"/>
<circle cx="549.0" cy="159.7" r="1.75" stroke-width="0.75"/>
<circle cx="556.8" cy="159.7" r="1.75" stroke-width="0.75"/>
<circle cx="564.6" cy="160.2" r="1.75" stroke-width="0.75"/>
<circle cx="572.4" cy="160.8" r="1.75" stroke-width="0.75"/>
<circle cx="580.2" cy="161.7" r="1.75" stroke-width="0.75"/>
<circle cx="588.0" cy="162.3" r="1.75" stroke-width="0.75"/>
<circle cx="595.8" cy="163.8" r="1.75" stroke-width="0.75"/>
<circle cx="603.6" cy="165.3" r="1.75" stroke-width="0.75"/>
<circle cx="611.4" cy="167.3" r="1.75" stroke-width="0.75"/>
<circle cx="619.2" cy="170.4" r="1.75" stroke-width="0.75"/>
<circle cx="627.0" cy="172.6" r="1.75" stroke-width="0.75"/>
<circle cx="634.8" cy="174.0" r="1.75" stroke-width="0.75"/>
<circle cx="642.6" cy="175.2" r="1.75" stroke-width="0.75"/>
<circle cx="650.4" cy="176.8" r="1.75" stroke-width="0.75"/>
<circle cx="658.2" cy="180.0" r="1.75" stroke-width="0.75"/>
<circle cx="666.0" cy="185.1" r="1.75" stroke-width="0.75"/>
<circle cx="673.8" cy="193.8" r="1.75" stroke-width="0.75"/>
<circle cx="681.6" cy="207.4" r="1.75" stroke-width="0.75"/>
<path d="M412.6,183.8 L413.1,184.0 L413.6,184.3 L414.1,184.6 L414.6,184.8 L415.1,185.1 L415.6,185.4 L416.1,185.7 L416.6,186.0 L417.1,186.4 L417.6,186.7 L418.1,187.0 L418.6,187.4 L419.1,187.8 L419.6,188.2 L420.1,188.6 L420.6,188.9 L421.1,189.3 L421.6,189.7 L422.1,190.1 L422.6,190.5 L423.1,190.9 L423.6,191.3 L424.1,191.7 L424.6,192.1 L425.1,192.5 L425.6,192.9 L426.1,193.2 L426.6,193.6 L427.1,194.0 L427.6,194.4 L428.1,194.8 L428.6,195.1 L429.1,195.5 L429.6,195.9 L430.1,196.3 L430.6,196.7 L431.1,197.1 L431.6,197.6 L432.1,198.0 L432.6,198.4 L433.1,198.9 L433.6,199.3 L434.1,199.8 L434.6,200.3 L435.1,200.8 L435.6,201.2 L436.1,201.7 L436.6,202.2 L437.1,202.7 L437.6,203.2 L438.1,203.7 L438.6,204.3 L439.1,204.8 L439.6,205.3 L440.1,205.8 L440.6,206.3 L441.1,206.8 L441.6,207.4 L442.1,207.9 L442.6,208.4 L443.1,208.9 L443.6,209.5 L444.1,210.0 L444.6,210.6 L445.1,211.1 L445.6,211.7 L446.1,212.3 L446.6,212.9 L447.1,213.5 L447.6,214.2 L448.1,214.9 L448.6,215.6 L449.1,216.4 L449.6,217.2 L450.1,218.1 L450.6,218.9 L451.1,219.8 L451.6,220.7 L452.1,221.6 L452.6,222.5 L453.1,223.3 L453.6,224.2 L454.1,225.0 L454.6,225.8 L455.1,226.6 L455.6,227.3 L456.1,227.9 L456.6,228.6 L457.1,229.2 L457.6,229.8 L458.1,230.4 L458.6,231.1 L459.1,231.7 L459.6,232.3 L460.1,233.0 L460.6,233.6 L461.1,234.2 L461.6,234.9 L462.1,235.5 L462.6,236.1" stroke-width="0.95"/>
<circle cx="416.4" cy="185.9" r="1.75" stroke-width="0.75"/>
<circle cx="424.2" cy="191.8" r="1.75" stroke-width="0.75"/>
<circle cx="432.0" cy="197.9" r="1.75" stroke-width="0.75"/>
<circle cx="439.8" cy="205.5" r="1.75" stroke-width="0.75"/>
<circle cx="447.6" cy="214.2" r="1.75" stroke-width="0.75"/>
<circle cx="455.4" cy="227.0" r="1.75" stroke-width="0.75"/>
<path d="M458.4,236.3 L458.9,235.5 L459.4,234.7 L459.9,233.8 L460.4,233.0 L460.9,232.2 L461.4,231.4 L461.9,230.6 L462.4,229.8 L462.9,228.9 L463.4,228.1 L463.9,227.2 L464.4,226.3 L464.9,225.4 L465.4,224.5 L465.9,223.6 L466.4,222.6 L466.9,221.7 L467.4,220.7 L467.9,219.8 L468.4,218.9 L468.9,217.9 L469.4,217.0 L469.9,216.1 L470.4,215.2 L470.9,214.3 L471.4,213.4 L471.9,212.6 L472.4,211.7 L472.9,210.8 L473.4,209.9 L473.9,209.1 L474.4,208.2 L474.9,207.3 L475.4,206.5 L475.9,205.7 L476.4,204.9 L476.9,204.1 L477.4,203.3 L477.9,202.6 L478.4,201.9 L478.9,201.2 L479.4,200.6 L479.9,200.0 L480.4,199.3 L480.9,198.8 L481.4,198.2 L481.9,197.6 L482.4,197.1 L482.9,196.5 L483.4,196.0 L483.9,195.5 L484.4,195.0 L484.9,194.5 L485.4,194.0 L485.9,193.5 L486.4,193.1 L486.9,192.6 L487.4,192.2 L487.9,191.7 L488.4,191.3 L488.9,190.9 L489.4,190.5 L489.9,190.1 L490.4,189.7 L490.9,189.4 L491.4,189.0 L491.9,188.6 L492.4,188.2 L492.9,187.9 L493.4,187.5 L493.9,187.1 L494.4,186.8 L494.9,186.4 L495.4,186.0 L495.9,185.7 L496.4,185.3 L496.9,184.9 L497.4,184.5 L497.9,184.2 L498.4,183.8 L498.9,183.4 L499.4,183.1 L499.9,182.7 L500.4,182.4 L500.9,182.1 L501.4,181.8 L501.9,181.5 L502.4,181.3 L502.9,181.0 L503.4,180.8 L503.9,180.6 L504.4,180.4 L504.9,180.2 L505.4,180.0 L505.9,179.8 L506.4,179.6 L506.9,179.4 L507.4,179.2 L507.9,179.0 L508.4,178.8 L508.9,178.6 L509.4,178.4 L509.9,178.2 L510.4,178.0 L510.9,177.8 L511.4,177.6 L511.9,177.3 L512.4,177.1 L512.9,176.9 L513.4,176.6 L513.9,176.4 L514.4,176.2 L514.9,175.9 L515.4,175.7 L515.9,175.4 L516.4,175.2 L516.9,175.0 L517.4,174.8 L517.9,174.5 L518.4,174.3 L518.9,174.1 L519.4,173.9 L519.9,173.6 L520.4,173.4 L520.9,173.2 L521.4,173.0 L521.9,172.7 L522.4,172.5 L522.9,172.3 L523.4,172.1 L523.9,171.9 L524.4,171.7 L524.9,171.5 L525.4,171.4 L525.9,171.2 L526.4,171.0 L526.9,170.9 L527.4,170.7 L527.9,170.6 L528.4,170.4 L528.9,170.3 L529.4,170.2 L529.9,170.0 L530.4,169.9 L530.9,169.8 L531.4,169.6 L531.9,169.5 L532.4,169.4 L532.9,169.2 L533.4,169.1 L533.9,169.0 L534.4,168.8 L534.9,168.7 L535.4,168.5 L535.9,168.4 L536.4,168.2 L536.9,168.1 L537.4,168.0 L537.9,167.8 L538.4,167.7 L538.9,167.6 L539.4,167.4 L539.9,167.3 L540.4,167.2 L540.9,167.1 L541.4,166.9 L541.9,166.8 L542.4,166.7 L542.9,166.6 L543.4,166.5 L543.9,166.4 L544.4,166.3 L544.9,166.2 L545.4,166.1 L545.9,166.0 L546.4,166.0 L546.9,165.9 L547.4,165.8 L547.9,165.7 L548.4,165.6 L548.9,165.5 L549.4,165.4 L549.9,165.3 L550.4,165.3 L550.9,165.2 L551.4,165.1 L551.9,165.0 L552.4,164.9 L552.9,164.8 L553.4,164.8 L553.9,164.7 L554.4,164.6 L554.9,164.5 L555.4,164.5 L555.9,164.4 L556.4,164.3 L556.9,164.3 L557.4,164.2 L557.9,164.2 L558.4,164.1 L558.9,164.0 L559.4,164.0 L559.9,163.9 L560.4,163.9 L560.9,163.8 L561.4,163.8 L561.9,163.7 L562.4,163.7 L562.9,163.6 L563.4,163.6 L563.9,163.6 L564.4,163.5 L564.9,163.5 L565.4,163.4 L565.9,163.4 L566.4,163.3 L566.9,163.3 L567.4,163.3 L567.9,163.2 L568.4,163.2 L568.9,163.1 L569.4,163.1 L569.9,163.1 L570.4,163.1 L570.9,163.0 L571.4,163.0 L571.9,163.0 L572.4,163.0 L572.9,163.0 L573.4,163.0 L573.9,163.0 L574.4,163.0 L574.9,163.0 L575.4,163.0 L575.9,163.0 L576.4,163.0 L576.9,163.0 L577.4,163.0 L577.9,163.0 L578.4,163.0 L578.9,163.0 L579.4,163.0 L579.9,163.0 L580.4,163.0 L580.9,163.0 L581.4,163.0 L581.9,163.0 L582.4,163.1 L582.9,163.1 L583.4,163.1 L583.9,163.2 L584.4,163.2 L584.9,163.2 L585.4,163.3 L585.9,163.3 L586.4,163.4 L586.9,163.4 L587.4,163.5 L587.9,163.5 L588.4,163.5 L588.9,163.6 L589.4,163.6 L589.9,163.7 L590.4,163.7 L590.9,163.8 L591.4,163.8 L591.9,163.9 L592.4,163.9 L592.9,164.0 L593.4,164.0 L593.9,164.1 L594.4,164.1 L594.9,164.2 L595.4,164.3 L595.9,164.3 L596.4,164.4 L596.9,164.5 L597.4,164.5 L597.9,164.6 L598.4,164.7 L598.9,164.8 L599.4,164.9 L599.9,164.9 L600.4,165.0 L600.9,165.1 L601.4,165.2 L601.9,165.2 L602.4,165.3 L602.9,165.3 L603.4,165.3 L603.9,165.3 L604.4,165.3 L604.9,165.3 L605.4,165.3 L605.9,165.2 L606.4,165.2 L606.9,165.2 L607.4,165.2 L607.9,165.1 L608.4,165.1 L608.9,165.1 L609.4,165.0 L609.9,165.0 L610.4,165.0 L610.9,165.0 L611.4,165.0 L611.9,165.0 L612.4,165.1 L612.9,165.1 L613.4,165.2 L613.9,165.3 L614.4,165.4 L614.9,165.5 L615.4,165.6 L615.9,165.7 L616.4,165.8 L616.9,165.9 L617.4,166.0 L617.9,166.1 L618.4,166.2 L618.9,166.3 L619.4,166.3 L619.9,166.4 L620.4,166.4 L620.9,166.4 L621.4,166.5 L621.9,166.5 L622.4,166.5 L622.9,166.6 L623.4,166.6 L623.9,166.6 L624.4,166.6 L624.9,166.7 L625.4,166.7 L625.9,166.7 L626.4,166.8 L626.9,166.8 L627.4,166.8 L627.9,166.9 L628.4,166.9 L628.9,167.0 L629.4,167.1 L629.9,167.1 L630.4,167.2 L630.9,167.3 L631.4,167.3 L631.9,167.4 L632.4,167.5 L632.9,167.5 L633.4,167.6 L633.9,167.6 L634.4,167.6 L634.9,167.6 L635.4,167.6 L635.9,167.6 L636.4,167.6 L636.9,167.6 L637.4,167.5 L637.9,167.5 L638.4,167.5 L638.9,167.5 L639.4,167.5 L639.9,167.5 L640.4,167.4 L640.9,167.4 L641.4,167.4 L641.9,167.4 L642.4,167.4 L642.9,167.4 L643.4,167.4 L643.9,167.4 L644.4,167.4 L644.9,167.5 L645.4,167.5 L645.9,167.5 L646.4,167.5 L646.9,167.6 L647.4,167.6 L647.9,167.6 L648.4,167.7 L648.9,167.7 L649.4,167.7 L649.9,167.7 L650.4,167.7 L650.9,167.7 L651.4,167.7 L651.9,167.7 L652.4,167.6 L652.9,167.6 L653.4,167.6 L653.9,167.5 L654.4,167.5 L654.9,167.5 L655.4,167.4 L655.9,167.4 L656.4,167.4 L656.9,167.3 L657.4,167.3 L657.9,167.3 L658.4,167.3 L658.9,167.3 L659.4,167.3 L659.9,167.3 L660.4,167.3 L660.9,167.4 L661.4,167.4 L661.9,167.4 L662.4,167.4 L662.9,167.5 L663.4,167.5 L663.9,167.5 L664.4,167.6 L664.9,167.6 L665.4,167.7 L665.9,167.7 L666.4,167.7 L666.9,167.8 L667.4,167.9 L667.9,167.9 L668.4,168.0 L668.9,168.1 L669.4,168.2 L669.9,168.3 L670.4,168.4 L670.9,168.5 L671.4,168.6 L671.9,168.8 L672.4,168.9 L672.9,169.0 L673.4,169.1 L673.9,169.3 L674.4,169.4 L674.9,169.6 L675.4,169.8 L675.9,170.0 L676.4,170.2 L676.9,170.4 L677.4,170.7 L677.9,170.9 L678.4,171.2 L678.9,171.4 L679.4,171.7 L679.9,171.9 L680.4,172.2 L680.9,172.5 L681.4,172.7 L681.9,173.0 L682.4,173.2 L682.9,173.5 L683.4,173.8 L683.9,174.0 L684.4,174.3 L684.9,174.6 L685.4,174.9" stroke-width="0.95"/>
<circle cx="463.2" cy="228.5" r="1.75" stroke-width="0.75"/>
<circle cx="471.0" cy="214.2" r="1.75" stroke-width="0.75"/>
<circle cx="478.8" cy="201.4" r="1.75" stroke-width="0.75"/>
<circle cx="486.6" cy="192.9" r="1.75" stroke-width="0.75"/>
<circle cx="494.4" cy="186.8" r="1.75" stroke-width="0.75"/>
<circle cx="502.2" cy="181.4" r="1.75" stroke-width="0.75"/>
<circle cx="510.0" cy="178.2" r="1.75" stroke-width="0.75"/>
<circle cx="517.8" cy="174.6" r="1.75" stroke-width="0.75"/>
<circle cx="525.6" cy="171.3" r="1.75" stroke-width="0.75"/>
<circle cx="533.4" cy="169.1" r="1.75" stroke-width="0.75"/>
<circle cx="541.2" cy="167.0" r="1.75" stroke-width="0.75"/>
<circle cx="549.0" cy="165.5" r="1.75" stroke-width="0.75"/>
<circle cx="556.8" cy="164.3" r="1.75" stroke-width="0.75"/>
<circle cx="564.6" cy="163.5" r="1.75" stroke-width="0.75"/>
<circle cx="572.4" cy="163.0" r="1.75" stroke-width="0.75"/>
<circle cx="580.2" cy="163.0" r="1.75" stroke-width="0.75"/>
<circle cx="588.0" cy="163.5" r="1.75" stroke-width="0.75"/>
<circle cx="595.8" cy="164.3" r="1.75" stroke-width="0.75"/>
<circle cx="603.6" cy="165.3" r="1.75" stroke-width="0.75"/>
<circle cx="611.4" cy="165.0" r="1.75" stroke-width="0.75"/>
<circle cx="619.2" cy="166.3" r="1.75" stroke-width="0.75"/>
<circle cx="627.0" cy="166.8" r="1.75" stroke-width="0.75"/>
<circle cx="634.8" cy="167.6" r="1.75" stroke-width="0.75"/>
<circle cx="642.6" cy="167.4" r="1.75" stroke-width="0.75"/>
<circle cx="650.4" cy="167.7" r="1.75" stroke-width="0.75"/>
<circle cx="658.2" cy="167.3" r="1.75" stroke-width="0.75"/>
<circle cx="666.0" cy="167.7" r="1.75" stroke-width="0.75"/>
<circle cx="673.8" cy="169.2" r="1.75" stroke-width="0.75"/>
<circle cx="681.6" cy="172.8" r="1.75" stroke-width="0.75"/>
<path d="M412.6,169.3 L413.1,169.7 L413.6,170.0 L414.1,170.4 L414.6,170.7 L415.1,171.0 L415.6,171.4 L416.1,171.7 L416.6,172.0 L417.1,172.3 L417.6,172.7 L418.1,173.0 L418.6,173.3 L419.1,173.6 L419.6,173.9 L420.1,174.2 L420.6,174.5 L421.1,174.8 L421.6,175.1 L422.1,175.4 L422.6,175.7 L423.1,176.0 L423.6,176.3 L424.1,176.6 L424.6,177.0 L425.1,177.3 L425.6,177.6 L426.1,178.0 L426.6,178.3 L427.1,178.6 L427.6,179.0 L428.1,179.3 L428.6,179.7 L429.1,180.0 L429.6,180.4 L430.1,180.7 L430.6,181.1 L431.1,181.5 L431.6,181.8 L432.1,182.2 L432.6,182.5 L433.1,182.9 L433.6,183.3 L434.1,183.6 L434.6,184.0 L435.1,184.4 L435.6,184.8 L436.1,185.2 L436.6,185.5 L437.1,185.9 L437.6,186.3 L438.1,186.7 L438.6,187.1 L439.1,187.5 L439.6,187.8 L440.1,188.2 L440.6,188.6 L441.1,189.0 L441.6,189.4 L442.1,189.8 L442.6,190.2 L443.1,190.6 L443.6,190.9 L444.1,191.3 L444.6,191.7 L445.1,192.1 L445.6,192.5 L446.1,192.9 L446.6,193.3 L447.1,193.6 L447.6,194.0 L448.1,194.4 L448.6,194.7 L449.1,195.1 L449.6,195.4 L450.1,195.8 L450.6,196.1 L451.1,196.5 L451.6,196.8 L452.1,197.2 L452.6,197.5 L453.1,197.9 L453.6,198.3 L454.1,198.6 L454.6,199.0 L455.1,199.4 L455.6,199.8 L456.1,200.1 L456.6,200.5 L457.1,200.9 L457.6,201.3 L458.1,201.8 L458.6,202.2 L459.1,202.6 L459.6,203.0 L460.1,203.4 L460.6,203.9 L461.1,204.3 L461.6,204.7 L462.1,205.2 L462.6,205.6 L463.1,206.1 L463.6,206.6 L464.1,207.0 L464.6,207.5 L465.1,208.0 L465.6,208.5 L466.1,208.9 L466.6,209.4 L467.1,209.9 L467.6,210.5 L468.1,211.0 L468.6,211.5 L469.1,212.0 L469.6,212.6 L470.1,213.2 L470.6,213.7 L471.1,214.3 L471.6,214.9 L472.1,215.6 L472.6,216.2 L473.1,216.9 L473.6,217.6 L474.1,218.3 L474.6,219.1 L475.1,219.8 L475.6,220.6 L476.1,221.3 L476.6,222.1 L477.1,222.8 L477.6,223.6 L478.1,224.3 L478.6,225.0 L479.1,225.7 L479.6,226.4 L480.1,227.2 L480.6,227.9 L481.1,228.6 L481.6,229.3 L482.1,230.0 L482.6,230.7 L483.1,231.4 L483.6,232.2 L484.1,232.9 L484.6,233.6 L485.1,234.3 L485.6,235.0 L486.1,235.7" stroke-width="0.95"/>
<circle cx="416.4" cy="171.9" r="1.75" stroke-width="0.75"/>
<circle cx="424.2" cy="176.7" r="1.75" stroke-width="0.75"/>
<circle cx="432.0" cy="182.1" r="1.75" stroke-width="0.75"/>
<circle cx="439.8" cy="188.0" r="1.75" stroke-width="0.75"/>
<circle cx="447.6" cy="194.0" r="1.75" stroke-width="0.75"/>
<circle cx="455.4" cy="199.6" r="1.75" stroke-width="0.75"/>
<circle cx="463.2" cy="206.2" r="1.75" stroke-width="0.75"/>
<circle cx="471.0" cy="214.2" r="1.75" stroke-width="0.75"/>
<circle cx="478.8" cy="225.3" r="1.75" stroke-width="0.75"/>
<path d="M496.3,236.3 L496.8,235.5 L497.3,234.7 L497.8,233.8 L498.3,233.0 L498.8,232.2 L499.3,231.4 L499.8,230.6 L500.3,229.8 L500.8,228.9 L501.3,228.1 L501.8,227.3 L502.3,226.5 L502.8,225.7 L503.3,225.0 L503.8,224.2 L504.3,223.5 L504.8,222.8 L505.3,222.0 L505.8,221.3 L506.3,220.6 L506.8,219.9 L507.3,219.2 L507.8,218.5 L508.3,217.8 L508.8,217.1 L509.3,216.5 L509.8,215.8 L510.3,215.1 L510.8,214.4 L511.3,213.7 L511.8,213.0 L512.3,212.3 L512.8,211.6 L513.3,211.0 L513.8,210.3 L514.3,209.6 L514.8,209.0 L515.3,208.3 L515.8,207.7 L516.3,207.1 L516.8,206.5 L517.3,205.9 L517.8,205.4 L518.3,204.8 L518.8,204.3 L519.3,203.9 L519.8,203.4 L520.3,202.9 L520.8,202.5 L521.3,202.0 L521.8,201.6 L522.3,201.2 L522.8,200.8 L523.3,200.3 L523.8,199.9 L524.3,199.5 L524.8,199.0 L525.3,198.6 L525.8,198.1 L526.3,197.6 L526.8,197.1 L527.3,196.6 L527.8,196.0 L528.3,195.5 L528.8,195.0 L529.3,194.4 L529.8,193.9 L530.3,193.4 L530.8,192.9 L531.3,192.4 L531.8,191.9 L532.3,191.5 L532.8,191.0 L533.3,190.6 L533.8,190.3 L534.3,189.9 L534.8,189.6 L535.3,189.3 L535.8,189.0 L536.3,188.7 L536.8,188.4 L537.3,188.1 L537.8,187.8 L538.3,187.6 L538.8,187.3 L539.3,187.0 L539.8,186.7 L540.3,186.5 L540.8,186.2 L541.3,185.9 L541.8,185.7 L542.3,185.4 L542.8,185.1 L543.3,184.8 L543.8,184.6 L544.3,184.3 L544.8,184.0 L545.3,183.8 L545.8,183.5 L546.3,183.3 L546.8,183.0 L547.3,182.8 L547.8,182.5 L548.3,182.2 L548.8,182.0 L549.3,181.7 L549.8,181.5 L550.3,181.2 L550.8,181.0 L551.3,180.7 L551.8,180.5 L552.3,180.2 L552.8,180.0 L553.3,179.7 L553.8,179.5 L554.3,179.2 L554.8,179.0 L555.3,178.7 L555.8,178.5 L556.3,178.2 L556.8,178.0 L557.3,177.7 L557.8,177.5 L558.3,177.2 L558.8,177.0 L559.3,176.7 L559.8,176.5 L560.3,176.2 L560.8,176.0 L561.3,175.7 L561.8,175.5 L562.3,175.2 L562.8,175.0 L563.3,174.8 L563.8,174.5 L564.3,174.3 L564.8,174.1 L565.3,173.9 L565.8,173.7 L566.3,173.5 L566.8,173.3 L567.3,173.0 L567.8,172.8 L568.3,172.6 L568.8,172.4 L569.3,172.2 L569.8,172.1 L570.3,171.9 L570.8,171.7 L571.3,171.5 L571.8,171.3 L572.3,171.1 L572.8,170.9 L573.3,170.8 L573.8,170.6 L574.3,170.4 L574.8,170.3 L575.3,170.1 L575.8,169.9 L576.3,169.8 L576.8,169.6 L577.3,169.5 L577.8,169.3 L578.3,169.1 L578.8,169.0 L579.3,168.8 L579.8,168.6 L580.3,168.5 L580.8,168.3 L581.3,168.1 L581.8,167.9 L582.3,167.7 L582.8,167.5 L583.3,167.2 L583.8,167.0 L584.3,166.8 L584.8,166.6 L585.3,166.4 L585.8,166.2 L586.3,166.0 L586.8,165.9 L587.3,165.7 L587.8,165.5 L588.3,165.4 L588.8,165.3 L589.3,165.1 L589.8,165.0 L590.3,164.9 L590.8,164.8 L591.3,164.7 L591.8,164.6 L592.3,164.5 L592.8,164.4 L593.3,164.3 L593.8,164.2 L594.3,164.1 L594.8,164.0 L595.3,163.9 L595.8,163.8 L596.3,163.7 L596.8,163.6 L597.3,163.6 L597.8,163.5 L598.3,163.4 L598.8,163.3 L599.3,163.3 L599.8,163.2 L600.3,163.1 L600.8,163.1 L601.3,163.0 L601.8,162.9 L602.3,162.9 L602.8,162.8 L603.3,162.7 L603.8,162.7 L604.3,162.6 L604.8,162.5 L605.3,162.5 L605.8,162.4 L606.3,162.3 L606.8,162.2 L607.3,162.2 L607.8,162.1 L608.3,162.0 L608.8,162.0 L609.3,161.9 L609.8,161.9 L610.3,161.8 L610.8,161.8 L611.3,161.8 L611.8,161.8 L612.3,161.8 L612.8,161.8 L613.3,161.8 L613.8,161.8 L614.3,161.8 L614.8,161.8 L615.3,161.7 L615.8,161.7 L616.3,161.7 L616.8,161.7 L617.3,161.7 L617.8,161.7 L618.3,161.7 L618.8,161.7 L619.3,161.7 L619.8,161.7 L620.3,161.7 L620.8,161.6 L621.3,161.6 L621.8,161.6 L622.3,161.5 L622.8,161.5 L623.3,161.5 L623.8,161.4 L624.3,161.4 L624.8,161.4 L625.3,161.3 L625.8,161.3 L626.3,161.3 L626.8,161.3 L627.3,161.3 L627.8,161.3 L628.3,161.3 L628.8,161.3 L629.3,161.3 L629.8,161.3 L630.3,161.3 L630.8,161.3 L631.3,161.3 L631.8,161.3 L632.3,161.3 L632.8,161.3 L633.3,161.3 L633.8,161.3 L634.3,161.3 L634.8,161.3 L635.3,161.3 L635.8,161.3 L636.3,161.3 L636.8,161.3 L637.3,161.4 L637.8,161.4 L638.3,161.4 L638.8,161.4 L639.3,161.5 L639.8,161.5 L640.3,161.5 L640.8,161.6 L641.3,161.6 L641.8,161.6 L642.3,161.7 L642.8,161.7 L643.3,161.8 L643.8,161.9 L644.3,161.9 L644.8,162.0 L645.3,162.2 L645.8,162.3 L646.3,162.4 L646.8,162.5 L647.3,162.6 L647.8,162.7 L648.3,162.8 L648.8,162.9 L649.3,162.9 L649.8,163.0 L650.3,163.0 L650.8,163.0 L651.3,163.0 L651.8,162.9 L652.3,162.9 L652.8,162.9 L653.3,162.8 L653.8,162.7 L654.3,162.7 L654.8,162.6 L655.3,162.5 L655.8,162.5 L656.3,162.4 L656.8,162.3 L657.3,162.3 L657.8,162.2 L658.3,162.2 L658.8,162.1 L659.3,162.1 L659.8,162.1 L660.3,162.0 L660.8,162.0 L661.3,161.9 L661.8,161.9 L662.3,161.9 L662.8,161.8 L663.3,161.8 L663.8,161.7 L664.3,161.7 L664.8,161.7 L665.3,161.6 L665.8,161.6 L666.3,161.6 L666.8,161.5 L667.3,161.5 L667.8,161.5 L668.3,161.5 L668.8,161.4 L669.3,161.4 L669.8,161.4 L670.3,161.3 L670.8,161.3 L671.3,161.3 L671.8,161.3 L672.3,161.2 L672.8,161.2 L673.3,161.2 L673.8,161.2 L674.3,161.2 L674.8,161.2 L675.3,161.2 L675.8,161.2 L676.3,161.2 L676.8,161.1 L677.3,161.1 L677.8,161.1 L678.3,161.1 L678.8,161.1 L679.3,161.1 L679.8,161.1 L680.3,161.1 L680.8,161.1 L681.3,161.1 L681.8,161.1 L682.3,161.1 L682.8,161.1 L683.3,161.1 L683.8,161.1 L684.3,161.1 L684.8,161.1 L685.3,161.1" stroke-width="0.95"/>
<circle cx="502.2" cy="226.7" r="1.75" stroke-width="0.75"/>
<circle cx="510.0" cy="215.6" r="1.75" stroke-width="0.75"/>
<circle cx="517.8" cy="205.4" r="1.75" stroke-width="0.75"/>
<circle cx="525.6" cy="198.3" r="1.75" stroke-width="0.75"/>
<circle cx="533.4" cy="190.6" r="1.75" stroke-width="0.75"/>
<circle cx="541.2" cy="186.0" r="1.75" stroke-width="0.75"/>
<circle cx="549.0" cy="181.9" r="1.75" stroke-width="0.75"/>
<circle cx="556.8" cy="178.0" r="1.75" stroke-width="0.75"/>
<circle cx="564.6" cy="174.2" r="1.75" stroke-width="0.75"/>
<circle cx="572.4" cy="171.1" r="1.75" stroke-width="0.75"/>
<circle cx="580.2" cy="168.5" r="1.75" stroke-width="0.75"/>
<circle cx="588.0" cy="165.5" r="1.75" stroke-width="0.75"/>
<circle cx="595.8" cy="163.8" r="1.75" stroke-width="0.75"/>
<circle cx="603.6" cy="162.7" r="1.75" stroke-width="0.75"/>
<circle cx="611.4" cy="161.8" r="1.75" stroke-width="0.75"/>
<circle cx="619.2" cy="161.7" r="1.75" stroke-width="0.75"/>
<circle cx="627.0" cy="161.3" r="1.75" stroke-width="0.75"/>
<circle cx="634.8" cy="161.3" r="1.75" stroke-width="0.75"/>
<circle cx="642.6" cy="161.7" r="1.75" stroke-width="0.75"/>
<circle cx="650.4" cy="163.0" r="1.75" stroke-width="0.75"/>
<circle cx="658.2" cy="162.2" r="1.75" stroke-width="0.75"/>
<circle cx="666.0" cy="161.6" r="1.75" stroke-width="0.75"/>
<circle cx="673.8" cy="161.2" r="1.75" stroke-width="0.75"/>
<circle cx="681.6" cy="161.1" r="1.75" stroke-width="0.75"/>
<path d="M412.6,163.2 L413.1,163.3 L413.6,163.5 L414.1,163.6 L414.6,163.7 L415.1,163.9 L415.6,164.0 L416.1,164.1 L416.6,164.2 L417.1,164.4 L417.6,164.5 L418.1,164.6 L418.6,164.7 L419.1,164.8 L419.6,164.9 L420.1,165.0 L420.6,165.1 L421.1,165.2 L421.6,165.3 L422.1,165.4 L422.6,165.6 L423.1,165.7 L423.6,165.8 L424.1,166.0 L424.6,166.1 L425.1,166.3 L425.6,166.5 L426.1,166.7 L426.6,166.9 L427.1,167.2 L427.6,167.4 L428.1,167.7 L428.6,167.9 L429.1,168.2 L429.6,168.5 L430.1,168.7 L430.6,169.0 L431.1,169.3 L431.6,169.5 L432.1,169.7 L432.6,170.0 L433.1,170.2 L433.6,170.5 L434.1,170.7 L434.6,170.9 L435.1,171.2 L435.6,171.4 L436.1,171.6 L436.6,171.9 L437.1,172.1 L437.6,172.4 L438.1,172.6 L438.6,172.9 L439.1,173.1 L439.6,173.4 L440.1,173.7 L440.6,173.9 L441.1,174.2 L441.6,174.5 L442.1,174.8 L442.6,175.1 L443.1,175.4 L443.6,175.8 L444.1,176.1 L444.6,176.4 L445.1,176.7 L445.6,177.1 L446.1,177.4 L446.6,177.7 L447.1,178.1 L447.6,178.4 L448.1,178.7 L448.6,179.1 L449.1,179.5 L449.6,179.8 L450.1,180.2 L450.6,180.6 L451.1,180.9 L451.6,181.3 L452.1,181.7 L452.6,182.1 L453.1,182.5 L453.6,182.8 L454.1,183.2 L454.6,183.6 L455.1,184.0 L455.6,184.3 L456.1,184.7 L456.6,185.1 L457.1,185.4 L457.6,185.8 L458.1,186.2 L458.6,186.5 L459.1,186.9 L459.6,187.3 L460.1,187.6 L460.6,188.0 L461.1,188.4 L461.6,188.7 L462.1,189.1 L462.6,189.5 L463.1,189.8 L463.6,190.2 L464.1,190.6 L464.6,190.9 L465.1,191.3 L465.6,191.7 L466.1,192.0 L466.6,192.4 L467.1,192.7 L467.6,193.1 L468.1,193.5 L468.6,193.8 L469.1,194.2 L469.6,194.6 L470.1,194.9 L470.6,195.3 L471.1,195.7 L471.6,196.0 L472.1,196.4 L472.6,196.8 L473.1,197.1 L473.6,197.5 L474.1,197.9 L474.6,198.2 L475.1,198.6 L475.6,199.0 L476.1,199.3 L476.6,199.7 L477.1,200.1 L477.6,200.5 L478.1,200.9 L478.6,201.2 L479.1,201.6 L479.6,202.0 L480.1,202.5 L480.6,202.9 L481.1,203.3 L481.6,203.7 L482.1,204.1 L482.6,204.6 L483.1,205.0 L483.6,205.4 L484.1,205.9 L484.6,206.3 L485.1,206.7 L485.6,207.2 L486.1,207.6 L486.6,208.0 L487.1,208.4 L487.6,208.8 L488.1,209.2 L488.6,209.6 L489.1,210.0 L489.6,210.4 L490.1,210.8 L490.6,211.2 L491.1,211.6 L491.6,212.0 L492.1,212.4 L492.6,212.8 L493.1,213.3 L493.6,213.7 L494.1,214.2 L494.6,214.7 L495.1,215.2 L495.6,215.8 L496.1,216.3 L496.6,216.9 L497.1,217.5 L497.6,218.2 L498.1,218.8 L498.6,219.4 L499.1,220.1 L499.6,220.8 L500.1,221.5 L500.6,222.3 L501.1,223.0 L501.6,223.8 L502.1,224.5 L502.6,225.4 L503.1,226.3 L503.6,227.2 L504.1,228.2 L504.6,229.2 L505.1,230.1 L505.6,231.0 L506.1,232.0 L506.6,232.9 L507.1,233.8 L507.6,234.8 L508.1,235.7" stroke-width="0.95"/>
<circle cx="416.4" cy="164.2" r="1.75" stroke-width="0.75"/>
<circle cx="424.2" cy="166.0" r="1.75" stroke-width="0.75"/>
<circle cx="432.0" cy="169.7" r="1.75" stroke-width="0.75"/>
<circle cx="439.8" cy="173.5" r="1.75" stroke-width="0.75"/>
<circle cx="447.6" cy="178.4" r="1.75" stroke-width="0.75"/>
<circle cx="455.4" cy="184.2" r="1.75" stroke-width="0.75"/>
<circle cx="463.2" cy="189.9" r="1.75" stroke-width="0.75"/>
<circle cx="471.0" cy="195.6" r="1.75" stroke-width="0.75"/>
<circle cx="478.8" cy="201.4" r="1.75" stroke-width="0.75"/>
<circle cx="486.6" cy="208.0" r="1.75" stroke-width="0.75"/>
<circle cx="494.4" cy="214.5" r="1.75" stroke-width="0.75"/>
<circle cx="502.2" cy="224.7" r="1.75" stroke-width="0.75"/>
<path d="M528.3,236.3 L528.8,235.4 L529.3,234.4 L529.8,233.5 L530.3,232.5 L530.8,231.6 L531.3,230.6 L531.8,229.6 L532.3,228.6 L532.8,227.6 L533.3,226.8 L533.8,226.1 L534.3,225.4 L534.8,224.8 L535.3,224.3 L535.8,223.7 L536.3,223.2 L536.8,222.7 L537.3,222.2 L537.8,221.7 L538.3,221.3 L538.8,220.8 L539.3,220.4 L539.8,219.9 L540.3,219.4 L540.8,219.0 L541.3,218.5 L541.8,218.0 L542.3,217.5 L542.8,217.0 L543.3,216.5 L543.8,216.0 L544.3,215.5 L544.8,215.0 L545.3,214.5 L545.8,214.1 L546.3,213.6 L546.8,213.1 L547.3,212.6 L547.8,212.1 L548.3,211.6 L548.8,211.1 L549.3,210.6 L549.8,210.0 L550.3,209.5 L550.8,208.9 L551.3,208.3 L551.8,207.8 L552.3,207.2 L552.8,206.6 L553.3,206.0 L553.8,205.5 L554.3,204.9 L554.8,204.4 L555.3,203.8 L555.8,203.3 L556.3,202.8 L556.8,202.4 L557.3,201.9 L557.8,201.5 L558.3,201.1 L558.8,200.6 L559.3,200.2 L559.8,199.8 L560.3,199.4 L560.8,199.1 L561.3,198.7 L561.8,198.3 L562.3,197.9 L562.8,197.6 L563.3,197.2 L563.8,196.8 L564.3,196.5 L564.8,196.1 L565.3,195.8 L565.8,195.4 L566.3,195.1 L566.8,194.8 L567.3,194.5 L567.8,194.1 L568.3,193.8 L568.8,193.5 L569.3,193.2 L569.8,192.9 L570.3,192.5 L570.8,192.2 L571.3,191.9 L571.8,191.6 L572.3,191.2 L572.8,190.9 L573.3,190.6 L573.8,190.2 L574.3,189.9 L574.8,189.5 L575.3,189.2 L575.8,188.8 L576.3,188.4 L576.8,188.1 L577.3,187.7 L577.8,187.4 L578.3,187.1 L578.8,186.7 L579.3,186.4 L579.8,186.1 L580.3,185.8 L580.8,185.5 L581.3,185.3 L581.8,185.0 L582.3,184.7 L582.8,184.5 L583.3,184.2 L583.8,184.0 L584.3,183.7 L584.8,183.5 L585.3,183.2 L585.8,183.0 L586.3,182.8 L586.8,182.5 L587.3,182.2 L587.8,182.0 L588.3,181.7 L588.8,181.4 L589.3,181.2 L589.8,180.9 L590.3,180.6 L590.8,180.3 L591.3,180.0 L591.8,179.8 L592.3,179.5 L592.8,179.2 L593.3,178.9 L593.8,178.6 L594.3,178.4 L594.8,178.1 L595.3,177.8 L595.8,177.6 L596.3,177.3 L596.8,177.1 L597.3,176.9 L597.8,176.6 L598.3,176.4 L598.8,176.2 L599.3,175.9 L599.8,175.7 L600.3,175.5 L600.8,175.3 L601.3,175.0 L601.8,174.8 L602.3,174.6 L602.8,174.4 L603.3,174.1 L603.8,173.9 L604.3,173.7 L604.8,173.4 L605.3,173.2 L605.8,173.0 L606.3,172.8 L606.8,172.5 L607.3,172.3 L607.8,172.1 L608.3,171.8 L608.8,171.6 L609.3,171.4 L609.8,171.2 L610.3,170.9 L610.8,170.7 L611.3,170.4 L611.8,170.2 L612.3,169.9 L612.8,169.7 L613.3,169.4 L613.8,169.1 L614.3,168.8 L614.8,168.5 L615.3,168.2 L615.8,168.0 L616.3,167.7 L616.8,167.4 L617.3,167.2 L617.8,166.9 L618.3,166.7 L618.8,166.5 L619.3,166.2 L619.8,166.0 L620.3,165.9 L620.8,165.7 L621.3,165.5 L621.8,165.3 L622.3,165.1 L622.8,165.0 L623.3,164.8 L623.8,164.6 L624.3,164.5 L624.8,164.3 L625.3,164.2 L625.8,164.1 L626.3,163.9 L626.8,163.8 L627.3,163.7 L627.8,163.5 L628.3,163.4 L628.8,163.3 L629.3,163.2 L629.8,163.1 L630.3,163.0 L630.8,162.8 L631.3,162.7 L631.8,162.6 L632.3,162.5 L632.8,162.5 L633.3,162.4 L633.8,162.3 L634.3,162.2 L634.8,162.2 L635.3,162.2 L635.8,162.1 L636.3,162.1 L636.8,162.0 L637.3,162.0 L637.8,162.0 L638.3,161.9 L638.8,161.9 L639.3,161.9 L639.8,161.9 L640.3,161.8 L640.8,161.8 L641.3,161.8 L641.8,161.7 L642.3,161.7 L642.8,161.7 L643.3,161.7 L643.8,161.6 L644.3,161.6 L644.8,161.6 L645.3,161.5 L645.8,161.5 L646.3,161.5 L646.8,161.4 L647.3,161.4 L647.8,161.4 L648.3,161.3 L648.8,161.3 L649.3,161.3 L649.8,161.2 L650.3,161.2 L650.8,161.2 L651.3,161.1 L651.8,161.1 L652.3,161.1 L652.8,161.1 L653.3,161.0 L653.8,161.0 L654.3,161.0 L654.8,160.9 L655.3,160.9 L655.8,160.9 L656.3,160.9 L656.8,160.8 L657.3,160.8 L657.8,160.8 L658.3,160.8 L658.8,160.8 L659.3,160.8 L659.8,160.8 L660.3,160.8 L660.8,160.7 L661.3,160.7 L661.8,160.7 L662.3,160.7 L662.8,160.7 L663.3,160.7 L663.8,160.7 L664.3,160.7 L664.8,160.7 L665.3,160.7 L665.8,160.7 L666.3,160.7 L666.8,160.7 L667.3,160.7 L667.8,160.7 L668.3,160.8 L668.8,160.8 L669.3,160.8 L669.8,160.8 L670.3,160.9 L670.8,160.9 L671.3,160.9 L671.8,160.9 L672.3,161.0 L672.8,161.0 L673.3,161.0 L673.8,161.0 L674.3,161.0 L674.8,161.0 L675.3,161.0 L675.8,161.0 L676.3,161.0 L676.8,161.1 L677.3,161.1 L677.8,161.1 L678.3,161.1 L678.8,161.1 L679.3,161.1 L679.8,161.1 L680.3,161.1 L680.8,161.1 L681.3,161.1 L681.8,161.1 L682.3,161.1 L682.8,161.1 L683.3,161.1 L683.8,161.1 L684.3,161.1 L684.8,161.1 L685.3,161.1" stroke-width="0.95"/>
<circle cx="533.4" cy="226.7" r="1.75" stroke-width="0.75"/>
<circle cx="541.2" cy="218.6" r="1.75" stroke-width="0.75"/>
<circle cx="549.0" cy="210.9" r="1.75" stroke-width="0.75"/>
<circle cx="556.8" cy="202.4" r="1.75" stroke-width="0.75"/>
<circle cx="564.6" cy="196.3" r="1.75" stroke-width="0.75"/>
<circle cx="572.4" cy="191.2" r="1.75" stroke-width="0.75"/>
<circle cx="580.2" cy="185.9" r="1.75" stroke-width="0.75"/>
<circle cx="588.0" cy="181.9" r="1.75" stroke-width="0.75"/>
<circle cx="595.8" cy="177.6" r="1.75" stroke-width="0.75"/>
<circle cx="603.6" cy="174.0" r="1.75" stroke-width="0.75"/>
<circle cx="611.4" cy="170.4" r="1.75" stroke-width="0.75"/>
<circle cx="619.2" cy="166.3" r="1.75" stroke-width="0.75"/>
<circle cx="627.0" cy="163.8" r="1.75" stroke-width="0.75"/>
<circle cx="634.8" cy="162.2" r="1.75" stroke-width="0.75"/>
<circle cx="642.6" cy="161.7" r="1.75" stroke-width="0.75"/>
<circle cx="650.4" cy="161.2" r="1.75" stroke-width="0.75"/>
<circle cx="658.2" cy="160.8" r="1.75" stroke-width="0.75"/>
<circle cx="666.0" cy="160.7" r="1.75" stroke-width="0.75"/>
<circle cx="673.8" cy="161.0" r="1.75" stroke-width="0.75"/>
<circle cx="681.6" cy="161.1" r="1.75" stroke-width="0.75"/>
<path d="M412.6,161.4 L413.1,161.4 L413.6,161.5 L414.1,161.5 L414.6,161.5 L415.1,161.6 L415.6,161.6 L416.1,161.7 L416.6,161.7 L417.1,161.8 L417.6,161.8 L418.1,161.9 L418.6,161.9 L419.1,162.0 L419.6,162.1 L420.1,162.1 L420.6,162.2 L421.1,162.2 L421.6,162.3 L422.1,162.4 L422.6,162.5 L423.1,162.5 L423.6,162.6 L424.1,162.7 L424.6,162.8 L425.1,162.8 L425.6,162.9 L426.1,163.0 L426.6,163.1 L427.1,163.2 L427.6,163.3 L428.1,163.4 L428.6,163.5 L429.1,163.6 L429.6,163.7 L430.1,163.8 L430.6,164.0 L431.1,164.1 L431.6,164.2 L432.1,164.3 L432.6,164.5 L433.1,164.6 L433.6,164.7 L434.1,164.9 L434.6,165.0 L435.1,165.2 L435.6,165.4 L436.1,165.5 L436.6,165.7 L437.1,165.9 L437.6,166.0 L438.1,166.2 L438.6,166.4 L439.1,166.6 L439.6,166.7 L440.1,166.9 L440.6,167.1 L441.1,167.3 L441.6,167.4 L442.1,167.6 L442.6,167.8 L443.1,168.0 L443.6,168.2 L444.1,168.4 L444.6,168.6 L445.1,168.8 L445.6,169.0 L446.1,169.2 L446.6,169.4 L447.1,169.6 L447.6,169.8 L448.1,170.0 L448.6,170.2 L449.1,170.5 L449.6,170.7 L450.1,171.0 L450.6,171.2 L451.1,171.5 L451.6,171.7 L452.1,172.0 L452.6,172.2 L453.1,172.5 L453.6,172.7 L454.1,173.0 L454.6,173.2 L455.1,173.5 L455.6,173.7 L456.1,173.9 L456.6,174.1 L457.1,174.4 L457.6,174.6 L458.1,174.8 L458.6,175.0 L459.1,175.2 L459.6,175.4 L460.1,175.7 L460.6,175.9 L461.1,176.1 L461.6,176.3 L462.1,176.5 L462.6,176.7 L463.1,177.0 L463.6,177.2 L464.1,177.4 L464.6,177.6 L465.1,177.9 L465.6,178.1 L466.1,178.3 L466.6,178.6 L467.1,178.8 L467.6,179.0 L468.1,179.3 L468.6,179.5 L469.1,179.7 L469.6,180.0 L470.1,180.2 L470.6,180.4 L471.1,180.6 L471.6,180.9 L472.1,181.1 L472.6,181.3 L473.1,181.6 L473.6,181.8 L474.1,182.0 L474.6,182.3 L475.1,182.5 L475.6,182.7 L476.1,183.0 L476.6,183.2 L477.1,183.4 L477.6,183.7 L478.1,183.9 L478.6,184.1 L479.1,184.3 L479.6,184.5 L480.1,184.8 L480.6,185.0 L481.1,185.2 L481.6,185.4 L482.1,185.6 L482.6,185.8 L483.1,186.0 L483.6,186.2 L484.1,186.4 L484.6,186.6 L485.1,186.8 L485.6,187.0 L486.1,187.3 L486.6,187.5 L487.1,187.7 L487.6,188.0 L488.1,188.2 L488.6,188.5 L489.1,188.8 L489.6,189.0 L490.1,189.3 L490.6,189.6 L491.1,189.9 L491.6,190.1 L492.1,190.4 L492.6,190.7 L493.1,191.0 L493.6,191.3 L494.1,191.5 L494.6,191.8 L495.1,192.1 L495.6,192.4 L496.1,192.6 L496.6,192.9 L497.1,193.2 L497.6,193.5 L498.1,193.8 L498.6,194.0 L499.1,194.3 L499.6,194.6 L500.1,194.9 L500.6,195.1 L501.1,195.4 L501.6,195.7 L502.1,195.9 L502.6,196.2 L503.1,196.5 L503.6,196.7 L504.1,197.0 L504.6,197.2 L505.1,197.5 L505.6,197.7 L506.1,197.9 L506.6,198.2 L507.1,198.4 L507.6,198.7 L508.1,198.9 L508.6,199.2 L509.1,199.5 L509.6,199.8 L510.1,200.1 L510.6,200.4 L511.1,200.7 L511.6,201.0 L512.1,201.3 L512.6,201.7 L513.1,202.0 L513.6,202.4 L514.1,202.7 L514.6,203.1 L515.1,203.5 L515.6,203.8 L516.1,204.2 L516.6,204.5 L517.1,204.9 L517.6,205.3 L518.1,205.6 L518.6,206.0 L519.1,206.3 L519.6,206.6 L520.1,207.0 L520.6,207.3 L521.1,207.6 L521.6,208.0 L522.1,208.3 L522.6,208.6 L523.1,209.0 L523.6,209.4 L524.1,209.7 L524.6,210.1 L525.1,210.5 L525.6,210.9 L526.1,211.3 L526.6,211.7 L527.1,212.2 L527.6,212.6 L528.1,213.1 L528.6,213.6 L529.1,214.0 L529.6,214.5 L530.1,215.0 L530.6,215.5 L531.1,216.1 L531.6,216.6 L532.1,217.1 L532.6,217.7 L533.1,218.3 L533.6,218.8 L534.1,219.5 L534.6,220.1 L535.1,220.8 L535.6,221.5 L536.1,222.2 L536.6,223.0 L537.1,223.7 L537.6,224.5 L538.1,225.2 L538.6,226.0 L539.1,226.7 L539.6,227.4 L540.1,228.2 L540.6,228.8 L541.1,229.5 L541.6,230.1 L542.1,230.7 L542.6,231.2 L543.1,231.8 L543.6,232.4 L544.1,233.0 L544.6,233.6 L545.1,234.2 L545.6,234.7 L546.1,235.3 L546.6,235.9" stroke-width="0.95"/>
<circle cx="416.4" cy="161.7" r="1.75" stroke-width="0.75"/>
<circle cx="424.2" cy="162.7" r="1.75" stroke-width="0.75"/>
<circle cx="432.0" cy="164.3" r="1.75" stroke-width="0.75"/>
<circle cx="439.8" cy="166.8" r="1.75" stroke-width="0.75"/>
<circle cx="447.6" cy="169.8" r="1.75" stroke-width="0.75"/>
<circle cx="455.4" cy="173.6" r="1.75" stroke-width="0.75"/>
<circle cx="463.2" cy="177.0" r="1.75" stroke-width="0.75"/>
<circle cx="471.0" cy="180.6" r="1.75" stroke-width="0.75"/>
<circle cx="478.8" cy="184.2" r="1.75" stroke-width="0.75"/>
<circle cx="486.6" cy="187.5" r="1.75" stroke-width="0.75"/>
<circle cx="494.4" cy="191.7" r="1.75" stroke-width="0.75"/>
<circle cx="502.2" cy="196.0" r="1.75" stroke-width="0.75"/>
<circle cx="510.0" cy="200.0" r="1.75" stroke-width="0.75"/>
<circle cx="517.8" cy="205.4" r="1.75" stroke-width="0.75"/>
<circle cx="525.6" cy="210.9" r="1.75" stroke-width="0.75"/>
<circle cx="533.4" cy="218.6" r="1.75" stroke-width="0.75"/>
<circle cx="541.2" cy="229.6" r="1.75" stroke-width="0.75"/>
<path d="M558.4,236.3 L558.9,235.4 L559.4,234.6 L559.9,233.7 L560.4,232.9 L560.9,232.0 L561.4,231.2 L561.9,230.3 L562.4,229.5 L562.9,228.6 L563.4,227.8 L563.9,226.9 L564.4,226.1 L564.9,225.2 L565.4,224.4 L565.9,223.6 L566.4,222.7 L566.9,221.9 L567.4,221.0 L567.9,220.2 L568.4,219.4 L568.9,218.5 L569.4,217.7 L569.9,217.0 L570.4,216.2 L570.9,215.5 L571.4,214.8 L571.9,214.1 L572.4,213.5 L572.9,212.9 L573.4,212.4 L573.9,211.9 L574.4,211.3 L574.9,210.8 L575.4,210.4 L575.9,209.9 L576.4,209.4 L576.9,209.0 L577.4,208.5 L577.9,208.1 L578.4,207.7 L578.9,207.2 L579.4,206.8 L579.9,206.3 L580.4,205.8 L580.9,205.4 L581.4,204.9 L581.9,204.4 L582.4,203.9 L582.9,203.4 L583.4,202.9 L583.9,202.5 L584.4,202.0 L584.9,201.5 L585.4,201.0 L585.9,200.6 L586.4,200.1 L586.9,199.7 L587.4,199.2 L587.9,198.8 L588.4,198.4 L588.9,198.0 L589.4,197.6 L589.9,197.2 L590.4,196.8 L590.9,196.4 L591.4,196.0 L591.9,195.6 L592.4,195.3 L592.9,194.9 L593.4,194.5 L593.9,194.2 L594.4,193.8 L594.9,193.4 L595.4,193.1 L595.9,192.7 L596.4,192.4 L596.9,192.1 L597.4,191.7 L597.9,191.4 L598.4,191.1 L598.9,190.8 L599.4,190.4 L599.9,190.1 L600.4,189.8 L600.9,189.5 L601.4,189.2 L601.9,188.9 L602.4,188.6 L602.9,188.2 L603.4,187.9 L603.9,187.6 L604.4,187.3 L604.9,187.0 L605.4,186.7 L605.9,186.4 L606.4,186.1 L606.9,185.8 L607.4,185.5 L607.9,185.2 L608.4,184.9 L608.9,184.6 L609.4,184.3 L609.9,184.0 L610.4,183.7 L610.9,183.4 L611.4,183.1 L611.9,182.8 L612.4,182.5 L612.9,182.2 L613.4,181.8 L613.9,181.5 L614.4,181.2 L614.9,180.9 L615.4,180.5 L615.9,180.2 L616.4,179.9 L616.9,179.5 L617.4,179.2 L617.9,178.9 L618.4,178.5 L618.9,178.2 L619.4,177.9 L619.9,177.5 L620.4,177.2 L620.9,176.8 L621.4,176.5 L621.9,176.1 L622.4,175.7 L622.9,175.4 L623.4,175.0 L623.9,174.7 L624.4,174.3 L624.9,174.0 L625.4,173.7 L625.9,173.4 L626.4,173.1 L626.9,172.9 L627.4,172.6 L627.9,172.4 L628.4,172.2 L628.9,172.0 L629.4,171.8 L629.9,171.6 L630.4,171.5 L630.9,171.3 L631.4,171.1 L631.9,171.0 L632.4,170.8 L632.9,170.7 L633.4,170.5 L633.9,170.3 L634.4,170.1 L634.9,170.0 L635.4,169.8 L635.9,169.6 L636.4,169.4 L636.9,169.2 L637.4,169.0 L637.9,168.9 L638.4,168.7 L638.9,168.5 L639.4,168.3 L639.9,168.1 L640.4,167.9 L640.9,167.8 L641.4,167.6 L641.9,167.4 L642.4,167.3 L642.9,167.1 L643.4,167.0 L643.9,166.8 L644.4,166.7 L644.9,166.5 L645.4,166.3 L645.9,166.2 L646.4,166.0 L646.9,165.9 L647.4,165.8 L647.9,165.6 L648.4,165.5 L648.9,165.4 L649.4,165.3 L649.9,165.3 L650.4,165.2 L650.9,165.2 L651.4,165.1 L651.9,165.1 L652.4,165.0 L652.9,165.0 L653.4,164.9 L653.9,164.9 L654.4,164.9 L654.9,164.8 L655.4,164.8 L655.9,164.8 L656.4,164.8 L656.9,164.7 L657.4,164.7 L657.9,164.7 L658.4,164.7 L658.9,164.7 L659.4,164.7 L659.9,164.7 L660.4,164.7 L660.9,164.6 L661.4,164.6 L661.9,164.6 L662.4,164.6 L662.9,164.6 L663.4,164.6 L663.9,164.6 L664.4,164.6 L664.9,164.6 L665.4,164.6 L665.9,164.6 L666.4,164.6 L666.9,164.6 L667.4,164.6 L667.9,164.6 L668.4,164.6 L668.9,164.7 L669.4,164.7 L669.9,164.7 L670.4,164.7 L670.9,164.7 L671.4,164.8 L671.9,164.8 L672.4,164.8 L672.9,164.8 L673.4,164.9 L673.9,164.9 L674.4,164.9 L674.9,165.0 L675.4,165.1 L675.9,165.1 L676.4,165.2 L676.9,165.3 L677.4,165.4 L677.9,165.5 L678.4,165.6 L678.9,165.7 L679.4,165.8 L679.9,165.9 L680.4,166.0 L680.9,166.1 L681.4,166.2 L681.9,166.3 L682.4,166.3 L682.9,166.4 L683.4,166.5 L683.9,166.6 L684.4,166.7 L684.9,166.8 L685.4,167.0" stroke-width="0.95"/>
<circle cx="564.6" cy="225.7" r="1.75" stroke-width="0.75"/>
<circle cx="572.4" cy="213.5" r="1.75" stroke-width="0.75"/>
<circle cx="580.2" cy="206.0" r="1.75" stroke-width="0.75"/>
<circle cx="588.0" cy="198.7" r="1.75" stroke-width="0.75"/>
<circle cx="595.8" cy="192.8" r="1.75" stroke-width="0.75"/>
<circle cx="603.6" cy="187.8" r="1.75" stroke-width="0.75"/>
<circle cx="611.4" cy="183.1" r="1.75" stroke-width="0.75"/>
<circle cx="619.2" cy="178.0" r="1.75" stroke-width="0.75"/>
<circle cx="627.0" cy="172.8" r="1.75" stroke-width="0.75"/>
<circle cx="634.8" cy="170.0" r="1.75" stroke-width="0.75"/>
<circle cx="642.6" cy="167.2" r="1.75" stroke-width="0.75"/>
<circle cx="650.4" cy="165.2" r="1.75" stroke-width="0.75"/>
<circle cx="658.2" cy="164.7" r="1.75" stroke-width="0.75"/>
<circle cx="666.0" cy="164.6" r="1.75" stroke-width="0.75"/>
<circle cx="673.8" cy="164.9" r="1.75" stroke-width="0.75"/>
<circle cx="681.6" cy="166.2" r="1.75" stroke-width="0.75"/>
<path d="M412.6,161.2 L413.1,161.1 L413.6,161.1 L414.1,161.1 L414.6,161.0 L415.1,161.0 L415.6,160.9 L416.1,160.9 L416.6,160.9 L417.1,160.9 L417.6,160.9 L418.1,160.9 L418.6,160.9 L419.1,160.8 L419.6,160.8 L420.1,160.8 L420.6,160.8 L421.1,160.8 L421.6,160.8 L422.1,160.8 L422.6,160.8 L423.1,160.8 L423.6,160.8 L424.1,160.8 L424.6,160.8 L425.1,160.8 L425.6,160.8 L426.1,160.8 L426.6,160.8 L427.1,160.8 L427.6,160.9 L428.1,160.9 L428.6,160.9 L429.1,160.9 L429.6,160.9 L430.1,160.9 L430.6,161.0 L431.1,161.0 L431.6,161.0 L432.1,161.0 L432.6,161.0 L433.1,161.0 L433.6,161.1 L434.1,161.1 L434.6,161.1 L435.1,161.1 L435.6,161.2 L436.1,161.2 L436.6,161.2 L437.1,161.2 L437.6,161.3 L438.1,161.3 L438.6,161.3 L439.1,161.4 L439.6,161.4 L440.1,161.4 L440.6,161.4 L441.1,161.5 L441.6,161.5 L442.1,161.5 L442.6,161.6 L443.1,161.6 L443.6,161.6 L444.1,161.6 L444.6,161.7 L445.1,161.7 L445.6,161.7 L446.1,161.8 L446.6,161.8 L447.1,161.9 L447.6,161.9 L448.1,161.9 L448.6,162.0 L449.1,162.0 L449.6,162.1 L450.1,162.1 L450.6,162.2 L451.1,162.2 L451.6,162.3 L452.1,162.3 L452.6,162.4 L453.1,162.5 L453.6,162.5 L454.1,162.6 L454.6,162.7 L455.1,162.8 L455.6,162.8 L456.1,162.9 L456.6,163.0 L457.1,163.1 L457.6,163.2 L458.1,163.3 L458.6,163.5 L459.1,163.6 L459.6,163.7 L460.1,163.9 L460.6,164.0 L461.1,164.2 L461.6,164.3 L462.1,164.5 L462.6,164.6 L463.1,164.8 L463.6,164.9 L464.1,165.1 L464.6,165.3 L465.1,165.4 L465.6,165.6 L466.1,165.8 L466.6,166.0 L467.1,166.2 L467.6,166.4 L468.1,166.6 L468.6,166.8 L469.1,167.0 L469.6,167.2 L470.1,167.4 L470.6,167.6 L471.1,167.8 L471.6,168.0 L472.1,168.2 L472.6,168.4 L473.1,168.6 L473.6,168.8 L474.1,169.0 L474.6,169.2 L475.1,169.4 L475.6,169.6 L476.1,169.8 L476.6,170.0 L477.1,170.2 L477.6,170.4 L478.1,170.6 L478.6,170.8 L479.1,171.0 L479.6,171.3 L480.1,171.5 L480.6,171.7 L481.1,172.0 L481.6,172.2 L482.1,172.4 L482.6,172.7 L483.1,172.9 L483.6,173.2 L484.1,173.4 L484.6,173.7 L485.1,173.9 L485.6,174.1 L486.1,174.4 L486.6,174.6 L487.1,174.8 L487.6,175.1 L488.1,175.3 L488.6,175.5 L489.1,175.7 L489.6,176.0 L490.1,176.2 L490.6,176.4 L491.1,176.6 L491.6,176.9 L492.1,177.1 L492.6,177.3 L493.1,177.5 L493.6,177.7 L494.1,177.9 L494.6,178.1 L495.1,178.3 L495.6,178.4 L496.1,178.6 L496.6,178.8 L497.1,179.0 L497.6,179.1 L498.1,179.3 L498.6,179.5 L499.1,179.6 L499.6,179.8 L500.1,179.9 L500.6,180.1 L501.1,180.3 L501.6,180.4 L502.1,180.6 L502.6,180.7 L503.1,180.9 L503.6,181.0 L504.1,181.2 L504.6,181.3 L505.1,181.4 L505.6,181.6 L506.1,181.7 L506.6,181.8 L507.1,182.0 L507.6,182.1 L508.1,182.3 L508.6,182.4 L509.1,182.6 L509.6,182.8 L510.1,182.9 L510.6,183.1 L511.1,183.3 L511.6,183.5 L512.1,183.7 L512.6,183.9 L513.1,184.2 L513.6,184.4 L514.1,184.6 L514.6,184.9 L515.1,185.1 L515.6,185.3 L516.1,185.6 L516.6,185.8 L517.1,186.1 L517.6,186.3 L518.1,186.5 L518.6,186.8 L519.1,187.0 L519.6,187.3 L520.1,187.5 L520.6,187.8 L521.1,188.0 L521.6,188.3 L522.1,188.5 L522.6,188.8 L523.1,189.0 L523.6,189.3 L524.1,189.5 L524.6,189.8 L525.1,190.0 L525.6,190.3 L526.1,190.6 L526.6,190.8 L527.1,191.1 L527.6,191.3 L528.1,191.6 L528.6,191.9 L529.1,192.1 L529.6,192.4 L530.1,192.7 L530.6,192.9 L531.1,193.2 L531.6,193.4 L532.1,193.7 L532.6,194.0 L533.1,194.2 L533.6,194.5 L534.1,194.8 L534.6,195.0 L535.1,195.3 L535.6,195.5 L536.1,195.8 L536.6,196.0 L537.1,196.3 L537.6,196.5 L538.1,196.8 L538.6,197.1 L539.1,197.3 L539.6,197.6 L540.1,197.9 L540.6,198.2 L541.1,198.4 L541.6,198.7 L542.1,199.0 L542.6,199.3 L543.1,199.7 L543.6,200.0 L544.1,200.3 L544.6,200.6 L545.1,201.0 L545.6,201.3 L546.1,201.6 L546.6,202.0 L547.1,202.3 L547.6,202.7 L548.1,203.0 L548.6,203.3 L549.1,203.7 L549.6,204.0 L550.1,204.3 L550.6,204.6 L551.1,205.0 L551.6,205.3 L552.1,205.6 L552.6,205.9 L553.1,206.3 L553.6,206.6 L554.1,206.9 L554.6,207.3 L555.1,207.6 L555.6,208.0 L556.1,208.3 L556.6,208.7 L557.1,209.0 L557.6,209.4 L558.1,209.8 L558.6,210.1 L559.1,210.5 L559.6,210.9 L560.1,211.3 L560.6,211.7 L561.1,212.1 L561.6,212.5 L562.1,212.9 L562.6,213.3 L563.1,213.7 L563.6,214.1 L564.1,214.5 L564.6,214.9 L565.1,215.3 L565.6,215.7 L566.1,216.0 L566.6,216.4 L567.1,216.8 L567.6,217.2 L568.1,217.5 L568.6,217.9 L569.1,218.3 L569.6,218.7 L570.1,219.1 L570.6,219.5 L571.1,220.0 L571.6,220.4 L572.1,220.9 L572.6,221.4 L573.1,222.0 L573.6,222.6 L574.1,223.2 L574.6,223.9 L575.1,224.5 L575.6,225.3 L576.1,226.0 L576.6,226.7 L577.1,227.4 L577.6,228.2 L578.1,228.9 L578.6,229.6 L579.1,230.3 L579.6,231.0 L580.1,231.7 L580.6,232.3 L581.1,233.0 L581.6,233.7 L582.1,234.4 L582.6,235.1 L583.1,235.7" stroke-width="0.95"/>
<circle cx="416.4" cy="160.9" r="1.75" stroke-width="0.75"/>
<circle cx="424.2" cy="160.8" r="1.75" stroke-width="0.75"/>
<circle cx="432.0" cy="161.0" r="1.75" stroke-width="0.75"/>
<circle cx="439.8" cy="161.4" r="1.75" stroke-width="0.75"/>
<circle cx="447.6" cy="161.9" r="1.75" stroke-width="0.75"/>
<circle cx="455.4" cy="162.8" r="1.75" stroke-width="0.75"/>
<circle cx="463.2" cy="164.8" r="1.75" stroke-width="0.75"/>
<circle cx="471.0" cy="167.8" r="1.75" stroke-width="0.75"/>
<circle cx="478.8" cy="170.9" r="1.75" stroke-width="0.75"/>
<circle cx="486.6" cy="174.6" r="1.75" stroke-width="0.75"/>
<circle cx="494.4" cy="178.0" r="1.75" stroke-width="0.75"/>
<circle cx="502.2" cy="181.4" r="1.75" stroke-width="0.75"/>
<circle cx="510.0" cy="185.0" r="1.75" stroke-width="0.75"/>
<circle cx="517.8" cy="189.0" r="1.75" stroke-width="0.75"/>
<circle cx="525.6" cy="193.2" r="1.75" stroke-width="0.75"/>
<circle cx="533.4" cy="196.6" r="1.75" stroke-width="0.75"/>
<circle cx="541.2" cy="201.3" r="1.75" stroke-width="0.75"/>
<circle cx="549.0" cy="206.2" r="1.75" stroke-width="0.75"/>
<circle cx="556.8" cy="211.5" r="1.75" stroke-width="0.75"/>
<circle cx="564.6" cy="218.2" r="1.75" stroke-width="0.75"/>
<circle cx="572.4" cy="226.7" r="1.75" stroke-width="0.75"/>
<path d="M606.8,236.3 L607.3,235.7 L607.8,235.1 L608.3,234.6 L608.8,234.0 L609.3,233.4 L609.8,232.8 L610.3,232.3 L610.8,231.7 L611.3,231.1 L611.8,230.5 L612.3,230.0 L612.8,229.4 L613.3,228.8 L613.8,228.2 L614.3,227.6 L614.8,227.1 L615.3,226.5 L615.8,225.9 L616.3,225.3 L616.8,224.8 L617.3,224.2 L617.8,223.6 L618.3,223.0 L618.8,222.5 L619.3,221.9 L619.8,221.3 L620.3,220.7 L620.8,220.2 L621.3,219.6 L621.8,219.0 L622.3,218.4 L622.8,217.9 L623.3,217.3 L623.8,216.7 L624.3,216.2 L624.8,215.6 L625.3,215.1 L625.8,214.5 L626.3,214.0 L626.8,213.5 L627.3,213.0 L627.8,212.5 L628.3,212.0 L628.8,211.6 L629.3,211.1 L629.8,210.7 L630.3,210.2 L630.8,209.8 L631.3,209.3 L631.8,208.9 L632.3,208.5 L632.8,208.1 L633.3,207.6 L633.8,207.2 L634.3,206.8 L634.8,206.4 L635.3,206.0 L635.8,205.6 L636.3,205.2 L636.8,204.8 L637.3,204.4 L637.8,204.1 L638.3,203.7 L638.8,203.3 L639.3,203.0 L639.8,202.6 L640.3,202.2 L640.8,201.9 L641.3,201.5 L641.8,201.1 L642.3,200.7 L642.8,200.4 L643.3,200.0 L643.8,199.6 L644.3,199.2 L644.8,198.8 L645.3,198.4 L645.8,198.0 L646.3,197.7 L646.8,197.3 L647.3,196.9 L647.8,196.5 L648.3,196.1 L648.8,195.7 L649.3,195.4 L649.8,195.0 L650.3,194.6 L650.8,194.2 L651.3,193.8 L651.8,193.4 L652.3,193.0 L652.8,192.7 L653.3,192.3 L653.8,191.9 L654.3,191.5 L654.8,191.1 L655.3,190.7 L655.8,190.3 L656.3,190.0 L656.8,189.6 L657.3,189.2 L657.8,188.8 L658.3,188.4 L658.8,188.0 L659.3,187.7 L659.8,187.3 L660.3,186.9 L660.8,186.5 L661.3,186.1 L661.8,185.7 L662.3,185.3 L662.8,185.0 L663.3,184.6 L663.8,184.2 L664.3,183.8 L664.8,183.4 L665.3,183.0 L665.8,182.7 L666.3,182.3 L666.8,181.9 L667.3,181.5 L667.8,181.1 L668.3,180.6 L668.8,180.2 L669.3,179.8 L669.8,179.4 L670.3,179.0 L670.8,178.6 L671.3,178.2 L671.8,177.8 L672.3,177.5 L672.8,177.1 L673.3,176.8 L673.8,176.5 L674.3,176.2 L674.8,175.9 L675.3,175.7 L675.8,175.4 L676.3,175.1 L676.8,174.9 L677.3,174.7 L677.8,174.4 L678.3,174.2 L678.8,174.0 L679.3,173.8 L679.8,173.5 L680.3,173.3 L680.8,173.1 L681.3,172.9 L681.8,172.7 L682.3,172.5 L682.8,172.3 L683.3,172.2 L683.8,172.0 L684.3,171.8 L684.8,171.7 L685.3,171.5" stroke-width="0.95"/>
<circle cx="619.2" cy="222.0" r="1.75" stroke-width="0.75"/>
<circle cx="627.0" cy="213.3" r="1.75" stroke-width="0.75"/>
<circle cx="634.8" cy="206.4" r="1.75" stroke-width="0.75"/>
<circle cx="642.6" cy="200.5" r="1.75" stroke-width="0.75"/>
<circle cx="650.4" cy="194.5" r="1.75" stroke-width="0.75"/>
<circle cx="658.2" cy="188.5" r="1.75" stroke-width="0.75"/>
<circle cx="666.0" cy="182.5" r="1.75" stroke-width="0.75"/>
<circle cx="673.8" cy="176.5" r="1.75" stroke-width="0.75"/>
<circle cx="681.6" cy="172.8" r="1.75" stroke-width="0.75"/>
<path d="M412.6,160.9 L413.1,160.9 L413.6,160.8 L414.1,160.8 L414.6,160.8 L415.1,160.8 L415.6,160.7 L416.1,160.7 L416.6,160.7 L417.1,160.7 L417.6,160.6 L418.1,160.6 L418.6,160.6 L419.1,160.6 L419.6,160.5 L420.1,160.5 L420.6,160.5 L421.1,160.5 L421.6,160.5 L422.1,160.4 L422.6,160.4 L423.1,160.4 L423.6,160.4 L424.1,160.4 L424.6,160.4 L425.1,160.4 L425.6,160.4 L426.1,160.4 L426.6,160.4 L427.1,160.5 L427.6,160.5 L428.1,160.5 L428.6,160.5 L429.1,160.6 L429.6,160.6 L430.1,160.6 L430.6,160.6 L431.1,160.7 L431.6,160.7 L432.1,160.7 L432.6,160.7 L433.1,160.8 L433.6,160.8 L434.1,160.8 L434.6,160.8 L435.1,160.9 L435.6,160.9 L436.1,160.9 L436.6,161.0 L437.1,161.0 L437.6,161.1 L438.1,161.1 L438.6,161.1 L439.1,161.2 L439.6,161.2 L440.1,161.2 L440.6,161.3 L441.1,161.3 L441.6,161.3 L442.1,161.3 L442.6,161.4 L443.1,161.4 L443.6,161.4 L444.1,161.5 L444.6,161.5 L445.1,161.5 L445.6,161.6 L446.1,161.6 L446.6,161.6 L447.1,161.7 L447.6,161.7 L448.1,161.7 L448.6,161.8 L449.1,161.8 L449.6,161.8 L450.1,161.9 L450.6,161.9 L451.1,161.9 L451.6,161.9 L452.1,162.0 L452.6,162.0 L453.1,162.0 L453.6,162.1 L454.1,162.1 L454.6,162.1 L455.1,162.2 L455.6,162.2 L456.1,162.3 L456.6,162.3 L457.1,162.3 L457.6,162.4 L458.1,162.4 L458.6,162.5 L459.1,162.5 L459.6,162.6 L460.1,162.6 L460.6,162.7 L461.1,162.7 L461.6,162.8 L462.1,162.9 L462.6,162.9 L463.1,163.0 L463.6,163.1 L464.1,163.1 L464.6,163.2 L465.1,163.3 L465.6,163.4 L466.1,163.6 L466.6,163.7 L467.1,163.8 L467.6,163.9 L468.1,164.1 L468.6,164.2 L469.1,164.3 L469.6,164.4 L470.1,164.6 L470.6,164.7 L471.1,164.8 L471.6,164.9 L472.1,165.1 L472.6,165.2 L473.1,165.3 L473.6,165.4 L474.1,165.5 L474.6,165.7 L475.1,165.8 L475.6,165.9 L476.1,166.1 L476.6,166.2 L477.1,166.3 L477.6,166.5 L478.1,166.6 L478.6,166.7 L479.1,166.9 L479.6,167.0 L480.1,167.2 L480.6,167.4 L481.1,167.6 L481.6,167.7 L482.1,167.9 L482.6,168.1 L483.1,168.3 L483.6,168.5 L484.1,168.7 L484.6,168.9 L485.1,169.1 L485.6,169.2 L486.1,169.4 L486.6,169.6 L487.1,169.8 L487.6,169.9 L488.1,170.1 L488.6,170.3 L489.1,170.4 L489.6,170.6 L490.1,170.8 L490.6,170.9 L491.1,171.1 L491.6,171.2 L492.1,171.4 L492.6,171.6 L493.1,171.7 L493.6,171.9 L494.1,172.1 L494.6,172.3 L495.1,172.5 L495.6,172.6 L496.1,172.8 L496.6,173.0 L497.1,173.2 L497.6,173.4 L498.1,173.6 L498.6,173.8 L499.1,174.0 L499.6,174.2 L500.1,174.4 L500.6,174.6 L501.1,174.8 L501.6,175.0 L502.1,175.3 L502.6,175.5 L503.1,175.7 L503.6,175.9 L504.1,176.1 L504.6,176.4 L505.1,176.6 L505.6,176.8 L506.1,177.1 L506.6,177.3 L507.1,177.5 L507.6,177.8 L508.1,178.0 L508.6,178.2 L509.1,178.5 L509.6,178.7 L510.1,178.9 L510.6,179.2 L511.1,179.4 L511.6,179.7 L512.1,179.9 L512.6,180.1 L513.1,180.4 L513.6,180.6 L514.1,180.9 L514.6,181.1 L515.1,181.3 L515.6,181.6 L516.1,181.8 L516.6,182.0 L517.1,182.3 L517.6,182.5 L518.1,182.7 L518.6,183.0 L519.1,183.2 L519.6,183.4 L520.1,183.6 L520.6,183.8 L521.1,184.0 L521.6,184.3 L522.1,184.5 L522.6,184.7 L523.1,184.9 L523.6,185.1 L524.1,185.3 L524.6,185.5 L525.1,185.8 L525.6,186.0 L526.1,186.2 L526.6,186.5 L527.1,186.7 L527.6,187.0 L528.1,187.2 L528.6,187.5 L529.1,187.7 L529.6,188.0 L530.1,188.3 L530.6,188.5 L531.1,188.8 L531.6,189.0 L532.1,189.2 L532.6,189.5 L533.1,189.7 L533.6,189.9 L534.1,190.1 L534.6,190.3 L535.1,190.5 L535.6,190.6 L536.1,190.8 L536.6,191.0 L537.1,191.1 L537.6,191.3 L538.1,191.5 L538.6,191.6 L539.1,191.8 L539.6,192.0 L540.1,192.2 L540.6,192.4 L541.1,192.6 L541.6,192.8 L542.1,193.0 L542.6,193.2 L543.1,193.4 L543.6,193.6 L544.1,193.9 L544.6,194.1 L545.1,194.3 L545.6,194.6 L546.1,194.8 L546.6,195.0 L547.1,195.3 L547.6,195.5 L548.1,195.8 L548.6,196.0 L549.1,196.2 L549.6,196.5 L550.1,196.8 L550.6,197.0 L551.1,197.3 L551.6,197.6 L552.1,197.8 L552.6,198.1 L553.1,198.4 L553.6,198.6 L554.1,198.9 L554.6,199.2 L555.1,199.4 L555.6,199.7 L556.1,200.0 L556.6,200.2 L557.1,200.4 L557.6,200.7 L558.1,200.9 L558.6,201.1 L559.1,201.3 L559.6,201.6 L560.1,201.8 L560.6,202.0 L561.1,202.2 L561.6,202.4 L562.1,202.6 L562.6,202.8 L563.1,203.1 L563.6,203.3 L564.1,203.5 L564.6,203.8 L565.1,204.1 L565.6,204.3 L566.1,204.6 L566.6,204.9 L567.1,205.2 L567.6,205.5 L568.1,205.8 L568.6,206.1 L569.1,206.4 L569.6,206.7 L570.1,207.0 L570.6,207.3 L571.1,207.6 L571.6,208.0 L572.1,208.3 L572.6,208.6 L573.1,209.0 L573.6,209.3 L574.1,209.7 L574.6,210.1 L575.1,210.4 L575.6,210.8 L576.1,211.2 L576.6,211.6 L577.1,212.0 L577.6,212.4 L578.1,212.8 L578.6,213.2 L579.1,213.6 L579.6,214.0 L580.1,214.4 L580.6,214.8 L581.1,215.2 L581.6,215.6 L582.1,216.0 L582.6,216.4 L583.1,216.8 L583.6,217.2 L584.1,217.6 L584.6,218.1 L585.1,218.5 L585.6,218.9 L586.1,219.4 L586.6,219.9 L587.1,220.4 L587.6,220.9 L588.1,221.4 L588.6,222.0 L589.1,222.8 L589.6,223.6 L590.1,224.5 L590.6,225.5 L591.1,226.4 L591.6,227.3 L592.1,228.1 L592.6,228.9 L593.1,229.5 L593.6,229.9 L594.1,230.2 L594.6,230.3 L595.1,230.1 L595.6,229.8" stroke-width="0.95"/>
<circle cx="416.4" cy="160.7" r="1.75" stroke-width="0.75"/>
<circle cx="424.2" cy="160.4" r="1.75" stroke-width="0.75"/>
<circle cx="432.0" cy="160.7" r="1.75" stroke-width="0.75"/>
<circle cx="439.8" cy="161.2" r="1.75" stroke-width="0.75"/>
<circle cx="447.6" cy="161.7" r="1.75" stroke-width="0.75"/>
<circle cx="455.4" cy="162.2" r="1.75" stroke-width="0.75"/>
<circle cx="463.2" cy="163.0" r="1.75" stroke-width="0.75"/>
<circle cx="471.0" cy="164.8" r="1.75" stroke-width="0.75"/>
<circle cx="478.8" cy="166.8" r="1.75" stroke-width="0.75"/>
<circle cx="486.6" cy="169.6" r="1.75" stroke-width="0.75"/>
<circle cx="494.4" cy="172.2" r="1.75" stroke-width="0.75"/>
<circle cx="502.2" cy="175.3" r="1.75" stroke-width="0.75"/>
<circle cx="510.0" cy="178.9" r="1.75" stroke-width="0.75"/>
<circle cx="517.8" cy="182.6" r="1.75" stroke-width="0.75"/>
<circle cx="525.6" cy="186.0" r="1.75" stroke-width="0.75"/>
<circle cx="533.4" cy="189.8" r="1.75" stroke-width="0.75"/>
<circle cx="541.2" cy="192.6" r="1.75" stroke-width="0.75"/>
<circle cx="549.0" cy="196.2" r="1.75" stroke-width="0.75"/>
<circle cx="556.8" cy="200.3" r="1.75" stroke-width="0.75"/>
<circle cx="564.6" cy="203.8" r="1.75" stroke-width="0.75"/>
<circle cx="572.4" cy="208.5" r="1.75" stroke-width="0.75"/>
<circle cx="580.2" cy="214.5" r="1.75" stroke-width="0.75"/>
<circle cx="588.0" cy="221.3" r="1.75" stroke-width="0.75"/>
<circle cx="595.8" cy="229.7" r="1.75" stroke-width="0.75"/>
<path d="M607.8,236.3 L608.3,235.7 L608.8,235.1 L609.3,234.5 L609.8,233.9 L610.3,233.3 L610.8,232.7 L611.3,232.1 L611.8,231.5 L612.3,230.9 L612.8,230.3 L613.3,229.7 L613.8,229.1 L614.3,228.5 L614.8,227.9 L615.3,227.2 L615.8,226.6 L616.3,226.0 L616.8,225.4 L617.3,224.8 L617.8,224.2 L618.3,223.6 L618.8,223.0 L619.3,222.5 L619.8,221.9 L620.3,221.3 L620.8,220.7 L621.3,220.1 L621.8,219.6 L622.3,219.0 L622.8,218.4 L623.3,217.8 L623.8,217.3 L624.3,216.7 L624.8,216.2 L625.3,215.7 L625.8,215.1 L626.3,214.7 L626.8,214.2 L627.3,213.7 L627.8,213.3 L628.3,212.8 L628.8,212.4 L629.3,212.0 L629.8,211.6 L630.3,211.2 L630.8,210.8 L631.3,210.4 L631.8,210.1 L632.3,209.7 L632.8,209.3 L633.3,208.9 L633.8,208.6 L634.3,208.2 L634.8,207.8 L635.3,207.4 L635.8,207.0 L636.3,206.7 L636.8,206.3 L637.3,205.9 L637.8,205.5 L638.3,205.2 L638.8,204.8 L639.3,204.4 L639.8,204.1 L640.3,203.7 L640.8,203.3 L641.3,203.0 L641.8,202.6 L642.3,202.2 L642.8,201.8 L643.3,201.5 L643.8,201.1 L644.3,200.7 L644.8,200.3 L645.3,200.0 L645.8,199.6 L646.3,199.2 L646.8,198.8 L647.3,198.4 L647.8,198.1 L648.3,197.7 L648.8,197.3 L649.3,197.0 L649.8,196.6 L650.3,196.3 L650.8,195.9 L651.3,195.6 L651.8,195.2 L652.3,194.9 L652.8,194.5 L653.3,194.2 L653.8,193.9 L654.3,193.5 L654.8,193.2 L655.3,192.9 L655.8,192.6 L656.3,192.2 L656.8,191.9 L657.3,191.6 L657.8,191.3 L658.3,190.9 L658.8,190.6 L659.3,190.3 L659.8,189.9 L660.3,189.6 L660.8,189.3 L661.3,189.0 L661.8,188.6 L662.3,188.3 L662.8,188.0 L663.3,187.7 L663.8,187.4 L664.3,187.0 L664.8,186.7 L665.3,186.4 L665.8,186.1 L666.3,185.8 L666.8,185.5 L667.3,185.2 L667.8,184.9 L668.3,184.6 L668.8,184.2 L669.3,183.9 L669.8,183.6 L670.3,183.3 L670.8,183.0 L671.3,182.7 L671.8,182.5 L672.3,182.2 L672.8,181.9 L673.3,181.7 L673.8,181.5 L674.3,181.3 L674.8,181.1 L675.3,180.9 L675.8,180.7 L676.3,180.5 L676.8,180.4 L677.3,180.2 L677.8,180.0 L678.3,179.9 L678.8,179.7 L679.3,179.6 L679.8,179.4 L680.3,179.3 L680.8,179.1 L681.3,179.0 L681.8,178.8 L682.3,178.7 L682.8,178.5 L683.3,178.4 L683.8,178.3 L684.3,178.1 L684.8,178.0 L685.3,177.9" stroke-width="0.95"/>
<circle cx="619.2" cy="222.6" r="1.75" stroke-width="0.75"/>
<circle cx="627.0" cy="214.0" r="1.75" stroke-width="0.75"/>
<circle cx="634.8" cy="207.8" r="1.75" stroke-width="0.75"/>
<circle cx="642.6" cy="202.0" r="1.75" stroke-width="0.75"/>
<circle cx="650.4" cy="196.2" r="1.75" stroke-width="0.75"/>
<circle cx="658.2" cy="191.0" r="1.75" stroke-width="0.75"/>
<circle cx="666.0" cy="186.0" r="1.75" stroke-width="0.75"/>
<circle cx="673.8" cy="181.5" r="1.75" stroke-width="0.75"/>
<circle cx="681.6" cy="178.9" r="1.75" stroke-width="0.75"/>
</g>
<rect x="412.5" y="147.4" width="273.0" height="83.1" fill="none" stroke="#686868" stroke-width="1"/>
<line x1="451.50" y1="230.5" x2="451.50" y2="227.5" stroke="#2a2a2a" stroke-width="0.8"/>
<line x1="451.50" y1="147.4" x2="451.50" y2="150.4" stroke="#2a2a2a" stroke-width="0.8"/>
<text transform="translate(451.00,251.70) scale(0.97,1.06)" font-family="Liberation Serif, Times New Roman, serif" font-size="16.5" text-anchor="middle" fill="#262626">1</text>
<line x1="549.00" y1="230.5" x2="549.00" y2="227.5" stroke="#2a2a2a" stroke-width="0.8"/>
<line x1="549.00" y1="147.4" x2="549.00" y2="150.4" stroke="#2a2a2a" stroke-width="0.8"/>
<text transform="translate(548.50,251.70) scale(0.97,1.06)" font-family="Liberation Serif, Times New Roman, serif" font-size="16.5" text-anchor="middle" fill="#262626">1.5</text>
<line x1="646.50" y1="230.5" x2="646.50" y2="227.5" stroke="#2a2a2a" stroke-width="0.8"/>
<line x1="646.50" y1="147.4" x2="646.50" y2="150.4" stroke="#2a2a2a" stroke-width="0.8"/>
<text transform="translate(646.00,251.70) scale(0.97,1.06)" font-family="Liberation Serif, Times New Roman, serif" font-size="16.5" text-anchor="middle" fill="#262626">2</text>
<text transform="translate(406.80,153.30) scale(0.97,1.06)" font-family="Liberation Serif, Times New Roman, serif" font-size="16.5" text-anchor="end" fill="#262626">0</text>
<line x1="412.5" y1="175.10" x2="415.3" y2="175.10" stroke="#2a2a2a" stroke-width="0.8"/>
<line x1="685.5" y1="175.10" x2="682.7" y2="175.10" stroke="#2a2a2a" stroke-width="0.8"/>
<text transform="translate(406.80,181.00) scale(0.97,1.06)" font-family="Liberation Serif, Times New Roman, serif" font-size="16.5" text-anchor="end" fill="#262626">-10</text>
<line x1="412.5" y1="202.80" x2="415.3" y2="202.80" stroke="#2a2a2a" stroke-width="0.8"/>
<line x1="685.5" y1="202.80" x2="682.7" y2="202.80" stroke="#2a2a2a" stroke-width="0.8"/>
<text transform="translate(406.80,208.70) scale(0.97,1.06)" font-family="Liberation Serif, Times New Roman, serif" font-size="16.5" text-anchor="end" fill="#262626">-20</text>
<text transform="translate(406.80,236.40) scale(0.97,1.06)" font-family="Liberation Serif, Times New Roman, serif" font-size="16.5" text-anchor="end" fill="#262626">-30</text>
<text transform="translate(548.00,272.10) scale(0.995,1.06)" font-family="Liberation Serif, Times New Roman, serif" font-size="17.6" text-anchor="middle" fill="#262626">Frequency [GHz]</text>
<text transform="translate(371.20,221.00) rotate(-90) scale(1.0,1)" font-family="Liberation Serif, Times New Roman, serif" font-size="17.5" fill="#262626" text-anchor="middle">|</text>
<text transform="translate(371.50,219.50) rotate(-90) scale(1.0,1)" font-family="Liberation Serif, Times New Roman, serif" font-size="20" fill="#262626" font-style="italic">S</text>
<text transform="translate(379.90,209.40) rotate(-90) scale(1.0,1)" font-family="Liberation Serif, Times New Roman, serif" font-size="14" fill="#262626" >41</text>
<text transform="translate(371.20,192.85) rotate(-90) scale(1.0,1)" font-family="Liberation Serif, Times New Roman, serif" font-size="17.5" fill="#262626" text-anchor="middle">|</text>
<text transform="translate(371.40,186.10) rotate(-90) scale(0.92,1)" font-family="Liberation Serif, Times New Roman, serif" font-size="18.5" fill="#262626" >[dB]</text>
</svg>
</body></html>
